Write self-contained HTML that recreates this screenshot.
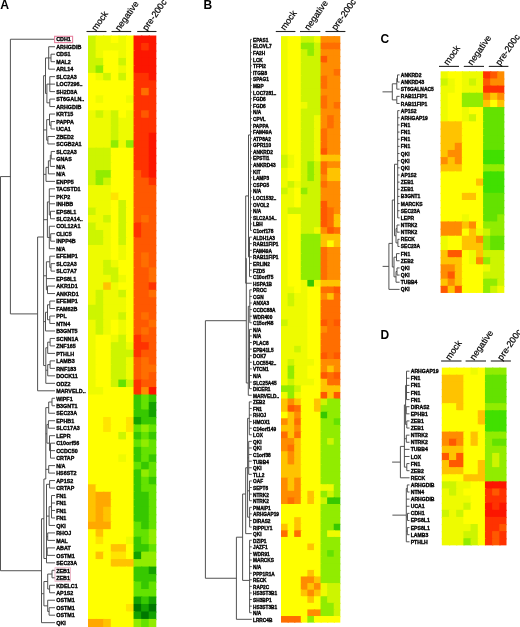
<!DOCTYPE html>
<html><head><meta charset="utf-8"><style>
html,body{margin:0;padding:0;background:#fff;overflow:hidden;width:520px;height:627px;}
svg{display:block;filter:blur(0.35px);}
text{font-family:"Liberation Sans", sans-serif;}
</style></head><body>
<svg width="526" height="633" viewBox="0 0 526 633">
<rect width="526" height="633" fill="#fff"/>
<rect x="88.00" y="35.50" width="8.79" height="8.68" fill="#cdf500"/>
<rect x="95.59" y="35.50" width="8.79" height="8.68" fill="#eefb00"/>
<rect x="103.18" y="35.50" width="8.79" height="8.68" fill="#eefb00"/>
<rect x="110.77" y="35.50" width="8.79" height="8.68" fill="#ffff00"/>
<rect x="118.36" y="35.50" width="8.79" height="8.68" fill="#eefb00"/>
<rect x="125.95" y="35.50" width="8.79" height="8.68" fill="#ffff00"/>
<rect x="133.54" y="35.50" width="8.79" height="8.68" fill="#fc1600"/>
<rect x="141.13" y="35.50" width="8.79" height="8.68" fill="#fc1600"/>
<rect x="148.72" y="35.50" width="7.59" height="8.68" fill="#fc1600"/>
<rect x="88.00" y="42.98" width="8.79" height="8.68" fill="#cdf500"/>
<rect x="95.59" y="42.98" width="8.79" height="8.68" fill="#eefb00"/>
<rect x="103.18" y="42.98" width="8.79" height="8.68" fill="#eefb00"/>
<rect x="110.77" y="42.98" width="8.79" height="8.68" fill="#eefb00"/>
<rect x="118.36" y="42.98" width="8.79" height="8.68" fill="#eefb00"/>
<rect x="125.95" y="42.98" width="8.79" height="8.68" fill="#ffff00"/>
<rect x="133.54" y="42.98" width="8.79" height="8.68" fill="#fc1600"/>
<rect x="141.13" y="42.98" width="8.79" height="8.68" fill="#ff3200"/>
<rect x="148.72" y="42.98" width="7.59" height="8.68" fill="#fc1600"/>
<rect x="88.00" y="50.46" width="8.79" height="8.68" fill="#cdf500"/>
<rect x="95.59" y="50.46" width="8.79" height="8.68" fill="#eefb00"/>
<rect x="103.18" y="50.46" width="8.79" height="8.68" fill="#ffff00"/>
<rect x="110.77" y="50.46" width="8.79" height="8.68" fill="#ffff00"/>
<rect x="118.36" y="50.46" width="8.79" height="8.68" fill="#eefb00"/>
<rect x="125.95" y="50.46" width="8.79" height="8.68" fill="#ffff00"/>
<rect x="133.54" y="50.46" width="8.79" height="8.68" fill="#fc1600"/>
<rect x="141.13" y="50.46" width="8.79" height="8.68" fill="#fc1600"/>
<rect x="148.72" y="50.46" width="7.59" height="8.68" fill="#fc1600"/>
<rect x="88.00" y="57.94" width="8.79" height="8.68" fill="#cdf500"/>
<rect x="95.59" y="57.94" width="8.79" height="8.68" fill="#cdf500"/>
<rect x="103.18" y="57.94" width="8.79" height="8.68" fill="#ffff00"/>
<rect x="110.77" y="57.94" width="8.79" height="8.68" fill="#ffff00"/>
<rect x="118.36" y="57.94" width="8.79" height="8.68" fill="#cdf500"/>
<rect x="125.95" y="57.94" width="8.79" height="8.68" fill="#ffff00"/>
<rect x="133.54" y="57.94" width="8.79" height="8.68" fill="#fc1600"/>
<rect x="141.13" y="57.94" width="8.79" height="8.68" fill="#fc1600"/>
<rect x="148.72" y="57.94" width="7.59" height="8.68" fill="#fc1600"/>
<rect x="88.00" y="65.42" width="8.79" height="8.68" fill="#cdf500"/>
<rect x="95.59" y="65.42" width="8.79" height="8.68" fill="#91ec00"/>
<rect x="103.18" y="65.42" width="8.79" height="8.68" fill="#ffff00"/>
<rect x="110.77" y="65.42" width="8.79" height="8.68" fill="#ffff00"/>
<rect x="118.36" y="65.42" width="8.79" height="8.68" fill="#eefb00"/>
<rect x="125.95" y="65.42" width="8.79" height="8.68" fill="#ffff00"/>
<rect x="133.54" y="65.42" width="8.79" height="8.68" fill="#fc1600"/>
<rect x="141.13" y="65.42" width="8.79" height="8.68" fill="#fc1600"/>
<rect x="148.72" y="65.42" width="7.59" height="8.68" fill="#fc1600"/>
<rect x="88.00" y="72.90" width="8.79" height="8.68" fill="#ffff00"/>
<rect x="95.59" y="72.90" width="8.79" height="8.68" fill="#eefb00"/>
<rect x="103.18" y="72.90" width="8.79" height="8.68" fill="#cdf500"/>
<rect x="110.77" y="72.90" width="8.79" height="8.68" fill="#ffff00"/>
<rect x="118.36" y="72.90" width="8.79" height="8.68" fill="#cdf500"/>
<rect x="125.95" y="72.90" width="8.79" height="8.68" fill="#ffff00"/>
<rect x="133.54" y="72.90" width="8.79" height="8.68" fill="#ff3200"/>
<rect x="141.13" y="72.90" width="8.79" height="8.68" fill="#ff3200"/>
<rect x="148.72" y="72.90" width="7.59" height="8.68" fill="#fc1600"/>
<rect x="88.00" y="80.38" width="8.79" height="8.68" fill="#ffff00"/>
<rect x="95.59" y="80.38" width="8.79" height="8.68" fill="#ffff00"/>
<rect x="103.18" y="80.38" width="8.79" height="8.68" fill="#ffff00"/>
<rect x="110.77" y="80.38" width="8.79" height="8.68" fill="#ffff00"/>
<rect x="118.36" y="80.38" width="8.79" height="8.68" fill="#ffff00"/>
<rect x="125.95" y="80.38" width="8.79" height="8.68" fill="#ffff00"/>
<rect x="133.54" y="80.38" width="8.79" height="8.68" fill="#ff3200"/>
<rect x="141.13" y="80.38" width="8.79" height="8.68" fill="#ff3200"/>
<rect x="148.72" y="80.38" width="7.59" height="8.68" fill="#ff3200"/>
<rect x="88.00" y="87.86" width="8.79" height="8.68" fill="#ffff00"/>
<rect x="95.59" y="87.86" width="8.79" height="8.68" fill="#ffff00"/>
<rect x="103.18" y="87.86" width="8.79" height="8.68" fill="#ffff00"/>
<rect x="110.77" y="87.86" width="8.79" height="8.68" fill="#ffff00"/>
<rect x="118.36" y="87.86" width="8.79" height="8.68" fill="#ffff00"/>
<rect x="125.95" y="87.86" width="8.79" height="8.68" fill="#ffff00"/>
<rect x="133.54" y="87.86" width="8.79" height="8.68" fill="#ff3200"/>
<rect x="141.13" y="87.86" width="8.79" height="8.68" fill="#ff6e00"/>
<rect x="148.72" y="87.86" width="7.59" height="8.68" fill="#ff3200"/>
<rect x="88.00" y="95.34" width="8.79" height="8.68" fill="#ffff00"/>
<rect x="95.59" y="95.34" width="8.79" height="8.68" fill="#eefb00"/>
<rect x="103.18" y="95.34" width="8.79" height="8.68" fill="#ffff00"/>
<rect x="110.77" y="95.34" width="8.79" height="8.68" fill="#ffff00"/>
<rect x="118.36" y="95.34" width="8.79" height="8.68" fill="#ffff00"/>
<rect x="125.95" y="95.34" width="8.79" height="8.68" fill="#eefb00"/>
<rect x="133.54" y="95.34" width="8.79" height="8.68" fill="#ff3200"/>
<rect x="141.13" y="95.34" width="8.79" height="8.68" fill="#ff3200"/>
<rect x="148.72" y="95.34" width="7.59" height="8.68" fill="#ff3200"/>
<rect x="88.00" y="102.82" width="8.79" height="8.68" fill="#ffff00"/>
<rect x="95.59" y="102.82" width="8.79" height="8.68" fill="#ffff00"/>
<rect x="103.18" y="102.82" width="8.79" height="8.68" fill="#ffff00"/>
<rect x="110.77" y="102.82" width="8.79" height="8.68" fill="#ffff00"/>
<rect x="118.36" y="102.82" width="8.79" height="8.68" fill="#ffff00"/>
<rect x="125.95" y="102.82" width="8.79" height="8.68" fill="#ffff00"/>
<rect x="133.54" y="102.82" width="8.79" height="8.68" fill="#ff3200"/>
<rect x="141.13" y="102.82" width="8.79" height="8.68" fill="#ff3200"/>
<rect x="148.72" y="102.82" width="7.59" height="8.68" fill="#ff3200"/>
<rect x="88.00" y="110.30" width="8.79" height="8.68" fill="#eefb00"/>
<rect x="95.59" y="110.30" width="8.79" height="8.68" fill="#cdf500"/>
<rect x="103.18" y="110.30" width="8.79" height="8.68" fill="#eefb00"/>
<rect x="110.77" y="110.30" width="8.79" height="8.68" fill="#cdf500"/>
<rect x="118.36" y="110.30" width="8.79" height="8.68" fill="#ffff00"/>
<rect x="125.95" y="110.30" width="8.79" height="8.68" fill="#eefb00"/>
<rect x="133.54" y="110.30" width="8.79" height="8.68" fill="#ff3200"/>
<rect x="141.13" y="110.30" width="8.79" height="8.68" fill="#ff5800"/>
<rect x="148.72" y="110.30" width="7.59" height="8.68" fill="#ff3200"/>
<rect x="88.00" y="117.78" width="8.79" height="8.68" fill="#eefb00"/>
<rect x="95.59" y="117.78" width="8.79" height="8.68" fill="#eefb00"/>
<rect x="103.18" y="117.78" width="8.79" height="8.68" fill="#eefb00"/>
<rect x="110.77" y="117.78" width="8.79" height="8.68" fill="#cdf500"/>
<rect x="118.36" y="117.78" width="8.79" height="8.68" fill="#eefb00"/>
<rect x="125.95" y="117.78" width="8.79" height="8.68" fill="#eefb00"/>
<rect x="133.54" y="117.78" width="8.79" height="8.68" fill="#ff3200"/>
<rect x="141.13" y="117.78" width="8.79" height="8.68" fill="#ff3200"/>
<rect x="148.72" y="117.78" width="7.59" height="8.68" fill="#ff3200"/>
<rect x="88.00" y="125.26" width="8.79" height="8.68" fill="#eefb00"/>
<rect x="95.59" y="125.26" width="8.79" height="8.68" fill="#eefb00"/>
<rect x="103.18" y="125.26" width="8.79" height="8.68" fill="#eefb00"/>
<rect x="110.77" y="125.26" width="8.79" height="8.68" fill="#cdf500"/>
<rect x="118.36" y="125.26" width="8.79" height="8.68" fill="#eefb00"/>
<rect x="125.95" y="125.26" width="8.79" height="8.68" fill="#eefb00"/>
<rect x="133.54" y="125.26" width="8.79" height="8.68" fill="#ff3200"/>
<rect x="141.13" y="125.26" width="8.79" height="8.68" fill="#ff3200"/>
<rect x="148.72" y="125.26" width="7.59" height="8.68" fill="#ff3200"/>
<rect x="88.00" y="132.74" width="8.79" height="8.68" fill="#eefb00"/>
<rect x="95.59" y="132.74" width="8.79" height="8.68" fill="#eefb00"/>
<rect x="103.18" y="132.74" width="8.79" height="8.68" fill="#eefb00"/>
<rect x="110.77" y="132.74" width="8.79" height="8.68" fill="#cdf500"/>
<rect x="118.36" y="132.74" width="8.79" height="8.68" fill="#eefb00"/>
<rect x="125.95" y="132.74" width="8.79" height="8.68" fill="#eefb00"/>
<rect x="133.54" y="132.74" width="8.79" height="8.68" fill="#ff3200"/>
<rect x="141.13" y="132.74" width="8.79" height="8.68" fill="#ff3200"/>
<rect x="148.72" y="132.74" width="7.59" height="8.68" fill="#fc1600"/>
<rect x="88.00" y="140.22" width="8.79" height="8.68" fill="#eefb00"/>
<rect x="95.59" y="140.22" width="8.79" height="8.68" fill="#eefb00"/>
<rect x="103.18" y="140.22" width="8.79" height="8.68" fill="#eefb00"/>
<rect x="110.77" y="140.22" width="8.79" height="8.68" fill="#91ec00"/>
<rect x="118.36" y="140.22" width="8.79" height="8.68" fill="#eefb00"/>
<rect x="125.95" y="140.22" width="8.79" height="8.68" fill="#91ec00"/>
<rect x="133.54" y="140.22" width="8.79" height="8.68" fill="#ff3200"/>
<rect x="141.13" y="140.22" width="8.79" height="8.68" fill="#ff3200"/>
<rect x="148.72" y="140.22" width="7.59" height="8.68" fill="#fc1600"/>
<rect x="88.00" y="147.70" width="8.79" height="8.68" fill="#cdf500"/>
<rect x="95.59" y="147.70" width="8.79" height="8.68" fill="#cdf500"/>
<rect x="103.18" y="147.70" width="8.79" height="8.68" fill="#cdf500"/>
<rect x="110.77" y="147.70" width="8.79" height="8.68" fill="#ffff00"/>
<rect x="118.36" y="147.70" width="8.79" height="8.68" fill="#ffff00"/>
<rect x="125.95" y="147.70" width="8.79" height="8.68" fill="#ffff00"/>
<rect x="133.54" y="147.70" width="8.79" height="8.68" fill="#ff3200"/>
<rect x="141.13" y="147.70" width="8.79" height="8.68" fill="#ff3200"/>
<rect x="148.72" y="147.70" width="7.59" height="8.68" fill="#fc1600"/>
<rect x="88.00" y="155.18" width="8.79" height="8.68" fill="#cdf500"/>
<rect x="95.59" y="155.18" width="8.79" height="8.68" fill="#cdf500"/>
<rect x="103.18" y="155.18" width="8.79" height="8.68" fill="#cdf500"/>
<rect x="110.77" y="155.18" width="8.79" height="8.68" fill="#ffff00"/>
<rect x="118.36" y="155.18" width="8.79" height="8.68" fill="#ffff00"/>
<rect x="125.95" y="155.18" width="8.79" height="8.68" fill="#ffff00"/>
<rect x="133.54" y="155.18" width="8.79" height="8.68" fill="#ff3200"/>
<rect x="141.13" y="155.18" width="8.79" height="8.68" fill="#ff3200"/>
<rect x="148.72" y="155.18" width="7.59" height="8.68" fill="#fc1600"/>
<rect x="88.00" y="162.66" width="8.79" height="8.68" fill="#cdf500"/>
<rect x="95.59" y="162.66" width="8.79" height="8.68" fill="#cdf500"/>
<rect x="103.18" y="162.66" width="8.79" height="8.68" fill="#cdf500"/>
<rect x="110.77" y="162.66" width="8.79" height="8.68" fill="#ffff00"/>
<rect x="118.36" y="162.66" width="8.79" height="8.68" fill="#ffff00"/>
<rect x="125.95" y="162.66" width="8.79" height="8.68" fill="#ffff00"/>
<rect x="133.54" y="162.66" width="8.79" height="8.68" fill="#ff3200"/>
<rect x="141.13" y="162.66" width="8.79" height="8.68" fill="#ff3200"/>
<rect x="148.72" y="162.66" width="7.59" height="8.68" fill="#fc1600"/>
<rect x="88.00" y="170.14" width="8.79" height="8.68" fill="#cdf500"/>
<rect x="95.59" y="170.14" width="8.79" height="8.68" fill="#91ec00"/>
<rect x="103.18" y="170.14" width="8.79" height="8.68" fill="#91ec00"/>
<rect x="110.77" y="170.14" width="8.79" height="8.68" fill="#ffff00"/>
<rect x="118.36" y="170.14" width="8.79" height="8.68" fill="#ffff00"/>
<rect x="125.95" y="170.14" width="8.79" height="8.68" fill="#ffff00"/>
<rect x="133.54" y="170.14" width="8.79" height="8.68" fill="#ff5800"/>
<rect x="141.13" y="170.14" width="8.79" height="8.68" fill="#ff3200"/>
<rect x="148.72" y="170.14" width="7.59" height="8.68" fill="#fc1600"/>
<rect x="88.00" y="177.62" width="8.79" height="8.68" fill="#cdf500"/>
<rect x="95.59" y="177.62" width="8.79" height="8.68" fill="#91ec00"/>
<rect x="103.18" y="177.62" width="8.79" height="8.68" fill="#cdf500"/>
<rect x="110.77" y="177.62" width="8.79" height="8.68" fill="#ffff00"/>
<rect x="118.36" y="177.62" width="8.79" height="8.68" fill="#ffff00"/>
<rect x="125.95" y="177.62" width="8.79" height="8.68" fill="#ffff00"/>
<rect x="133.54" y="177.62" width="8.79" height="8.68" fill="#ff5800"/>
<rect x="141.13" y="177.62" width="8.79" height="8.68" fill="#ff5800"/>
<rect x="148.72" y="177.62" width="7.59" height="8.68" fill="#ff3200"/>
<rect x="88.00" y="185.10" width="8.79" height="8.68" fill="#eefb00"/>
<rect x="95.59" y="185.10" width="8.79" height="8.68" fill="#eefb00"/>
<rect x="103.18" y="185.10" width="8.79" height="8.68" fill="#eefb00"/>
<rect x="110.77" y="185.10" width="8.79" height="8.68" fill="#ffff00"/>
<rect x="118.36" y="185.10" width="8.79" height="8.68" fill="#ffff00"/>
<rect x="125.95" y="185.10" width="8.79" height="8.68" fill="#ffff00"/>
<rect x="133.54" y="185.10" width="8.79" height="8.68" fill="#ff5800"/>
<rect x="141.13" y="185.10" width="8.79" height="8.68" fill="#ff5800"/>
<rect x="148.72" y="185.10" width="7.59" height="8.68" fill="#ff5800"/>
<rect x="88.00" y="192.58" width="8.79" height="8.68" fill="#eefb00"/>
<rect x="95.59" y="192.58" width="8.79" height="8.68" fill="#eefb00"/>
<rect x="103.18" y="192.58" width="8.79" height="8.68" fill="#eefb00"/>
<rect x="110.77" y="192.58" width="8.79" height="8.68" fill="#ffe400"/>
<rect x="118.36" y="192.58" width="8.79" height="8.68" fill="#ffff00"/>
<rect x="125.95" y="192.58" width="8.79" height="8.68" fill="#ffff00"/>
<rect x="133.54" y="192.58" width="8.79" height="8.68" fill="#ff5800"/>
<rect x="141.13" y="192.58" width="8.79" height="8.68" fill="#ff5800"/>
<rect x="148.72" y="192.58" width="7.59" height="8.68" fill="#ff5800"/>
<rect x="88.00" y="200.06" width="8.79" height="8.68" fill="#eefb00"/>
<rect x="95.59" y="200.06" width="8.79" height="8.68" fill="#eefb00"/>
<rect x="103.18" y="200.06" width="8.79" height="8.68" fill="#eefb00"/>
<rect x="110.77" y="200.06" width="8.79" height="8.68" fill="#ffff00"/>
<rect x="118.36" y="200.06" width="8.79" height="8.68" fill="#cdf500"/>
<rect x="125.95" y="200.06" width="8.79" height="8.68" fill="#ffff00"/>
<rect x="133.54" y="200.06" width="8.79" height="8.68" fill="#ff5800"/>
<rect x="141.13" y="200.06" width="8.79" height="8.68" fill="#ff5800"/>
<rect x="148.72" y="200.06" width="7.59" height="8.68" fill="#ff5800"/>
<rect x="88.00" y="207.54" width="8.79" height="8.68" fill="#cdf500"/>
<rect x="95.59" y="207.54" width="8.79" height="8.68" fill="#eefb00"/>
<rect x="103.18" y="207.54" width="8.79" height="8.68" fill="#eefb00"/>
<rect x="110.77" y="207.54" width="8.79" height="8.68" fill="#ffff00"/>
<rect x="118.36" y="207.54" width="8.79" height="8.68" fill="#cdf500"/>
<rect x="125.95" y="207.54" width="8.79" height="8.68" fill="#ffff00"/>
<rect x="133.54" y="207.54" width="8.79" height="8.68" fill="#ff5800"/>
<rect x="141.13" y="207.54" width="8.79" height="8.68" fill="#ff5800"/>
<rect x="148.72" y="207.54" width="7.59" height="8.68" fill="#ff5800"/>
<rect x="88.00" y="215.02" width="8.79" height="8.68" fill="#eefb00"/>
<rect x="95.59" y="215.02" width="8.79" height="8.68" fill="#eefb00"/>
<rect x="103.18" y="215.02" width="8.79" height="8.68" fill="#cdf500"/>
<rect x="110.77" y="215.02" width="8.79" height="8.68" fill="#ffff00"/>
<rect x="118.36" y="215.02" width="8.79" height="8.68" fill="#cdf500"/>
<rect x="125.95" y="215.02" width="8.79" height="8.68" fill="#ffff00"/>
<rect x="133.54" y="215.02" width="8.79" height="8.68" fill="#ff5800"/>
<rect x="141.13" y="215.02" width="8.79" height="8.68" fill="#ff6e00"/>
<rect x="148.72" y="215.02" width="7.59" height="8.68" fill="#ff5800"/>
<rect x="88.00" y="222.50" width="8.79" height="8.68" fill="#cdf500"/>
<rect x="95.59" y="222.50" width="8.79" height="8.68" fill="#eefb00"/>
<rect x="103.18" y="222.50" width="8.79" height="8.68" fill="#eefb00"/>
<rect x="110.77" y="222.50" width="8.79" height="8.68" fill="#ffff00"/>
<rect x="118.36" y="222.50" width="8.79" height="8.68" fill="#cdf500"/>
<rect x="125.95" y="222.50" width="8.79" height="8.68" fill="#ffff00"/>
<rect x="133.54" y="222.50" width="8.79" height="8.68" fill="#ff3200"/>
<rect x="141.13" y="222.50" width="8.79" height="8.68" fill="#ff5800"/>
<rect x="148.72" y="222.50" width="7.59" height="8.68" fill="#ff5800"/>
<rect x="88.00" y="229.98" width="8.79" height="8.68" fill="#cdf500"/>
<rect x="95.59" y="229.98" width="8.79" height="8.68" fill="#cdf500"/>
<rect x="103.18" y="229.98" width="8.79" height="8.68" fill="#eefb00"/>
<rect x="110.77" y="229.98" width="8.79" height="8.68" fill="#ffff00"/>
<rect x="118.36" y="229.98" width="8.79" height="8.68" fill="#cdf500"/>
<rect x="125.95" y="229.98" width="8.79" height="8.68" fill="#ffff00"/>
<rect x="133.54" y="229.98" width="8.79" height="8.68" fill="#ff3200"/>
<rect x="141.13" y="229.98" width="8.79" height="8.68" fill="#ff5800"/>
<rect x="148.72" y="229.98" width="7.59" height="8.68" fill="#ff5800"/>
<rect x="88.00" y="237.46" width="8.79" height="8.68" fill="#cdf500"/>
<rect x="95.59" y="237.46" width="8.79" height="8.68" fill="#cdf500"/>
<rect x="103.18" y="237.46" width="8.79" height="8.68" fill="#eefb00"/>
<rect x="110.77" y="237.46" width="8.79" height="8.68" fill="#ffff00"/>
<rect x="118.36" y="237.46" width="8.79" height="8.68" fill="#cdf500"/>
<rect x="125.95" y="237.46" width="8.79" height="8.68" fill="#ffff00"/>
<rect x="133.54" y="237.46" width="8.79" height="8.68" fill="#ff5800"/>
<rect x="141.13" y="237.46" width="8.79" height="8.68" fill="#ff5800"/>
<rect x="148.72" y="237.46" width="7.59" height="8.68" fill="#ff5800"/>
<rect x="88.00" y="244.94" width="8.79" height="8.68" fill="#eefb00"/>
<rect x="95.59" y="244.94" width="8.79" height="8.68" fill="#eefb00"/>
<rect x="103.18" y="244.94" width="8.79" height="8.68" fill="#eefb00"/>
<rect x="110.77" y="244.94" width="8.79" height="8.68" fill="#ffff00"/>
<rect x="118.36" y="244.94" width="8.79" height="8.68" fill="#eefb00"/>
<rect x="125.95" y="244.94" width="8.79" height="8.68" fill="#ffff00"/>
<rect x="133.54" y="244.94" width="8.79" height="8.68" fill="#ff5800"/>
<rect x="141.13" y="244.94" width="8.79" height="8.68" fill="#ff5800"/>
<rect x="148.72" y="244.94" width="7.59" height="8.68" fill="#ff5800"/>
<rect x="88.00" y="252.42" width="8.79" height="8.68" fill="#eefb00"/>
<rect x="95.59" y="252.42" width="8.79" height="8.68" fill="#eefb00"/>
<rect x="103.18" y="252.42" width="8.79" height="8.68" fill="#eefb00"/>
<rect x="110.77" y="252.42" width="8.79" height="8.68" fill="#ffff00"/>
<rect x="118.36" y="252.42" width="8.79" height="8.68" fill="#eefb00"/>
<rect x="125.95" y="252.42" width="8.79" height="8.68" fill="#ffff00"/>
<rect x="133.54" y="252.42" width="8.79" height="8.68" fill="#ff5800"/>
<rect x="141.13" y="252.42" width="8.79" height="8.68" fill="#ff6e00"/>
<rect x="148.72" y="252.42" width="7.59" height="8.68" fill="#ff5800"/>
<rect x="88.00" y="259.90" width="8.79" height="8.68" fill="#eefb00"/>
<rect x="95.59" y="259.90" width="8.79" height="8.68" fill="#eefb00"/>
<rect x="103.18" y="259.90" width="8.79" height="8.68" fill="#cdf500"/>
<rect x="110.77" y="259.90" width="8.79" height="8.68" fill="#eefb00"/>
<rect x="118.36" y="259.90" width="8.79" height="8.68" fill="#ffff00"/>
<rect x="125.95" y="259.90" width="8.79" height="8.68" fill="#ffff00"/>
<rect x="133.54" y="259.90" width="8.79" height="8.68" fill="#ff5800"/>
<rect x="141.13" y="259.90" width="8.79" height="8.68" fill="#ff6e00"/>
<rect x="148.72" y="259.90" width="7.59" height="8.68" fill="#ff5800"/>
<rect x="88.00" y="267.38" width="8.79" height="8.68" fill="#eefb00"/>
<rect x="95.59" y="267.38" width="8.79" height="8.68" fill="#eefb00"/>
<rect x="103.18" y="267.38" width="8.79" height="8.68" fill="#cdf500"/>
<rect x="110.77" y="267.38" width="8.79" height="8.68" fill="#cdf500"/>
<rect x="118.36" y="267.38" width="8.79" height="8.68" fill="#ffff00"/>
<rect x="125.95" y="267.38" width="8.79" height="8.68" fill="#ffff00"/>
<rect x="133.54" y="267.38" width="8.79" height="8.68" fill="#ff5800"/>
<rect x="141.13" y="267.38" width="8.79" height="8.68" fill="#ff5800"/>
<rect x="148.72" y="267.38" width="7.59" height="8.68" fill="#ff6e00"/>
<rect x="88.00" y="274.86" width="8.79" height="8.68" fill="#eefb00"/>
<rect x="95.59" y="274.86" width="8.79" height="8.68" fill="#eefb00"/>
<rect x="103.18" y="274.86" width="8.79" height="8.68" fill="#eefb00"/>
<rect x="110.77" y="274.86" width="8.79" height="8.68" fill="#cdf500"/>
<rect x="118.36" y="274.86" width="8.79" height="8.68" fill="#eefb00"/>
<rect x="125.95" y="274.86" width="8.79" height="8.68" fill="#ffff00"/>
<rect x="133.54" y="274.86" width="8.79" height="8.68" fill="#ff5800"/>
<rect x="141.13" y="274.86" width="8.79" height="8.68" fill="#ff5800"/>
<rect x="148.72" y="274.86" width="7.59" height="8.68" fill="#ff6e00"/>
<rect x="88.00" y="282.34" width="8.79" height="8.68" fill="#eefb00"/>
<rect x="95.59" y="282.34" width="8.79" height="8.68" fill="#eefb00"/>
<rect x="103.18" y="282.34" width="8.79" height="8.68" fill="#ffc300"/>
<rect x="110.77" y="282.34" width="8.79" height="8.68" fill="#eefb00"/>
<rect x="118.36" y="282.34" width="8.79" height="8.68" fill="#ffff00"/>
<rect x="125.95" y="282.34" width="8.79" height="8.68" fill="#ffff00"/>
<rect x="133.54" y="282.34" width="8.79" height="8.68" fill="#ff5800"/>
<rect x="141.13" y="282.34" width="8.79" height="8.68" fill="#ff5800"/>
<rect x="148.72" y="282.34" width="7.59" height="8.68" fill="#ff3200"/>
<rect x="88.00" y="289.82" width="8.79" height="8.68" fill="#eefb00"/>
<rect x="95.59" y="289.82" width="8.79" height="8.68" fill="#cdf500"/>
<rect x="103.18" y="289.82" width="8.79" height="8.68" fill="#eefb00"/>
<rect x="110.77" y="289.82" width="8.79" height="8.68" fill="#eefb00"/>
<rect x="118.36" y="289.82" width="8.79" height="8.68" fill="#cdf500"/>
<rect x="125.95" y="289.82" width="8.79" height="8.68" fill="#ffff00"/>
<rect x="133.54" y="289.82" width="8.79" height="8.68" fill="#ff5800"/>
<rect x="141.13" y="289.82" width="8.79" height="8.68" fill="#ff5800"/>
<rect x="148.72" y="289.82" width="7.59" height="8.68" fill="#ff6e00"/>
<rect x="88.00" y="297.30" width="8.79" height="8.68" fill="#eefb00"/>
<rect x="95.59" y="297.30" width="8.79" height="8.68" fill="#cdf500"/>
<rect x="103.18" y="297.30" width="8.79" height="8.68" fill="#eefb00"/>
<rect x="110.77" y="297.30" width="8.79" height="8.68" fill="#eefb00"/>
<rect x="118.36" y="297.30" width="8.79" height="8.68" fill="#eefb00"/>
<rect x="125.95" y="297.30" width="8.79" height="8.68" fill="#ffff00"/>
<rect x="133.54" y="297.30" width="8.79" height="8.68" fill="#ff5800"/>
<rect x="141.13" y="297.30" width="8.79" height="8.68" fill="#ff5800"/>
<rect x="148.72" y="297.30" width="7.59" height="8.68" fill="#ff5800"/>
<rect x="88.00" y="304.78" width="8.79" height="8.68" fill="#cdf500"/>
<rect x="95.59" y="304.78" width="8.79" height="8.68" fill="#cdf500"/>
<rect x="103.18" y="304.78" width="8.79" height="8.68" fill="#eefb00"/>
<rect x="110.77" y="304.78" width="8.79" height="8.68" fill="#eefb00"/>
<rect x="118.36" y="304.78" width="8.79" height="8.68" fill="#eefb00"/>
<rect x="125.95" y="304.78" width="8.79" height="8.68" fill="#ffff00"/>
<rect x="133.54" y="304.78" width="8.79" height="8.68" fill="#ff5800"/>
<rect x="141.13" y="304.78" width="8.79" height="8.68" fill="#ff5800"/>
<rect x="148.72" y="304.78" width="7.59" height="8.68" fill="#ff5800"/>
<rect x="88.00" y="312.26" width="8.79" height="8.68" fill="#cdf500"/>
<rect x="95.59" y="312.26" width="8.79" height="8.68" fill="#cdf500"/>
<rect x="103.18" y="312.26" width="8.79" height="8.68" fill="#eefb00"/>
<rect x="110.77" y="312.26" width="8.79" height="8.68" fill="#eefb00"/>
<rect x="118.36" y="312.26" width="8.79" height="8.68" fill="#cdf500"/>
<rect x="125.95" y="312.26" width="8.79" height="8.68" fill="#ffff00"/>
<rect x="133.54" y="312.26" width="8.79" height="8.68" fill="#ff5800"/>
<rect x="141.13" y="312.26" width="8.79" height="8.68" fill="#ff6e00"/>
<rect x="148.72" y="312.26" width="7.59" height="8.68" fill="#ff5800"/>
<rect x="88.00" y="319.74" width="8.79" height="8.68" fill="#eefb00"/>
<rect x="95.59" y="319.74" width="8.79" height="8.68" fill="#cdf500"/>
<rect x="103.18" y="319.74" width="8.79" height="8.68" fill="#eefb00"/>
<rect x="110.77" y="319.74" width="8.79" height="8.68" fill="#ffff00"/>
<rect x="118.36" y="319.74" width="8.79" height="8.68" fill="#eefb00"/>
<rect x="125.95" y="319.74" width="8.79" height="8.68" fill="#ffff00"/>
<rect x="133.54" y="319.74" width="8.79" height="8.68" fill="#ff5800"/>
<rect x="141.13" y="319.74" width="8.79" height="8.68" fill="#ff5800"/>
<rect x="148.72" y="319.74" width="7.59" height="8.68" fill="#ff6e00"/>
<rect x="88.00" y="327.22" width="8.79" height="8.68" fill="#eefb00"/>
<rect x="95.59" y="327.22" width="8.79" height="8.68" fill="#cdf500"/>
<rect x="103.18" y="327.22" width="8.79" height="8.68" fill="#eefb00"/>
<rect x="110.77" y="327.22" width="8.79" height="8.68" fill="#ffff00"/>
<rect x="118.36" y="327.22" width="8.79" height="8.68" fill="#eefb00"/>
<rect x="125.95" y="327.22" width="8.79" height="8.68" fill="#ffff00"/>
<rect x="133.54" y="327.22" width="8.79" height="8.68" fill="#ff5800"/>
<rect x="141.13" y="327.22" width="8.79" height="8.68" fill="#ff6e00"/>
<rect x="148.72" y="327.22" width="7.59" height="8.68" fill="#ff5800"/>
<rect x="88.00" y="334.70" width="8.79" height="8.68" fill="#eefb00"/>
<rect x="95.59" y="334.70" width="8.79" height="8.68" fill="#ffff00"/>
<rect x="103.18" y="334.70" width="8.79" height="8.68" fill="#ffff00"/>
<rect x="110.77" y="334.70" width="8.79" height="8.68" fill="#eefb00"/>
<rect x="118.36" y="334.70" width="8.79" height="8.68" fill="#cdf500"/>
<rect x="125.95" y="334.70" width="8.79" height="8.68" fill="#ffff00"/>
<rect x="133.54" y="334.70" width="8.79" height="8.68" fill="#ff3200"/>
<rect x="141.13" y="334.70" width="8.79" height="8.68" fill="#ff5800"/>
<rect x="148.72" y="334.70" width="7.59" height="8.68" fill="#ff5800"/>
<rect x="88.00" y="342.18" width="8.79" height="8.68" fill="#eefb00"/>
<rect x="95.59" y="342.18" width="8.79" height="8.68" fill="#ffff00"/>
<rect x="103.18" y="342.18" width="8.79" height="8.68" fill="#ffff00"/>
<rect x="110.77" y="342.18" width="8.79" height="8.68" fill="#cdf500"/>
<rect x="118.36" y="342.18" width="8.79" height="8.68" fill="#cdf500"/>
<rect x="125.95" y="342.18" width="8.79" height="8.68" fill="#eefb00"/>
<rect x="133.54" y="342.18" width="8.79" height="8.68" fill="#ff3200"/>
<rect x="141.13" y="342.18" width="8.79" height="8.68" fill="#ff3200"/>
<rect x="148.72" y="342.18" width="7.59" height="8.68" fill="#ff5800"/>
<rect x="88.00" y="349.66" width="8.79" height="8.68" fill="#eefb00"/>
<rect x="95.59" y="349.66" width="8.79" height="8.68" fill="#ffff00"/>
<rect x="103.18" y="349.66" width="8.79" height="8.68" fill="#ffff00"/>
<rect x="110.77" y="349.66" width="8.79" height="8.68" fill="#cdf500"/>
<rect x="118.36" y="349.66" width="8.79" height="8.68" fill="#cdf500"/>
<rect x="125.95" y="349.66" width="8.79" height="8.68" fill="#cdf500"/>
<rect x="133.54" y="349.66" width="8.79" height="8.68" fill="#ff3200"/>
<rect x="141.13" y="349.66" width="8.79" height="8.68" fill="#ff5800"/>
<rect x="148.72" y="349.66" width="7.59" height="8.68" fill="#ff5800"/>
<rect x="88.00" y="357.14" width="8.79" height="8.68" fill="#eefb00"/>
<rect x="95.59" y="357.14" width="8.79" height="8.68" fill="#ffff00"/>
<rect x="103.18" y="357.14" width="8.79" height="8.68" fill="#ffff00"/>
<rect x="110.77" y="357.14" width="8.79" height="8.68" fill="#cdf500"/>
<rect x="118.36" y="357.14" width="8.79" height="8.68" fill="#cdf500"/>
<rect x="125.95" y="357.14" width="8.79" height="8.68" fill="#eefb00"/>
<rect x="133.54" y="357.14" width="8.79" height="8.68" fill="#ff5800"/>
<rect x="141.13" y="357.14" width="8.79" height="8.68" fill="#ff6e00"/>
<rect x="148.72" y="357.14" width="7.59" height="8.68" fill="#ff5800"/>
<rect x="88.00" y="364.62" width="8.79" height="8.68" fill="#eefb00"/>
<rect x="95.59" y="364.62" width="8.79" height="8.68" fill="#ffff00"/>
<rect x="103.18" y="364.62" width="8.79" height="8.68" fill="#ffff00"/>
<rect x="110.77" y="364.62" width="8.79" height="8.68" fill="#cdf500"/>
<rect x="118.36" y="364.62" width="8.79" height="8.68" fill="#cdf500"/>
<rect x="125.95" y="364.62" width="8.79" height="8.68" fill="#eefb00"/>
<rect x="133.54" y="364.62" width="8.79" height="8.68" fill="#ff5800"/>
<rect x="141.13" y="364.62" width="8.79" height="8.68" fill="#ff6e00"/>
<rect x="148.72" y="364.62" width="7.59" height="8.68" fill="#ff6e00"/>
<rect x="88.00" y="372.10" width="8.79" height="8.68" fill="#eefb00"/>
<rect x="95.59" y="372.10" width="8.79" height="8.68" fill="#ffff00"/>
<rect x="103.18" y="372.10" width="8.79" height="8.68" fill="#ffff00"/>
<rect x="110.77" y="372.10" width="8.79" height="8.68" fill="#cdf500"/>
<rect x="118.36" y="372.10" width="8.79" height="8.68" fill="#cdf500"/>
<rect x="125.95" y="372.10" width="8.79" height="8.68" fill="#eefb00"/>
<rect x="133.54" y="372.10" width="8.79" height="8.68" fill="#ff5800"/>
<rect x="141.13" y="372.10" width="8.79" height="8.68" fill="#ff6e00"/>
<rect x="148.72" y="372.10" width="7.59" height="8.68" fill="#ff5800"/>
<rect x="88.00" y="379.58" width="8.79" height="8.68" fill="#eefb00"/>
<rect x="95.59" y="379.58" width="8.79" height="8.68" fill="#ffff00"/>
<rect x="103.18" y="379.58" width="8.79" height="8.68" fill="#ffff00"/>
<rect x="110.77" y="379.58" width="8.79" height="8.68" fill="#cdf500"/>
<rect x="118.36" y="379.58" width="8.79" height="8.68" fill="#64e200"/>
<rect x="125.95" y="379.58" width="8.79" height="8.68" fill="#cdf500"/>
<rect x="133.54" y="379.58" width="8.79" height="8.68" fill="#ff3200"/>
<rect x="141.13" y="379.58" width="8.79" height="8.68" fill="#ff5800"/>
<rect x="148.72" y="379.58" width="7.59" height="8.68" fill="#ff5800"/>
<rect x="88.00" y="387.06" width="8.79" height="8.68" fill="#eefb00"/>
<rect x="95.59" y="387.06" width="8.79" height="8.68" fill="#eefb00"/>
<rect x="103.18" y="387.06" width="8.79" height="8.68" fill="#ffff00"/>
<rect x="110.77" y="387.06" width="8.79" height="8.68" fill="#ffff00"/>
<rect x="118.36" y="387.06" width="8.79" height="8.68" fill="#ffff00"/>
<rect x="125.95" y="387.06" width="8.79" height="8.68" fill="#ffff00"/>
<rect x="133.54" y="387.06" width="8.79" height="8.68" fill="#ff3200"/>
<rect x="141.13" y="387.06" width="8.79" height="8.68" fill="#ff8c00"/>
<rect x="148.72" y="387.06" width="7.59" height="8.68" fill="#fc1600"/>
<rect x="88.00" y="394.54" width="8.79" height="8.68" fill="#ffff00"/>
<rect x="95.59" y="394.54" width="8.79" height="8.68" fill="#ffff00"/>
<rect x="103.18" y="394.54" width="8.79" height="8.68" fill="#ffff00"/>
<rect x="110.77" y="394.54" width="8.79" height="8.68" fill="#ffff00"/>
<rect x="118.36" y="394.54" width="8.79" height="8.68" fill="#ffff00"/>
<rect x="125.95" y="394.54" width="8.79" height="8.68" fill="#ffff00"/>
<rect x="133.54" y="394.54" width="8.79" height="8.68" fill="#37c800"/>
<rect x="141.13" y="394.54" width="8.79" height="8.68" fill="#64e200"/>
<rect x="148.72" y="394.54" width="7.59" height="8.68" fill="#37c800"/>
<rect x="88.00" y="402.02" width="8.79" height="8.68" fill="#ffff00"/>
<rect x="95.59" y="402.02" width="8.79" height="8.68" fill="#ffff00"/>
<rect x="103.18" y="402.02" width="8.79" height="8.68" fill="#ffff00"/>
<rect x="110.77" y="402.02" width="8.79" height="8.68" fill="#ffff00"/>
<rect x="118.36" y="402.02" width="8.79" height="8.68" fill="#ffff00"/>
<rect x="125.95" y="402.02" width="8.79" height="8.68" fill="#ffff00"/>
<rect x="133.54" y="402.02" width="8.79" height="8.68" fill="#37c800"/>
<rect x="141.13" y="402.02" width="8.79" height="8.68" fill="#64e200"/>
<rect x="148.72" y="402.02" width="7.59" height="8.68" fill="#14a200"/>
<rect x="88.00" y="409.50" width="8.79" height="8.68" fill="#ffff00"/>
<rect x="95.59" y="409.50" width="8.79" height="8.68" fill="#ffff00"/>
<rect x="103.18" y="409.50" width="8.79" height="8.68" fill="#ffff00"/>
<rect x="110.77" y="409.50" width="8.79" height="8.68" fill="#ffff00"/>
<rect x="118.36" y="409.50" width="8.79" height="8.68" fill="#ffff00"/>
<rect x="125.95" y="409.50" width="8.79" height="8.68" fill="#ffff00"/>
<rect x="133.54" y="409.50" width="8.79" height="8.68" fill="#37c800"/>
<rect x="141.13" y="409.50" width="8.79" height="8.68" fill="#37c800"/>
<rect x="148.72" y="409.50" width="7.59" height="8.68" fill="#14a200"/>
<rect x="88.00" y="416.98" width="8.79" height="8.68" fill="#ffff00"/>
<rect x="95.59" y="416.98" width="8.79" height="8.68" fill="#ffff00"/>
<rect x="103.18" y="416.98" width="8.79" height="8.68" fill="#ffe400"/>
<rect x="110.77" y="416.98" width="8.79" height="8.68" fill="#ffff00"/>
<rect x="118.36" y="416.98" width="8.79" height="8.68" fill="#ffff00"/>
<rect x="125.95" y="416.98" width="8.79" height="8.68" fill="#ffe400"/>
<rect x="133.54" y="416.98" width="8.79" height="8.68" fill="#14a200"/>
<rect x="141.13" y="416.98" width="8.79" height="8.68" fill="#37c800"/>
<rect x="148.72" y="416.98" width="7.59" height="8.68" fill="#37c800"/>
<rect x="88.00" y="424.46" width="8.79" height="8.68" fill="#ffff00"/>
<rect x="95.59" y="424.46" width="8.79" height="8.68" fill="#ffff00"/>
<rect x="103.18" y="424.46" width="8.79" height="8.68" fill="#ffe400"/>
<rect x="110.77" y="424.46" width="8.79" height="8.68" fill="#ffff00"/>
<rect x="118.36" y="424.46" width="8.79" height="8.68" fill="#ffff00"/>
<rect x="125.95" y="424.46" width="8.79" height="8.68" fill="#ffe400"/>
<rect x="133.54" y="424.46" width="8.79" height="8.68" fill="#64e200"/>
<rect x="141.13" y="424.46" width="8.79" height="8.68" fill="#91ec00"/>
<rect x="148.72" y="424.46" width="7.59" height="8.68" fill="#64e200"/>
<rect x="88.00" y="431.94" width="8.79" height="8.68" fill="#ffff00"/>
<rect x="95.59" y="431.94" width="8.79" height="8.68" fill="#ffff00"/>
<rect x="103.18" y="431.94" width="8.79" height="8.68" fill="#ffff00"/>
<rect x="110.77" y="431.94" width="8.79" height="8.68" fill="#ffff00"/>
<rect x="118.36" y="431.94" width="8.79" height="8.68" fill="#cdf500"/>
<rect x="125.95" y="431.94" width="8.79" height="8.68" fill="#ffff00"/>
<rect x="133.54" y="431.94" width="8.79" height="8.68" fill="#37c800"/>
<rect x="141.13" y="431.94" width="8.79" height="8.68" fill="#64e200"/>
<rect x="148.72" y="431.94" width="7.59" height="8.68" fill="#37c800"/>
<rect x="88.00" y="439.42" width="8.79" height="8.68" fill="#ffff00"/>
<rect x="95.59" y="439.42" width="8.79" height="8.68" fill="#ffff00"/>
<rect x="103.18" y="439.42" width="8.79" height="8.68" fill="#ffff00"/>
<rect x="110.77" y="439.42" width="8.79" height="8.68" fill="#ffff00"/>
<rect x="118.36" y="439.42" width="8.79" height="8.68" fill="#ffff00"/>
<rect x="125.95" y="439.42" width="8.79" height="8.68" fill="#ffff00"/>
<rect x="133.54" y="439.42" width="8.79" height="8.68" fill="#64e200"/>
<rect x="141.13" y="439.42" width="8.79" height="8.68" fill="#91ec00"/>
<rect x="148.72" y="439.42" width="7.59" height="8.68" fill="#64e200"/>
<rect x="88.00" y="446.90" width="8.79" height="8.68" fill="#ffff00"/>
<rect x="95.59" y="446.90" width="8.79" height="8.68" fill="#ffff00"/>
<rect x="103.18" y="446.90" width="8.79" height="8.68" fill="#ffff00"/>
<rect x="110.77" y="446.90" width="8.79" height="8.68" fill="#ffff00"/>
<rect x="118.36" y="446.90" width="8.79" height="8.68" fill="#ffff00"/>
<rect x="125.95" y="446.90" width="8.79" height="8.68" fill="#ffff00"/>
<rect x="133.54" y="446.90" width="8.79" height="8.68" fill="#37c800"/>
<rect x="141.13" y="446.90" width="8.79" height="8.68" fill="#64e200"/>
<rect x="148.72" y="446.90" width="7.59" height="8.68" fill="#64e200"/>
<rect x="88.00" y="454.38" width="8.79" height="8.68" fill="#ffff00"/>
<rect x="95.59" y="454.38" width="8.79" height="8.68" fill="#ffff00"/>
<rect x="103.18" y="454.38" width="8.79" height="8.68" fill="#ffff00"/>
<rect x="110.77" y="454.38" width="8.79" height="8.68" fill="#ffff00"/>
<rect x="118.36" y="454.38" width="8.79" height="8.68" fill="#eefb00"/>
<rect x="125.95" y="454.38" width="8.79" height="8.68" fill="#ffff00"/>
<rect x="133.54" y="454.38" width="8.79" height="8.68" fill="#37c800"/>
<rect x="141.13" y="454.38" width="8.79" height="8.68" fill="#64e200"/>
<rect x="148.72" y="454.38" width="7.59" height="8.68" fill="#37c800"/>
<rect x="88.00" y="461.86" width="8.79" height="8.68" fill="#ffff00"/>
<rect x="95.59" y="461.86" width="8.79" height="8.68" fill="#ffff00"/>
<rect x="103.18" y="461.86" width="8.79" height="8.68" fill="#ffff00"/>
<rect x="110.77" y="461.86" width="8.79" height="8.68" fill="#ffff00"/>
<rect x="118.36" y="461.86" width="8.79" height="8.68" fill="#ffff00"/>
<rect x="125.95" y="461.86" width="8.79" height="8.68" fill="#ffff00"/>
<rect x="133.54" y="461.86" width="8.79" height="8.68" fill="#64e200"/>
<rect x="141.13" y="461.86" width="8.79" height="8.68" fill="#37c800"/>
<rect x="148.72" y="461.86" width="7.59" height="8.68" fill="#64e200"/>
<rect x="88.00" y="469.34" width="8.79" height="8.68" fill="#ffff00"/>
<rect x="95.59" y="469.34" width="8.79" height="8.68" fill="#ffff00"/>
<rect x="103.18" y="469.34" width="8.79" height="8.68" fill="#ffff00"/>
<rect x="110.77" y="469.34" width="8.79" height="8.68" fill="#ffff00"/>
<rect x="118.36" y="469.34" width="8.79" height="8.68" fill="#ffff00"/>
<rect x="125.95" y="469.34" width="8.79" height="8.68" fill="#ffff00"/>
<rect x="133.54" y="469.34" width="8.79" height="8.68" fill="#37c800"/>
<rect x="141.13" y="469.34" width="8.79" height="8.68" fill="#91ec00"/>
<rect x="148.72" y="469.34" width="7.59" height="8.68" fill="#64e200"/>
<rect x="88.00" y="476.82" width="8.79" height="8.68" fill="#ffff00"/>
<rect x="95.59" y="476.82" width="8.79" height="8.68" fill="#ffff00"/>
<rect x="103.18" y="476.82" width="8.79" height="8.68" fill="#ffff00"/>
<rect x="110.77" y="476.82" width="8.79" height="8.68" fill="#ffff00"/>
<rect x="118.36" y="476.82" width="8.79" height="8.68" fill="#ffff00"/>
<rect x="125.95" y="476.82" width="8.79" height="8.68" fill="#ffff00"/>
<rect x="133.54" y="476.82" width="8.79" height="8.68" fill="#37c800"/>
<rect x="141.13" y="476.82" width="8.79" height="8.68" fill="#64e200"/>
<rect x="148.72" y="476.82" width="7.59" height="8.68" fill="#37c800"/>
<rect x="88.00" y="484.30" width="8.79" height="8.68" fill="#ffc300"/>
<rect x="95.59" y="484.30" width="8.79" height="8.68" fill="#ffff00"/>
<rect x="103.18" y="484.30" width="8.79" height="8.68" fill="#ffff00"/>
<rect x="110.77" y="484.30" width="8.79" height="8.68" fill="#ffff00"/>
<rect x="118.36" y="484.30" width="8.79" height="8.68" fill="#ffff00"/>
<rect x="125.95" y="484.30" width="8.79" height="8.68" fill="#ffff00"/>
<rect x="133.54" y="484.30" width="8.79" height="8.68" fill="#37c800"/>
<rect x="141.13" y="484.30" width="8.79" height="8.68" fill="#64e200"/>
<rect x="148.72" y="484.30" width="7.59" height="8.68" fill="#64e200"/>
<rect x="88.00" y="491.78" width="8.79" height="8.68" fill="#ffc300"/>
<rect x="95.59" y="491.78" width="8.79" height="8.68" fill="#ffa800"/>
<rect x="103.18" y="491.78" width="8.79" height="8.68" fill="#ffa800"/>
<rect x="110.77" y="491.78" width="8.79" height="8.68" fill="#ffff00"/>
<rect x="118.36" y="491.78" width="8.79" height="8.68" fill="#ffff00"/>
<rect x="125.95" y="491.78" width="8.79" height="8.68" fill="#ffff00"/>
<rect x="133.54" y="491.78" width="8.79" height="8.68" fill="#37c800"/>
<rect x="141.13" y="491.78" width="8.79" height="8.68" fill="#37c800"/>
<rect x="148.72" y="491.78" width="7.59" height="8.68" fill="#64e200"/>
<rect x="88.00" y="499.26" width="8.79" height="8.68" fill="#ffc300"/>
<rect x="95.59" y="499.26" width="8.79" height="8.68" fill="#ffa800"/>
<rect x="103.18" y="499.26" width="8.79" height="8.68" fill="#ffa800"/>
<rect x="110.77" y="499.26" width="8.79" height="8.68" fill="#ffff00"/>
<rect x="118.36" y="499.26" width="8.79" height="8.68" fill="#ffff00"/>
<rect x="125.95" y="499.26" width="8.79" height="8.68" fill="#ffff00"/>
<rect x="133.54" y="499.26" width="8.79" height="8.68" fill="#37c800"/>
<rect x="141.13" y="499.26" width="8.79" height="8.68" fill="#37c800"/>
<rect x="148.72" y="499.26" width="7.59" height="8.68" fill="#64e200"/>
<rect x="88.00" y="506.74" width="8.79" height="8.68" fill="#ffc300"/>
<rect x="95.59" y="506.74" width="8.79" height="8.68" fill="#ffa800"/>
<rect x="103.18" y="506.74" width="8.79" height="8.68" fill="#ffc300"/>
<rect x="110.77" y="506.74" width="8.79" height="8.68" fill="#ffff00"/>
<rect x="118.36" y="506.74" width="8.79" height="8.68" fill="#ffff00"/>
<rect x="125.95" y="506.74" width="8.79" height="8.68" fill="#ffff00"/>
<rect x="133.54" y="506.74" width="8.79" height="8.68" fill="#37c800"/>
<rect x="141.13" y="506.74" width="8.79" height="8.68" fill="#37c800"/>
<rect x="148.72" y="506.74" width="7.59" height="8.68" fill="#64e200"/>
<rect x="88.00" y="514.22" width="8.79" height="8.68" fill="#ffc300"/>
<rect x="95.59" y="514.22" width="8.79" height="8.68" fill="#ffa800"/>
<rect x="103.18" y="514.22" width="8.79" height="8.68" fill="#ffc300"/>
<rect x="110.77" y="514.22" width="8.79" height="8.68" fill="#ffff00"/>
<rect x="118.36" y="514.22" width="8.79" height="8.68" fill="#ffff00"/>
<rect x="125.95" y="514.22" width="8.79" height="8.68" fill="#ffff00"/>
<rect x="133.54" y="514.22" width="8.79" height="8.68" fill="#37c800"/>
<rect x="141.13" y="514.22" width="8.79" height="8.68" fill="#37c800"/>
<rect x="148.72" y="514.22" width="7.59" height="8.68" fill="#64e200"/>
<rect x="88.00" y="521.70" width="8.79" height="8.68" fill="#ffa800"/>
<rect x="95.59" y="521.70" width="8.79" height="8.68" fill="#ffa800"/>
<rect x="103.18" y="521.70" width="8.79" height="8.68" fill="#ffa800"/>
<rect x="110.77" y="521.70" width="8.79" height="8.68" fill="#ffff00"/>
<rect x="118.36" y="521.70" width="8.79" height="8.68" fill="#ffff00"/>
<rect x="125.95" y="521.70" width="8.79" height="8.68" fill="#ffff00"/>
<rect x="133.54" y="521.70" width="8.79" height="8.68" fill="#64e200"/>
<rect x="141.13" y="521.70" width="8.79" height="8.68" fill="#37c800"/>
<rect x="148.72" y="521.70" width="7.59" height="8.68" fill="#64e200"/>
<rect x="88.00" y="529.18" width="8.79" height="8.68" fill="#ffff00"/>
<rect x="95.59" y="529.18" width="8.79" height="8.68" fill="#ffc300"/>
<rect x="103.18" y="529.18" width="8.79" height="8.68" fill="#ffff00"/>
<rect x="110.77" y="529.18" width="8.79" height="8.68" fill="#ffff00"/>
<rect x="118.36" y="529.18" width="8.79" height="8.68" fill="#ffff00"/>
<rect x="125.95" y="529.18" width="8.79" height="8.68" fill="#ffff00"/>
<rect x="133.54" y="529.18" width="8.79" height="8.68" fill="#64e200"/>
<rect x="141.13" y="529.18" width="8.79" height="8.68" fill="#64e200"/>
<rect x="148.72" y="529.18" width="7.59" height="8.68" fill="#91ec00"/>
<rect x="88.00" y="536.66" width="8.79" height="8.68" fill="#ffff00"/>
<rect x="95.59" y="536.66" width="8.79" height="8.68" fill="#ffe400"/>
<rect x="103.18" y="536.66" width="8.79" height="8.68" fill="#ffff00"/>
<rect x="110.77" y="536.66" width="8.79" height="8.68" fill="#ffff00"/>
<rect x="118.36" y="536.66" width="8.79" height="8.68" fill="#ffff00"/>
<rect x="125.95" y="536.66" width="8.79" height="8.68" fill="#eefb00"/>
<rect x="133.54" y="536.66" width="8.79" height="8.68" fill="#37c800"/>
<rect x="141.13" y="536.66" width="8.79" height="8.68" fill="#64e200"/>
<rect x="148.72" y="536.66" width="7.59" height="8.68" fill="#91ec00"/>
<rect x="88.00" y="544.14" width="8.79" height="8.68" fill="#ffff00"/>
<rect x="95.59" y="544.14" width="8.79" height="8.68" fill="#ffff00"/>
<rect x="103.18" y="544.14" width="8.79" height="8.68" fill="#ffff00"/>
<rect x="110.77" y="544.14" width="8.79" height="8.68" fill="#ffc300"/>
<rect x="118.36" y="544.14" width="8.79" height="8.68" fill="#ffc300"/>
<rect x="125.95" y="544.14" width="8.79" height="8.68" fill="#ffff00"/>
<rect x="133.54" y="544.14" width="8.79" height="8.68" fill="#37c800"/>
<rect x="141.13" y="544.14" width="8.79" height="8.68" fill="#37c800"/>
<rect x="148.72" y="544.14" width="7.59" height="8.68" fill="#64e200"/>
<rect x="88.00" y="551.62" width="8.79" height="8.68" fill="#ffff00"/>
<rect x="95.59" y="551.62" width="8.79" height="8.68" fill="#ffc300"/>
<rect x="103.18" y="551.62" width="8.79" height="8.68" fill="#ffff00"/>
<rect x="110.77" y="551.62" width="8.79" height="8.68" fill="#ffe400"/>
<rect x="118.36" y="551.62" width="8.79" height="8.68" fill="#ffe400"/>
<rect x="125.95" y="551.62" width="8.79" height="8.68" fill="#ffff00"/>
<rect x="133.54" y="551.62" width="8.79" height="8.68" fill="#14a200"/>
<rect x="141.13" y="551.62" width="8.79" height="8.68" fill="#91ec00"/>
<rect x="148.72" y="551.62" width="7.59" height="8.68" fill="#91ec00"/>
<rect x="88.00" y="559.10" width="8.79" height="8.68" fill="#ffff00"/>
<rect x="95.59" y="559.10" width="8.79" height="8.68" fill="#ffff00"/>
<rect x="103.18" y="559.10" width="8.79" height="8.68" fill="#ffff00"/>
<rect x="110.77" y="559.10" width="8.79" height="8.68" fill="#ffc300"/>
<rect x="118.36" y="559.10" width="8.79" height="8.68" fill="#ffc300"/>
<rect x="125.95" y="559.10" width="8.79" height="8.68" fill="#ffc300"/>
<rect x="133.54" y="559.10" width="8.79" height="8.68" fill="#91ec00"/>
<rect x="141.13" y="559.10" width="8.79" height="8.68" fill="#91ec00"/>
<rect x="148.72" y="559.10" width="7.59" height="8.68" fill="#91ec00"/>
<rect x="88.00" y="566.58" width="8.79" height="8.68" fill="#ffff00"/>
<rect x="95.59" y="566.58" width="8.79" height="8.68" fill="#ffff00"/>
<rect x="103.18" y="566.58" width="8.79" height="8.68" fill="#ffff00"/>
<rect x="110.77" y="566.58" width="8.79" height="8.68" fill="#ffff00"/>
<rect x="118.36" y="566.58" width="8.79" height="8.68" fill="#ffff00"/>
<rect x="125.95" y="566.58" width="8.79" height="8.68" fill="#ffff00"/>
<rect x="133.54" y="566.58" width="8.79" height="8.68" fill="#37c800"/>
<rect x="141.13" y="566.58" width="8.79" height="8.68" fill="#37c800"/>
<rect x="148.72" y="566.58" width="7.59" height="8.68" fill="#14a200"/>
<rect x="88.00" y="574.06" width="8.79" height="8.68" fill="#ffff00"/>
<rect x="95.59" y="574.06" width="8.79" height="8.68" fill="#ffff00"/>
<rect x="103.18" y="574.06" width="8.79" height="8.68" fill="#ffff00"/>
<rect x="110.77" y="574.06" width="8.79" height="8.68" fill="#ffff00"/>
<rect x="118.36" y="574.06" width="8.79" height="8.68" fill="#ffff00"/>
<rect x="125.95" y="574.06" width="8.79" height="8.68" fill="#ffff00"/>
<rect x="133.54" y="574.06" width="8.79" height="8.68" fill="#37c800"/>
<rect x="141.13" y="574.06" width="8.79" height="8.68" fill="#37c800"/>
<rect x="148.72" y="574.06" width="7.59" height="8.68" fill="#37c800"/>
<rect x="88.00" y="581.54" width="8.79" height="8.68" fill="#ffff00"/>
<rect x="95.59" y="581.54" width="8.79" height="8.68" fill="#ffff00"/>
<rect x="103.18" y="581.54" width="8.79" height="8.68" fill="#ffff00"/>
<rect x="110.77" y="581.54" width="8.79" height="8.68" fill="#ffff00"/>
<rect x="118.36" y="581.54" width="8.79" height="8.68" fill="#ffff00"/>
<rect x="125.95" y="581.54" width="8.79" height="8.68" fill="#ffff00"/>
<rect x="133.54" y="581.54" width="8.79" height="8.68" fill="#64e200"/>
<rect x="141.13" y="581.54" width="8.79" height="8.68" fill="#37c800"/>
<rect x="148.72" y="581.54" width="7.59" height="8.68" fill="#64e200"/>
<rect x="88.00" y="589.02" width="8.79" height="8.68" fill="#ffff00"/>
<rect x="95.59" y="589.02" width="8.79" height="8.68" fill="#ffff00"/>
<rect x="103.18" y="589.02" width="8.79" height="8.68" fill="#ffff00"/>
<rect x="110.77" y="589.02" width="8.79" height="8.68" fill="#ffff00"/>
<rect x="118.36" y="589.02" width="8.79" height="8.68" fill="#ffff00"/>
<rect x="125.95" y="589.02" width="8.79" height="8.68" fill="#ffff00"/>
<rect x="133.54" y="589.02" width="8.79" height="8.68" fill="#64e200"/>
<rect x="141.13" y="589.02" width="8.79" height="8.68" fill="#64e200"/>
<rect x="148.72" y="589.02" width="7.59" height="8.68" fill="#64e200"/>
<rect x="88.00" y="596.50" width="8.79" height="8.68" fill="#ffff00"/>
<rect x="95.59" y="596.50" width="8.79" height="8.68" fill="#ffff00"/>
<rect x="103.18" y="596.50" width="8.79" height="8.68" fill="#ffff00"/>
<rect x="110.77" y="596.50" width="8.79" height="8.68" fill="#ffff00"/>
<rect x="118.36" y="596.50" width="8.79" height="8.68" fill="#ffff00"/>
<rect x="125.95" y="596.50" width="8.79" height="8.68" fill="#ffff00"/>
<rect x="133.54" y="596.50" width="8.79" height="8.68" fill="#14a200"/>
<rect x="141.13" y="596.50" width="8.79" height="8.68" fill="#37c800"/>
<rect x="148.72" y="596.50" width="7.59" height="8.68" fill="#14a200"/>
<rect x="88.00" y="603.98" width="8.79" height="8.68" fill="#ffff00"/>
<rect x="95.59" y="603.98" width="8.79" height="8.68" fill="#ffff00"/>
<rect x="103.18" y="603.98" width="8.79" height="8.68" fill="#ffff00"/>
<rect x="110.77" y="603.98" width="8.79" height="8.68" fill="#ffff00"/>
<rect x="118.36" y="603.98" width="8.79" height="8.68" fill="#ffff00"/>
<rect x="125.95" y="603.98" width="8.79" height="8.68" fill="#ffe400"/>
<rect x="133.54" y="603.98" width="8.79" height="8.68" fill="#007800"/>
<rect x="141.13" y="603.98" width="8.79" height="8.68" fill="#14a200"/>
<rect x="148.72" y="603.98" width="7.59" height="8.68" fill="#007800"/>
<rect x="88.00" y="611.46" width="8.79" height="8.68" fill="#ffff00"/>
<rect x="95.59" y="611.46" width="8.79" height="8.68" fill="#ffff00"/>
<rect x="103.18" y="611.46" width="8.79" height="8.68" fill="#ffff00"/>
<rect x="110.77" y="611.46" width="8.79" height="8.68" fill="#ffff00"/>
<rect x="118.36" y="611.46" width="8.79" height="8.68" fill="#ffff00"/>
<rect x="125.95" y="611.46" width="8.79" height="8.68" fill="#ffff00"/>
<rect x="133.54" y="611.46" width="8.79" height="8.68" fill="#14a200"/>
<rect x="141.13" y="611.46" width="8.79" height="8.68" fill="#007800"/>
<rect x="148.72" y="611.46" width="7.59" height="8.68" fill="#14a200"/>
<rect x="88.00" y="618.94" width="8.79" height="12.48" fill="#ffa800"/>
<rect x="95.59" y="618.94" width="8.79" height="12.48" fill="#ffa800"/>
<rect x="103.18" y="618.94" width="8.79" height="12.48" fill="#ffc300"/>
<rect x="110.77" y="618.94" width="8.79" height="12.48" fill="#ffff00"/>
<rect x="118.36" y="618.94" width="8.79" height="12.48" fill="#ffff00"/>
<rect x="125.95" y="618.94" width="8.79" height="12.48" fill="#ffff00"/>
<rect x="133.54" y="618.94" width="8.79" height="12.48" fill="#91ec00"/>
<rect x="141.13" y="618.94" width="8.79" height="12.48" fill="#64e200"/>
<rect x="148.72" y="618.94" width="7.59" height="12.48" fill="#91ec00"/>
<g transform="translate(56.2 0) scale(0.9 1)" font-size="6.0" font-weight="bold" fill="#000" stroke="#000" stroke-width="0.35"><text x="0" y="41.48">CDH1</text>
<text x="0" y="48.96">ARHGDIB</text>
<text x="0" y="56.44">CDS1</text>
<text x="0" y="63.92">MAL2</text>
<text x="0" y="71.40">ARL14</text>
<text x="0" y="78.88">SLC2A3</text>
<text x="0" y="86.36">LOC7296..</text>
<text x="0" y="93.84">SH2D3A</text>
<text x="0" y="101.32">ST6GALN..</text>
<text x="0" y="108.80">ARHGDIB</text>
<text x="0" y="116.28">KRT15</text>
<text x="0" y="123.76">PAPPA</text>
<text x="0" y="131.24">UCA1</text>
<text x="0" y="138.72">ZBED2</text>
<text x="0" y="146.20">SCGB2A1</text>
<text x="0" y="153.68">SLC2A3</text>
<text x="0" y="161.16">GNAS</text>
<text x="0" y="168.64">N/A</text>
<text x="0" y="176.12">N/A</text>
<text x="0" y="183.60">ENPP5</text>
<text x="0" y="191.08">TACSTD1</text>
<text x="0" y="198.56">PKP2</text>
<text x="0" y="206.04">INHBB</text>
<text x="0" y="213.52">EPS8L1</text>
<text x="0" y="221.00">SLC2A14..</text>
<text x="0" y="228.48">COL12A1</text>
<text x="0" y="235.96">CLIC5</text>
<text x="0" y="243.44">INPP4B</text>
<text x="0" y="250.92">N/A</text>
<text x="0" y="258.40">EFEMP1</text>
<text x="0" y="265.88">SLC2A3</text>
<text x="0" y="273.36">SLC7A7</text>
<text x="0" y="280.84">EPS8L1</text>
<text x="0" y="288.32">AKR1D1</text>
<text x="0" y="295.80">ANKRD1</text>
<text x="0" y="303.28">EFEMP1</text>
<text x="0" y="310.76">FAM62B</text>
<text x="0" y="318.24">PPL</text>
<text x="0" y="325.72">NTN4</text>
<text x="0" y="333.20">B3GNT5</text>
<text x="0" y="340.68">SCNN1A</text>
<text x="0" y="348.16">ZNF165</text>
<text x="0" y="355.64">PTHLH</text>
<text x="0" y="363.12">LAMB3</text>
<text x="0" y="370.60">RNF183</text>
<text x="0" y="378.08">DOCK11</text>
<text x="0" y="385.56">ODZ2</text>
<text x="0" y="393.04">MARVELD..</text>
<text x="0" y="400.52">WIPF1</text>
<text x="0" y="408.00">B3GNT1</text>
<text x="0" y="415.48">SEC23A</text>
<text x="0" y="422.96">EPHB1</text>
<text x="0" y="430.44">SLC17A3</text>
<text x="0" y="437.92">LEPR</text>
<text x="0" y="445.40">C10orf56</text>
<text x="0" y="452.88">CCDC50</text>
<text x="0" y="460.36">CRTAP</text>
<text x="0" y="467.84">N/A</text>
<text x="0" y="475.32">HS6ST2</text>
<text x="0" y="482.80">AP1S2</text>
<text x="0" y="490.28">CRTAP</text>
<text x="0" y="497.76">FN1</text>
<text x="0" y="505.24">FN1</text>
<text x="0" y="512.72">FN1</text>
<text x="0" y="520.20">FN1</text>
<text x="0" y="527.68">QKI</text>
<text x="0" y="535.16">RHOJ</text>
<text x="0" y="542.64">MAL</text>
<text x="0" y="550.12">ABAT</text>
<text x="0" y="557.60">OSTM1</text>
<text x="0" y="565.08">SEC23A</text>
<text x="0" y="572.56">ZEB1</text>
<text x="0" y="580.04">ZEB1</text>
<text x="0" y="587.52">KDELC1</text>
<text x="0" y="595.00">AP1S2</text>
<text x="0" y="602.48">OSTM1</text>
<text x="0" y="609.96">OSTM1</text>
<text x="0" y="617.44">OSTM1</text>
<text x="0" y="624.92">QKI</text></g>
<line x1="86.5" y1="31.5" x2="106.5" y2="31.5" stroke="#222" stroke-width="1.1"/>
<line x1="111.5" y1="31.5" x2="131.2" y2="31.5" stroke="#222" stroke-width="1.1"/>
<line x1="137.2" y1="31.5" x2="156.5" y2="31.5" stroke="#222" stroke-width="1.1"/>
<text transform="translate(96,31.4) rotate(-55)" font-size="9" fill="#000" stroke="#000" stroke-width="0.2">mock</text>
<text transform="translate(119.5,31.6) rotate(-55)" font-size="9" fill="#000" stroke="#000" stroke-width="0.2">negative</text>
<text transform="translate(146.7,31.2) rotate(-55)" font-size="9" fill="#000" stroke="#000" stroke-width="0.2">pre-200c</text>
<text x="0.2" y="9.0" font-size="12.2" font-weight="bold" fill="#000">A</text>
<g><line x1="51.00" y1="54.20" x2="55.00" y2="54.20" stroke="#4a4a4a" stroke-width="0.95"/>
<line x1="51.00" y1="61.68" x2="55.00" y2="61.68" stroke="#4a4a4a" stroke-width="0.95"/>
<line x1="51.00" y1="54.20" x2="51.00" y2="61.68" stroke="#4a4a4a" stroke-width="0.95"/>
<line x1="48.70" y1="46.72" x2="55.00" y2="46.72" stroke="#4a4a4a" stroke-width="0.95"/>
<line x1="48.70" y1="57.94" x2="51.00" y2="57.94" stroke="#4a4a4a" stroke-width="0.95"/>
<line x1="48.70" y1="69.16" x2="55.00" y2="69.16" stroke="#4a4a4a" stroke-width="0.95"/>
<line x1="48.70" y1="46.72" x2="48.70" y2="69.16" stroke="#4a4a4a" stroke-width="0.95"/>
<line x1="49.80" y1="76.64" x2="55.00" y2="76.64" stroke="#4a4a4a" stroke-width="0.95"/>
<line x1="49.80" y1="84.12" x2="55.00" y2="84.12" stroke="#4a4a4a" stroke-width="0.95"/>
<line x1="49.80" y1="91.60" x2="55.00" y2="91.60" stroke="#4a4a4a" stroke-width="0.95"/>
<line x1="49.80" y1="76.64" x2="49.80" y2="91.60" stroke="#4a4a4a" stroke-width="0.95"/>
<line x1="49.80" y1="99.08" x2="55.00" y2="99.08" stroke="#4a4a4a" stroke-width="0.95"/>
<line x1="49.80" y1="106.56" x2="55.00" y2="106.56" stroke="#4a4a4a" stroke-width="0.95"/>
<line x1="49.80" y1="99.08" x2="49.80" y2="106.56" stroke="#4a4a4a" stroke-width="0.95"/>
<line x1="46.90" y1="84.12" x2="49.80" y2="84.12" stroke="#4a4a4a" stroke-width="0.95"/>
<line x1="46.90" y1="102.82" x2="49.80" y2="102.82" stroke="#4a4a4a" stroke-width="0.95"/>
<line x1="46.90" y1="84.12" x2="46.90" y2="102.82" stroke="#4a4a4a" stroke-width="0.95"/>
<line x1="45.50" y1="57.94" x2="48.70" y2="57.94" stroke="#4a4a4a" stroke-width="0.95"/>
<line x1="45.50" y1="93.47" x2="46.90" y2="93.47" stroke="#4a4a4a" stroke-width="0.95"/>
<line x1="45.50" y1="57.94" x2="45.50" y2="93.47" stroke="#4a4a4a" stroke-width="0.95"/>
<line x1="51.00" y1="121.52" x2="55.00" y2="121.52" stroke="#4a4a4a" stroke-width="0.95"/>
<line x1="51.00" y1="129.00" x2="55.00" y2="129.00" stroke="#4a4a4a" stroke-width="0.95"/>
<line x1="51.00" y1="121.52" x2="51.00" y2="129.00" stroke="#4a4a4a" stroke-width="0.95"/>
<line x1="49.50" y1="114.04" x2="55.00" y2="114.04" stroke="#4a4a4a" stroke-width="0.95"/>
<line x1="49.50" y1="125.26" x2="51.00" y2="125.26" stroke="#4a4a4a" stroke-width="0.95"/>
<line x1="49.50" y1="114.04" x2="49.50" y2="125.26" stroke="#4a4a4a" stroke-width="0.95"/>
<line x1="47.90" y1="136.48" x2="55.00" y2="136.48" stroke="#4a4a4a" stroke-width="0.95"/>
<line x1="47.90" y1="143.96" x2="55.00" y2="143.96" stroke="#4a4a4a" stroke-width="0.95"/>
<line x1="47.90" y1="136.48" x2="47.90" y2="143.96" stroke="#4a4a4a" stroke-width="0.95"/>
<line x1="46.70" y1="119.65" x2="49.50" y2="119.65" stroke="#4a4a4a" stroke-width="0.95"/>
<line x1="46.70" y1="140.22" x2="47.90" y2="140.22" stroke="#4a4a4a" stroke-width="0.95"/>
<line x1="46.70" y1="119.65" x2="46.70" y2="140.22" stroke="#4a4a4a" stroke-width="0.95"/>
<line x1="51.20" y1="151.44" x2="55.00" y2="151.44" stroke="#4a4a4a" stroke-width="0.95"/>
<line x1="51.20" y1="158.92" x2="55.00" y2="158.92" stroke="#4a4a4a" stroke-width="0.95"/>
<line x1="51.20" y1="151.44" x2="51.20" y2="158.92" stroke="#4a4a4a" stroke-width="0.95"/>
<line x1="50.30" y1="155.18" x2="51.20" y2="155.18" stroke="#4a4a4a" stroke-width="0.95"/>
<line x1="50.30" y1="166.40" x2="55.00" y2="166.40" stroke="#4a4a4a" stroke-width="0.95"/>
<line x1="50.30" y1="155.18" x2="50.30" y2="166.40" stroke="#4a4a4a" stroke-width="0.95"/>
<line x1="48.40" y1="160.79" x2="50.30" y2="160.79" stroke="#4a4a4a" stroke-width="0.95"/>
<line x1="48.40" y1="173.88" x2="55.00" y2="173.88" stroke="#4a4a4a" stroke-width="0.95"/>
<line x1="48.40" y1="160.79" x2="48.40" y2="173.88" stroke="#4a4a4a" stroke-width="0.95"/>
<line x1="46.00" y1="167.34" x2="48.40" y2="167.34" stroke="#4a4a4a" stroke-width="0.95"/>
<line x1="46.00" y1="181.36" x2="55.00" y2="181.36" stroke="#4a4a4a" stroke-width="0.95"/>
<line x1="46.00" y1="167.34" x2="46.00" y2="181.36" stroke="#4a4a4a" stroke-width="0.95"/>
<line x1="50.50" y1="211.28" x2="55.00" y2="211.28" stroke="#4a4a4a" stroke-width="0.95"/>
<line x1="50.50" y1="218.76" x2="55.00" y2="218.76" stroke="#4a4a4a" stroke-width="0.95"/>
<line x1="50.50" y1="211.28" x2="50.50" y2="218.76" stroke="#4a4a4a" stroke-width="0.95"/>
<line x1="49.30" y1="188.84" x2="55.00" y2="188.84" stroke="#4a4a4a" stroke-width="0.95"/>
<line x1="49.30" y1="196.32" x2="55.00" y2="196.32" stroke="#4a4a4a" stroke-width="0.95"/>
<line x1="49.30" y1="203.80" x2="55.00" y2="203.80" stroke="#4a4a4a" stroke-width="0.95"/>
<line x1="49.30" y1="215.02" x2="50.50" y2="215.02" stroke="#4a4a4a" stroke-width="0.95"/>
<line x1="49.30" y1="188.84" x2="49.30" y2="215.02" stroke="#4a4a4a" stroke-width="0.95"/>
<line x1="50.70" y1="233.72" x2="55.00" y2="233.72" stroke="#4a4a4a" stroke-width="0.95"/>
<line x1="50.70" y1="241.20" x2="55.00" y2="241.20" stroke="#4a4a4a" stroke-width="0.95"/>
<line x1="50.70" y1="233.72" x2="50.70" y2="241.20" stroke="#4a4a4a" stroke-width="0.95"/>
<line x1="49.30" y1="226.24" x2="55.00" y2="226.24" stroke="#4a4a4a" stroke-width="0.95"/>
<line x1="49.30" y1="237.46" x2="50.70" y2="237.46" stroke="#4a4a4a" stroke-width="0.95"/>
<line x1="49.30" y1="248.68" x2="55.00" y2="248.68" stroke="#4a4a4a" stroke-width="0.95"/>
<line x1="49.30" y1="226.24" x2="49.30" y2="248.68" stroke="#4a4a4a" stroke-width="0.95"/>
<line x1="47.40" y1="201.93" x2="49.30" y2="201.93" stroke="#4a4a4a" stroke-width="0.95"/>
<line x1="47.40" y1="237.46" x2="49.30" y2="237.46" stroke="#4a4a4a" stroke-width="0.95"/>
<line x1="47.40" y1="201.93" x2="47.40" y2="237.46" stroke="#4a4a4a" stroke-width="0.95"/>
<line x1="51.00" y1="263.64" x2="55.00" y2="263.64" stroke="#4a4a4a" stroke-width="0.95"/>
<line x1="51.00" y1="271.12" x2="55.00" y2="271.12" stroke="#4a4a4a" stroke-width="0.95"/>
<line x1="51.00" y1="263.64" x2="51.00" y2="271.12" stroke="#4a4a4a" stroke-width="0.95"/>
<line x1="49.80" y1="256.16" x2="55.00" y2="256.16" stroke="#4a4a4a" stroke-width="0.95"/>
<line x1="49.80" y1="267.38" x2="51.00" y2="267.38" stroke="#4a4a4a" stroke-width="0.95"/>
<line x1="49.80" y1="256.16" x2="49.80" y2="267.38" stroke="#4a4a4a" stroke-width="0.95"/>
<line x1="47.50" y1="286.08" x2="55.00" y2="286.08" stroke="#4a4a4a" stroke-width="0.95"/>
<line x1="47.50" y1="293.56" x2="55.00" y2="293.56" stroke="#4a4a4a" stroke-width="0.95"/>
<line x1="47.50" y1="286.08" x2="47.50" y2="293.56" stroke="#4a4a4a" stroke-width="0.95"/>
<line x1="46.40" y1="261.77" x2="49.80" y2="261.77" stroke="#4a4a4a" stroke-width="0.95"/>
<line x1="46.40" y1="278.60" x2="55.00" y2="278.60" stroke="#4a4a4a" stroke-width="0.95"/>
<line x1="46.40" y1="289.82" x2="47.50" y2="289.82" stroke="#4a4a4a" stroke-width="0.95"/>
<line x1="46.40" y1="261.77" x2="46.40" y2="289.82" stroke="#4a4a4a" stroke-width="0.95"/>
<line x1="49.80" y1="301.04" x2="55.00" y2="301.04" stroke="#4a4a4a" stroke-width="0.95"/>
<line x1="49.80" y1="308.52" x2="55.00" y2="308.52" stroke="#4a4a4a" stroke-width="0.95"/>
<line x1="49.80" y1="301.04" x2="49.80" y2="308.52" stroke="#4a4a4a" stroke-width="0.95"/>
<line x1="49.80" y1="316.00" x2="55.00" y2="316.00" stroke="#4a4a4a" stroke-width="0.95"/>
<line x1="49.80" y1="323.48" x2="55.00" y2="323.48" stroke="#4a4a4a" stroke-width="0.95"/>
<line x1="49.80" y1="316.00" x2="49.80" y2="323.48" stroke="#4a4a4a" stroke-width="0.95"/>
<line x1="47.50" y1="304.78" x2="49.80" y2="304.78" stroke="#4a4a4a" stroke-width="0.95"/>
<line x1="47.50" y1="319.74" x2="49.80" y2="319.74" stroke="#4a4a4a" stroke-width="0.95"/>
<line x1="47.50" y1="304.78" x2="47.50" y2="319.74" stroke="#4a4a4a" stroke-width="0.95"/>
<line x1="45.50" y1="312.26" x2="47.50" y2="312.26" stroke="#4a4a4a" stroke-width="0.95"/>
<line x1="45.50" y1="330.96" x2="55.00" y2="330.96" stroke="#4a4a4a" stroke-width="0.95"/>
<line x1="45.50" y1="312.26" x2="45.50" y2="330.96" stroke="#4a4a4a" stroke-width="0.95"/>
<line x1="50.10" y1="338.44" x2="55.00" y2="338.44" stroke="#4a4a4a" stroke-width="0.95"/>
<line x1="50.10" y1="345.92" x2="55.00" y2="345.92" stroke="#4a4a4a" stroke-width="0.95"/>
<line x1="50.10" y1="338.44" x2="50.10" y2="345.92" stroke="#4a4a4a" stroke-width="0.95"/>
<line x1="47.70" y1="342.18" x2="50.10" y2="342.18" stroke="#4a4a4a" stroke-width="0.95"/>
<line x1="47.70" y1="353.40" x2="55.00" y2="353.40" stroke="#4a4a4a" stroke-width="0.95"/>
<line x1="47.70" y1="342.18" x2="47.70" y2="353.40" stroke="#4a4a4a" stroke-width="0.95"/>
<line x1="50.10" y1="360.88" x2="55.00" y2="360.88" stroke="#4a4a4a" stroke-width="0.95"/>
<line x1="50.10" y1="368.36" x2="55.00" y2="368.36" stroke="#4a4a4a" stroke-width="0.95"/>
<line x1="50.10" y1="360.88" x2="50.10" y2="368.36" stroke="#4a4a4a" stroke-width="0.95"/>
<line x1="47.70" y1="364.62" x2="50.10" y2="364.62" stroke="#4a4a4a" stroke-width="0.95"/>
<line x1="47.70" y1="375.84" x2="55.00" y2="375.84" stroke="#4a4a4a" stroke-width="0.95"/>
<line x1="47.70" y1="364.62" x2="47.70" y2="375.84" stroke="#4a4a4a" stroke-width="0.95"/>
<line x1="45.80" y1="347.79" x2="47.70" y2="347.79" stroke="#4a4a4a" stroke-width="0.95"/>
<line x1="45.80" y1="370.23" x2="47.70" y2="370.23" stroke="#4a4a4a" stroke-width="0.95"/>
<line x1="45.80" y1="383.32" x2="55.00" y2="383.32" stroke="#4a4a4a" stroke-width="0.95"/>
<line x1="45.80" y1="347.79" x2="45.80" y2="383.32" stroke="#4a4a4a" stroke-width="0.95"/>
<line x1="43.60" y1="75.70" x2="45.50" y2="75.70" stroke="#4a4a4a" stroke-width="0.95"/>
<line x1="43.60" y1="129.94" x2="46.70" y2="129.94" stroke="#4a4a4a" stroke-width="0.95"/>
<line x1="43.60" y1="174.35" x2="46.00" y2="174.35" stroke="#4a4a4a" stroke-width="0.95"/>
<line x1="43.60" y1="219.69" x2="47.40" y2="219.69" stroke="#4a4a4a" stroke-width="0.95"/>
<line x1="43.60" y1="275.80" x2="46.40" y2="275.80" stroke="#4a4a4a" stroke-width="0.95"/>
<line x1="43.60" y1="321.61" x2="45.50" y2="321.61" stroke="#4a4a4a" stroke-width="0.95"/>
<line x1="43.60" y1="365.56" x2="45.80" y2="365.56" stroke="#4a4a4a" stroke-width="0.95"/>
<line x1="43.60" y1="75.70" x2="43.60" y2="365.56" stroke="#4a4a4a" stroke-width="0.95"/>
<line x1="37.60" y1="237.00" x2="43.60" y2="237.00" stroke="#4a4a4a" stroke-width="0.95"/>
<line x1="37.60" y1="390.80" x2="55.00" y2="390.80" stroke="#4a4a4a" stroke-width="0.95"/>
<line x1="37.60" y1="237.00" x2="37.60" y2="390.80" stroke="#4a4a4a" stroke-width="0.95"/>
<line x1="10.40" y1="39.24" x2="55.00" y2="39.24" stroke="#4a4a4a" stroke-width="0.95"/>
<line x1="10.40" y1="313.90" x2="37.60" y2="313.90" stroke="#4a4a4a" stroke-width="0.95"/>
<line x1="10.40" y1="39.24" x2="10.40" y2="313.90" stroke="#4a4a4a" stroke-width="0.95"/>
<line x1="52.00" y1="398.28" x2="55.00" y2="398.28" stroke="#4a4a4a" stroke-width="0.95"/>
<line x1="52.00" y1="405.76" x2="55.00" y2="405.76" stroke="#4a4a4a" stroke-width="0.95"/>
<line x1="52.00" y1="398.28" x2="52.00" y2="405.76" stroke="#4a4a4a" stroke-width="0.95"/>
<line x1="48.70" y1="402.02" x2="52.00" y2="402.02" stroke="#4a4a4a" stroke-width="0.95"/>
<line x1="48.70" y1="413.24" x2="55.00" y2="413.24" stroke="#4a4a4a" stroke-width="0.95"/>
<line x1="48.70" y1="402.02" x2="48.70" y2="413.24" stroke="#4a4a4a" stroke-width="0.95"/>
<line x1="48.40" y1="420.72" x2="55.00" y2="420.72" stroke="#4a4a4a" stroke-width="0.95"/>
<line x1="48.40" y1="428.20" x2="55.00" y2="428.20" stroke="#4a4a4a" stroke-width="0.95"/>
<line x1="48.40" y1="420.72" x2="48.40" y2="428.20" stroke="#4a4a4a" stroke-width="0.95"/>
<line x1="50.50" y1="443.16" x2="55.00" y2="443.16" stroke="#4a4a4a" stroke-width="0.95"/>
<line x1="50.50" y1="450.64" x2="55.00" y2="450.64" stroke="#4a4a4a" stroke-width="0.95"/>
<line x1="50.50" y1="458.12" x2="55.00" y2="458.12" stroke="#4a4a4a" stroke-width="0.95"/>
<line x1="50.50" y1="443.16" x2="50.50" y2="458.12" stroke="#4a4a4a" stroke-width="0.95"/>
<line x1="49.50" y1="435.68" x2="55.00" y2="435.68" stroke="#4a4a4a" stroke-width="0.95"/>
<line x1="49.50" y1="450.64" x2="50.50" y2="450.64" stroke="#4a4a4a" stroke-width="0.95"/>
<line x1="49.50" y1="435.68" x2="49.50" y2="450.64" stroke="#4a4a4a" stroke-width="0.95"/>
<line x1="46.90" y1="424.46" x2="48.40" y2="424.46" stroke="#4a4a4a" stroke-width="0.95"/>
<line x1="46.90" y1="443.16" x2="49.50" y2="443.16" stroke="#4a4a4a" stroke-width="0.95"/>
<line x1="46.90" y1="424.46" x2="46.90" y2="443.16" stroke="#4a4a4a" stroke-width="0.95"/>
<line x1="48.70" y1="465.60" x2="55.00" y2="465.60" stroke="#4a4a4a" stroke-width="0.95"/>
<line x1="48.70" y1="473.08" x2="55.00" y2="473.08" stroke="#4a4a4a" stroke-width="0.95"/>
<line x1="48.70" y1="465.60" x2="48.70" y2="473.08" stroke="#4a4a4a" stroke-width="0.95"/>
<line x1="45.80" y1="407.63" x2="48.70" y2="407.63" stroke="#4a4a4a" stroke-width="0.95"/>
<line x1="45.80" y1="433.81" x2="46.90" y2="433.81" stroke="#4a4a4a" stroke-width="0.95"/>
<line x1="45.80" y1="469.34" x2="48.70" y2="469.34" stroke="#4a4a4a" stroke-width="0.95"/>
<line x1="45.80" y1="407.63" x2="45.80" y2="479.00" stroke="#4a4a4a" stroke-width="0.95"/>
<line x1="49.60" y1="480.56" x2="55.00" y2="480.56" stroke="#4a4a4a" stroke-width="0.95"/>
<line x1="49.60" y1="488.04" x2="55.00" y2="488.04" stroke="#4a4a4a" stroke-width="0.95"/>
<line x1="49.60" y1="480.56" x2="49.60" y2="488.04" stroke="#4a4a4a" stroke-width="0.95"/>
<line x1="51.50" y1="495.52" x2="55.00" y2="495.52" stroke="#4a4a4a" stroke-width="0.95"/>
<line x1="51.50" y1="503.00" x2="55.00" y2="503.00" stroke="#4a4a4a" stroke-width="0.95"/>
<line x1="51.50" y1="510.48" x2="55.00" y2="510.48" stroke="#4a4a4a" stroke-width="0.95"/>
<line x1="51.50" y1="517.96" x2="55.00" y2="517.96" stroke="#4a4a4a" stroke-width="0.95"/>
<line x1="51.50" y1="495.52" x2="51.50" y2="517.96" stroke="#4a4a4a" stroke-width="0.95"/>
<line x1="49.10" y1="506.74" x2="51.50" y2="506.74" stroke="#4a4a4a" stroke-width="0.95"/>
<line x1="49.10" y1="525.44" x2="55.00" y2="525.44" stroke="#4a4a4a" stroke-width="0.95"/>
<line x1="49.10" y1="506.74" x2="49.10" y2="525.44" stroke="#4a4a4a" stroke-width="0.95"/>
<line x1="47.70" y1="532.92" x2="55.00" y2="532.92" stroke="#4a4a4a" stroke-width="0.95"/>
<line x1="47.70" y1="540.40" x2="55.00" y2="540.40" stroke="#4a4a4a" stroke-width="0.95"/>
<line x1="47.70" y1="532.92" x2="47.70" y2="540.40" stroke="#4a4a4a" stroke-width="0.95"/>
<line x1="47.20" y1="547.88" x2="55.00" y2="547.88" stroke="#4a4a4a" stroke-width="0.95"/>
<line x1="47.20" y1="555.36" x2="55.00" y2="555.36" stroke="#4a4a4a" stroke-width="0.95"/>
<line x1="47.20" y1="547.88" x2="47.20" y2="555.36" stroke="#4a4a4a" stroke-width="0.95"/>
<line x1="46.50" y1="484.30" x2="49.60" y2="484.30" stroke="#4a4a4a" stroke-width="0.95"/>
<line x1="46.50" y1="516.09" x2="49.10" y2="516.09" stroke="#4a4a4a" stroke-width="0.95"/>
<line x1="46.50" y1="536.66" x2="47.70" y2="536.66" stroke="#4a4a4a" stroke-width="0.95"/>
<line x1="46.50" y1="551.62" x2="47.20" y2="551.62" stroke="#4a4a4a" stroke-width="0.95"/>
<line x1="46.50" y1="562.84" x2="55.00" y2="562.84" stroke="#4a4a4a" stroke-width="0.95"/>
<line x1="46.50" y1="484.30" x2="46.50" y2="562.84" stroke="#4a4a4a" stroke-width="0.95"/>
<line x1="43.90" y1="479.00" x2="45.80" y2="479.00" stroke="#4a4a4a" stroke-width="0.95"/>
<line x1="43.90" y1="558.50" x2="46.50" y2="558.50" stroke="#4a4a4a" stroke-width="0.95"/>
<line x1="43.90" y1="479.00" x2="43.90" y2="558.50" stroke="#4a4a4a" stroke-width="0.95"/>
<line x1="52.00" y1="570.32" x2="55.00" y2="570.32" stroke="#4a4a4a" stroke-width="0.95"/>
<line x1="52.00" y1="577.80" x2="55.00" y2="577.80" stroke="#4a4a4a" stroke-width="0.95"/>
<line x1="52.00" y1="570.32" x2="52.00" y2="577.80" stroke="#4a4a4a" stroke-width="0.95"/>
<line x1="49.60" y1="585.28" x2="55.00" y2="585.28" stroke="#4a4a4a" stroke-width="0.95"/>
<line x1="49.60" y1="592.76" x2="55.00" y2="592.76" stroke="#4a4a4a" stroke-width="0.95"/>
<line x1="49.60" y1="585.28" x2="49.60" y2="592.76" stroke="#4a4a4a" stroke-width="0.95"/>
<line x1="47.70" y1="574.06" x2="52.00" y2="574.06" stroke="#4a4a4a" stroke-width="0.95"/>
<line x1="47.70" y1="589.02" x2="49.60" y2="589.02" stroke="#4a4a4a" stroke-width="0.95"/>
<line x1="47.70" y1="574.06" x2="47.70" y2="589.02" stroke="#4a4a4a" stroke-width="0.95"/>
<line x1="49.10" y1="607.72" x2="55.00" y2="607.72" stroke="#4a4a4a" stroke-width="0.95"/>
<line x1="49.10" y1="615.20" x2="55.00" y2="615.20" stroke="#4a4a4a" stroke-width="0.95"/>
<line x1="49.10" y1="607.72" x2="49.10" y2="615.20" stroke="#4a4a4a" stroke-width="0.95"/>
<line x1="47.70" y1="600.24" x2="55.00" y2="600.24" stroke="#4a4a4a" stroke-width="0.95"/>
<line x1="47.70" y1="611.46" x2="49.10" y2="611.46" stroke="#4a4a4a" stroke-width="0.95"/>
<line x1="47.70" y1="600.24" x2="47.70" y2="611.46" stroke="#4a4a4a" stroke-width="0.95"/>
<line x1="43.90" y1="581.54" x2="47.70" y2="581.54" stroke="#4a4a4a" stroke-width="0.95"/>
<line x1="43.90" y1="605.85" x2="47.70" y2="605.85" stroke="#4a4a4a" stroke-width="0.95"/>
<line x1="43.90" y1="581.54" x2="43.90" y2="605.85" stroke="#4a4a4a" stroke-width="0.95"/>
<line x1="41.50" y1="518.75" x2="43.90" y2="518.75" stroke="#4a4a4a" stroke-width="0.95"/>
<line x1="41.50" y1="593.69" x2="43.90" y2="593.69" stroke="#4a4a4a" stroke-width="0.95"/>
<line x1="41.50" y1="622.68" x2="55.00" y2="622.68" stroke="#4a4a4a" stroke-width="0.95"/>
<line x1="41.50" y1="518.75" x2="41.50" y2="622.68" stroke="#4a4a4a" stroke-width="0.95"/>
<line x1="0.50" y1="176.57" x2="10.40" y2="176.57" stroke="#4a4a4a" stroke-width="0.95"/>
<line x1="0.50" y1="570.72" x2="41.50" y2="570.72" stroke="#4a4a4a" stroke-width="0.95"/>
<line x1="0.50" y1="176.57" x2="0.50" y2="570.72" stroke="#4a4a4a" stroke-width="0.95"/></g>
<rect x="54.6" y="36.3" width="18.0" height="6.3" fill="none" stroke="#e6829f" stroke-width="1.1"/>
<rect x="55" y="567.8" width="15.6" height="13.4" fill="none" stroke="#e8a8bc" stroke-width="0.8"/>
<rect x="281.00" y="36.10" width="7.79" height="7.79" fill="#eefb00"/>
<rect x="287.59" y="36.10" width="7.79" height="7.79" fill="#ffff00"/>
<rect x="294.18" y="36.10" width="7.79" height="7.79" fill="#ffff00"/>
<rect x="300.77" y="36.10" width="7.79" height="7.79" fill="#cdf500"/>
<rect x="307.36" y="36.10" width="7.79" height="7.79" fill="#cdf500"/>
<rect x="313.95" y="36.10" width="7.79" height="7.79" fill="#eefb00"/>
<rect x="320.54" y="36.10" width="7.79" height="7.79" fill="#ff8c00"/>
<rect x="327.13" y="36.10" width="7.79" height="7.79" fill="#ff8c00"/>
<rect x="333.72" y="36.10" width="6.59" height="7.79" fill="#ff8c00"/>
<rect x="281.00" y="42.69" width="7.79" height="7.79" fill="#eefb00"/>
<rect x="287.59" y="42.69" width="7.79" height="7.79" fill="#ffff00"/>
<rect x="294.18" y="42.69" width="7.79" height="7.79" fill="#ffff00"/>
<rect x="300.77" y="42.69" width="7.79" height="7.79" fill="#91ec00"/>
<rect x="307.36" y="42.69" width="7.79" height="7.79" fill="#91ec00"/>
<rect x="313.95" y="42.69" width="7.79" height="7.79" fill="#cdf500"/>
<rect x="320.54" y="42.69" width="7.79" height="7.79" fill="#ff6e00"/>
<rect x="327.13" y="42.69" width="7.79" height="7.79" fill="#ff6e00"/>
<rect x="333.72" y="42.69" width="6.59" height="7.79" fill="#ff6e00"/>
<rect x="281.00" y="49.28" width="7.79" height="7.79" fill="#eefb00"/>
<rect x="287.59" y="49.28" width="7.79" height="7.79" fill="#ffff00"/>
<rect x="294.18" y="49.28" width="7.79" height="7.79" fill="#ffff00"/>
<rect x="300.77" y="49.28" width="7.79" height="7.79" fill="#cdf500"/>
<rect x="307.36" y="49.28" width="7.79" height="7.79" fill="#91ec00"/>
<rect x="313.95" y="49.28" width="7.79" height="7.79" fill="#cdf500"/>
<rect x="320.54" y="49.28" width="7.79" height="7.79" fill="#ff8c00"/>
<rect x="327.13" y="49.28" width="7.79" height="7.79" fill="#ff8c00"/>
<rect x="333.72" y="49.28" width="6.59" height="7.79" fill="#ff8c00"/>
<rect x="281.00" y="55.87" width="7.79" height="7.79" fill="#eefb00"/>
<rect x="287.59" y="55.87" width="7.79" height="7.79" fill="#ffff00"/>
<rect x="294.18" y="55.87" width="7.79" height="7.79" fill="#ffff00"/>
<rect x="300.77" y="55.87" width="7.79" height="7.79" fill="#cdf500"/>
<rect x="307.36" y="55.87" width="7.79" height="7.79" fill="#cdf500"/>
<rect x="313.95" y="55.87" width="7.79" height="7.79" fill="#cdf500"/>
<rect x="320.54" y="55.87" width="7.79" height="7.79" fill="#ff5800"/>
<rect x="327.13" y="55.87" width="7.79" height="7.79" fill="#ff8c00"/>
<rect x="333.72" y="55.87" width="6.59" height="7.79" fill="#ff8c00"/>
<rect x="281.00" y="62.46" width="7.79" height="7.79" fill="#eefb00"/>
<rect x="287.59" y="62.46" width="7.79" height="7.79" fill="#ffff00"/>
<rect x="294.18" y="62.46" width="7.79" height="7.79" fill="#ffff00"/>
<rect x="300.77" y="62.46" width="7.79" height="7.79" fill="#cdf500"/>
<rect x="307.36" y="62.46" width="7.79" height="7.79" fill="#cdf500"/>
<rect x="313.95" y="62.46" width="7.79" height="7.79" fill="#cdf500"/>
<rect x="320.54" y="62.46" width="7.79" height="7.79" fill="#ff8c00"/>
<rect x="327.13" y="62.46" width="7.79" height="7.79" fill="#ff8c00"/>
<rect x="333.72" y="62.46" width="6.59" height="7.79" fill="#ff8c00"/>
<rect x="281.00" y="69.05" width="7.79" height="7.79" fill="#eefb00"/>
<rect x="287.59" y="69.05" width="7.79" height="7.79" fill="#ffff00"/>
<rect x="294.18" y="69.05" width="7.79" height="7.79" fill="#ffff00"/>
<rect x="300.77" y="69.05" width="7.79" height="7.79" fill="#cdf500"/>
<rect x="307.36" y="69.05" width="7.79" height="7.79" fill="#cdf500"/>
<rect x="313.95" y="69.05" width="7.79" height="7.79" fill="#cdf500"/>
<rect x="320.54" y="69.05" width="7.79" height="7.79" fill="#ff8c00"/>
<rect x="327.13" y="69.05" width="7.79" height="7.79" fill="#ff8c00"/>
<rect x="333.72" y="69.05" width="6.59" height="7.79" fill="#ff6e00"/>
<rect x="281.00" y="75.64" width="7.79" height="7.79" fill="#eefb00"/>
<rect x="287.59" y="75.64" width="7.79" height="7.79" fill="#ffff00"/>
<rect x="294.18" y="75.64" width="7.79" height="7.79" fill="#ffff00"/>
<rect x="300.77" y="75.64" width="7.79" height="7.79" fill="#cdf500"/>
<rect x="307.36" y="75.64" width="7.79" height="7.79" fill="#cdf500"/>
<rect x="313.95" y="75.64" width="7.79" height="7.79" fill="#cdf500"/>
<rect x="320.54" y="75.64" width="7.79" height="7.79" fill="#ff6e00"/>
<rect x="327.13" y="75.64" width="7.79" height="7.79" fill="#ff8c00"/>
<rect x="333.72" y="75.64" width="6.59" height="7.79" fill="#ff8c00"/>
<rect x="281.00" y="82.23" width="7.79" height="7.79" fill="#eefb00"/>
<rect x="287.59" y="82.23" width="7.79" height="7.79" fill="#ffff00"/>
<rect x="294.18" y="82.23" width="7.79" height="7.79" fill="#ffff00"/>
<rect x="300.77" y="82.23" width="7.79" height="7.79" fill="#cdf500"/>
<rect x="307.36" y="82.23" width="7.79" height="7.79" fill="#cdf500"/>
<rect x="313.95" y="82.23" width="7.79" height="7.79" fill="#cdf500"/>
<rect x="320.54" y="82.23" width="7.79" height="7.79" fill="#ff6e00"/>
<rect x="327.13" y="82.23" width="7.79" height="7.79" fill="#ff8c00"/>
<rect x="333.72" y="82.23" width="6.59" height="7.79" fill="#ff8c00"/>
<rect x="281.00" y="88.82" width="7.79" height="7.79" fill="#eefb00"/>
<rect x="287.59" y="88.82" width="7.79" height="7.79" fill="#ffff00"/>
<rect x="294.18" y="88.82" width="7.79" height="7.79" fill="#ffff00"/>
<rect x="300.77" y="88.82" width="7.79" height="7.79" fill="#cdf500"/>
<rect x="307.36" y="88.82" width="7.79" height="7.79" fill="#cdf500"/>
<rect x="313.95" y="88.82" width="7.79" height="7.79" fill="#cdf500"/>
<rect x="320.54" y="88.82" width="7.79" height="7.79" fill="#ff8c00"/>
<rect x="327.13" y="88.82" width="7.79" height="7.79" fill="#ff8c00"/>
<rect x="333.72" y="88.82" width="6.59" height="7.79" fill="#ff8c00"/>
<rect x="281.00" y="95.41" width="7.79" height="7.79" fill="#eefb00"/>
<rect x="287.59" y="95.41" width="7.79" height="7.79" fill="#ffff00"/>
<rect x="294.18" y="95.41" width="7.79" height="7.79" fill="#ffff00"/>
<rect x="300.77" y="95.41" width="7.79" height="7.79" fill="#cdf500"/>
<rect x="307.36" y="95.41" width="7.79" height="7.79" fill="#cdf500"/>
<rect x="313.95" y="95.41" width="7.79" height="7.79" fill="#cdf500"/>
<rect x="320.54" y="95.41" width="7.79" height="7.79" fill="#ff6e00"/>
<rect x="327.13" y="95.41" width="7.79" height="7.79" fill="#ff8c00"/>
<rect x="333.72" y="95.41" width="6.59" height="7.79" fill="#ff8c00"/>
<rect x="281.00" y="102.00" width="7.79" height="7.79" fill="#eefb00"/>
<rect x="287.59" y="102.00" width="7.79" height="7.79" fill="#ffff00"/>
<rect x="294.18" y="102.00" width="7.79" height="7.79" fill="#ffff00"/>
<rect x="300.77" y="102.00" width="7.79" height="7.79" fill="#eefb00"/>
<rect x="307.36" y="102.00" width="7.79" height="7.79" fill="#cdf500"/>
<rect x="313.95" y="102.00" width="7.79" height="7.79" fill="#cdf500"/>
<rect x="320.54" y="102.00" width="7.79" height="7.79" fill="#ff6e00"/>
<rect x="327.13" y="102.00" width="7.79" height="7.79" fill="#ff8c00"/>
<rect x="333.72" y="102.00" width="6.59" height="7.79" fill="#ff6e00"/>
<rect x="281.00" y="108.59" width="7.79" height="7.79" fill="#eefb00"/>
<rect x="287.59" y="108.59" width="7.79" height="7.79" fill="#ffff00"/>
<rect x="294.18" y="108.59" width="7.79" height="7.79" fill="#ffff00"/>
<rect x="300.77" y="108.59" width="7.79" height="7.79" fill="#cdf500"/>
<rect x="307.36" y="108.59" width="7.79" height="7.79" fill="#cdf500"/>
<rect x="313.95" y="108.59" width="7.79" height="7.79" fill="#cdf500"/>
<rect x="320.54" y="108.59" width="7.79" height="7.79" fill="#ff8c00"/>
<rect x="327.13" y="108.59" width="7.79" height="7.79" fill="#ff8c00"/>
<rect x="333.72" y="108.59" width="6.59" height="7.79" fill="#ff8c00"/>
<rect x="281.00" y="115.18" width="7.79" height="7.79" fill="#eefb00"/>
<rect x="287.59" y="115.18" width="7.79" height="7.79" fill="#ffff00"/>
<rect x="294.18" y="115.18" width="7.79" height="7.79" fill="#ffff00"/>
<rect x="300.77" y="115.18" width="7.79" height="7.79" fill="#cdf500"/>
<rect x="307.36" y="115.18" width="7.79" height="7.79" fill="#cdf500"/>
<rect x="313.95" y="115.18" width="7.79" height="7.79" fill="#eefb00"/>
<rect x="320.54" y="115.18" width="7.79" height="7.79" fill="#ff8c00"/>
<rect x="327.13" y="115.18" width="7.79" height="7.79" fill="#ff6e00"/>
<rect x="333.72" y="115.18" width="6.59" height="7.79" fill="#ff8c00"/>
<rect x="281.00" y="121.77" width="7.79" height="7.79" fill="#eefb00"/>
<rect x="287.59" y="121.77" width="7.79" height="7.79" fill="#ffff00"/>
<rect x="294.18" y="121.77" width="7.79" height="7.79" fill="#ffff00"/>
<rect x="300.77" y="121.77" width="7.79" height="7.79" fill="#cdf500"/>
<rect x="307.36" y="121.77" width="7.79" height="7.79" fill="#cdf500"/>
<rect x="313.95" y="121.77" width="7.79" height="7.79" fill="#eefb00"/>
<rect x="320.54" y="121.77" width="7.79" height="7.79" fill="#ff8c00"/>
<rect x="327.13" y="121.77" width="7.79" height="7.79" fill="#ff6e00"/>
<rect x="333.72" y="121.77" width="6.59" height="7.79" fill="#ff8c00"/>
<rect x="281.00" y="128.36" width="7.79" height="7.79" fill="#eefb00"/>
<rect x="287.59" y="128.36" width="7.79" height="7.79" fill="#ffff00"/>
<rect x="294.18" y="128.36" width="7.79" height="7.79" fill="#ffff00"/>
<rect x="300.77" y="128.36" width="7.79" height="7.79" fill="#cdf500"/>
<rect x="307.36" y="128.36" width="7.79" height="7.79" fill="#cdf500"/>
<rect x="313.95" y="128.36" width="7.79" height="7.79" fill="#eefb00"/>
<rect x="320.54" y="128.36" width="7.79" height="7.79" fill="#ff6e00"/>
<rect x="327.13" y="128.36" width="7.79" height="7.79" fill="#ff8c00"/>
<rect x="333.72" y="128.36" width="6.59" height="7.79" fill="#ff8c00"/>
<rect x="281.00" y="134.95" width="7.79" height="7.79" fill="#eefb00"/>
<rect x="287.59" y="134.95" width="7.79" height="7.79" fill="#ffff00"/>
<rect x="294.18" y="134.95" width="7.79" height="7.79" fill="#ffff00"/>
<rect x="300.77" y="134.95" width="7.79" height="7.79" fill="#cdf500"/>
<rect x="307.36" y="134.95" width="7.79" height="7.79" fill="#cdf500"/>
<rect x="313.95" y="134.95" width="7.79" height="7.79" fill="#eefb00"/>
<rect x="320.54" y="134.95" width="7.79" height="7.79" fill="#ff6e00"/>
<rect x="327.13" y="134.95" width="7.79" height="7.79" fill="#ff8c00"/>
<rect x="333.72" y="134.95" width="6.59" height="7.79" fill="#ff8c00"/>
<rect x="281.00" y="141.54" width="7.79" height="7.79" fill="#eefb00"/>
<rect x="287.59" y="141.54" width="7.79" height="7.79" fill="#ffff00"/>
<rect x="294.18" y="141.54" width="7.79" height="7.79" fill="#ffff00"/>
<rect x="300.77" y="141.54" width="7.79" height="7.79" fill="#cdf500"/>
<rect x="307.36" y="141.54" width="7.79" height="7.79" fill="#cdf500"/>
<rect x="313.95" y="141.54" width="7.79" height="7.79" fill="#eefb00"/>
<rect x="320.54" y="141.54" width="7.79" height="7.79" fill="#ff6e00"/>
<rect x="327.13" y="141.54" width="7.79" height="7.79" fill="#ff8c00"/>
<rect x="333.72" y="141.54" width="6.59" height="7.79" fill="#ff8c00"/>
<rect x="281.00" y="148.13" width="7.79" height="7.79" fill="#eefb00"/>
<rect x="287.59" y="148.13" width="7.79" height="7.79" fill="#ffff00"/>
<rect x="294.18" y="148.13" width="7.79" height="7.79" fill="#ffff00"/>
<rect x="300.77" y="148.13" width="7.79" height="7.79" fill="#cdf500"/>
<rect x="307.36" y="148.13" width="7.79" height="7.79" fill="#cdf500"/>
<rect x="313.95" y="148.13" width="7.79" height="7.79" fill="#eefb00"/>
<rect x="320.54" y="148.13" width="7.79" height="7.79" fill="#ff5800"/>
<rect x="327.13" y="148.13" width="7.79" height="7.79" fill="#ff8c00"/>
<rect x="333.72" y="148.13" width="6.59" height="7.79" fill="#ff8c00"/>
<rect x="281.00" y="154.72" width="7.79" height="7.79" fill="#cdf500"/>
<rect x="287.59" y="154.72" width="7.79" height="7.79" fill="#eefb00"/>
<rect x="294.18" y="154.72" width="7.79" height="7.79" fill="#ffff00"/>
<rect x="300.77" y="154.72" width="7.79" height="7.79" fill="#cdf500"/>
<rect x="307.36" y="154.72" width="7.79" height="7.79" fill="#cdf500"/>
<rect x="313.95" y="154.72" width="7.79" height="7.79" fill="#eefb00"/>
<rect x="320.54" y="154.72" width="7.79" height="7.79" fill="#ffc300"/>
<rect x="327.13" y="154.72" width="7.79" height="7.79" fill="#ffc300"/>
<rect x="333.72" y="154.72" width="6.59" height="7.79" fill="#ffc300"/>
<rect x="281.00" y="161.31" width="7.79" height="7.79" fill="#cdf500"/>
<rect x="287.59" y="161.31" width="7.79" height="7.79" fill="#eefb00"/>
<rect x="294.18" y="161.31" width="7.79" height="7.79" fill="#ffff00"/>
<rect x="300.77" y="161.31" width="7.79" height="7.79" fill="#cdf500"/>
<rect x="307.36" y="161.31" width="7.79" height="7.79" fill="#91ec00"/>
<rect x="313.95" y="161.31" width="7.79" height="7.79" fill="#cdf500"/>
<rect x="320.54" y="161.31" width="7.79" height="7.79" fill="#ff6e00"/>
<rect x="327.13" y="161.31" width="7.79" height="7.79" fill="#ff8c00"/>
<rect x="333.72" y="161.31" width="6.59" height="7.79" fill="#ff8c00"/>
<rect x="281.00" y="167.90" width="7.79" height="7.79" fill="#eefb00"/>
<rect x="287.59" y="167.90" width="7.79" height="7.79" fill="#ffff00"/>
<rect x="294.18" y="167.90" width="7.79" height="7.79" fill="#ffff00"/>
<rect x="300.77" y="167.90" width="7.79" height="7.79" fill="#cdf500"/>
<rect x="307.36" y="167.90" width="7.79" height="7.79" fill="#91ec00"/>
<rect x="313.95" y="167.90" width="7.79" height="7.79" fill="#cdf500"/>
<rect x="320.54" y="167.90" width="7.79" height="7.79" fill="#ff6e00"/>
<rect x="327.13" y="167.90" width="7.79" height="7.79" fill="#ffc300"/>
<rect x="333.72" y="167.90" width="6.59" height="7.79" fill="#ffc300"/>
<rect x="281.00" y="174.49" width="7.79" height="7.79" fill="#eefb00"/>
<rect x="287.59" y="174.49" width="7.79" height="7.79" fill="#ffff00"/>
<rect x="294.18" y="174.49" width="7.79" height="7.79" fill="#ffff00"/>
<rect x="300.77" y="174.49" width="7.79" height="7.79" fill="#cdf500"/>
<rect x="307.36" y="174.49" width="7.79" height="7.79" fill="#91ec00"/>
<rect x="313.95" y="174.49" width="7.79" height="7.79" fill="#cdf500"/>
<rect x="320.54" y="174.49" width="7.79" height="7.79" fill="#ff8c00"/>
<rect x="327.13" y="174.49" width="7.79" height="7.79" fill="#ffc300"/>
<rect x="333.72" y="174.49" width="6.59" height="7.79" fill="#ffc300"/>
<rect x="281.00" y="181.08" width="7.79" height="7.79" fill="#eefb00"/>
<rect x="287.59" y="181.08" width="7.79" height="7.79" fill="#cdf500"/>
<rect x="294.18" y="181.08" width="7.79" height="7.79" fill="#eefb00"/>
<rect x="300.77" y="181.08" width="7.79" height="7.79" fill="#cdf500"/>
<rect x="307.36" y="181.08" width="7.79" height="7.79" fill="#cdf500"/>
<rect x="313.95" y="181.08" width="7.79" height="7.79" fill="#cdf500"/>
<rect x="320.54" y="181.08" width="7.79" height="7.79" fill="#ff6e00"/>
<rect x="327.13" y="181.08" width="7.79" height="7.79" fill="#ff8c00"/>
<rect x="333.72" y="181.08" width="6.59" height="7.79" fill="#ff8c00"/>
<rect x="281.00" y="187.67" width="7.79" height="7.79" fill="#cdf500"/>
<rect x="287.59" y="187.67" width="7.79" height="7.79" fill="#eefb00"/>
<rect x="294.18" y="187.67" width="7.79" height="7.79" fill="#ffff00"/>
<rect x="300.77" y="187.67" width="7.79" height="7.79" fill="#91ec00"/>
<rect x="307.36" y="187.67" width="7.79" height="7.79" fill="#cdf500"/>
<rect x="313.95" y="187.67" width="7.79" height="7.79" fill="#cdf500"/>
<rect x="320.54" y="187.67" width="7.79" height="7.79" fill="#ff8c00"/>
<rect x="327.13" y="187.67" width="7.79" height="7.79" fill="#ff8c00"/>
<rect x="333.72" y="187.67" width="6.59" height="7.79" fill="#ff8c00"/>
<rect x="281.00" y="194.26" width="7.79" height="7.79" fill="#eefb00"/>
<rect x="287.59" y="194.26" width="7.79" height="7.79" fill="#eefb00"/>
<rect x="294.18" y="194.26" width="7.79" height="7.79" fill="#ffff00"/>
<rect x="300.77" y="194.26" width="7.79" height="7.79" fill="#cdf500"/>
<rect x="307.36" y="194.26" width="7.79" height="7.79" fill="#cdf500"/>
<rect x="313.95" y="194.26" width="7.79" height="7.79" fill="#cdf500"/>
<rect x="320.54" y="194.26" width="7.79" height="7.79" fill="#ff8c00"/>
<rect x="327.13" y="194.26" width="7.79" height="7.79" fill="#ff8c00"/>
<rect x="333.72" y="194.26" width="6.59" height="7.79" fill="#ff8c00"/>
<rect x="281.00" y="200.85" width="7.79" height="7.79" fill="#eefb00"/>
<rect x="287.59" y="200.85" width="7.79" height="7.79" fill="#eefb00"/>
<rect x="294.18" y="200.85" width="7.79" height="7.79" fill="#ffff00"/>
<rect x="300.77" y="200.85" width="7.79" height="7.79" fill="#cdf500"/>
<rect x="307.36" y="200.85" width="7.79" height="7.79" fill="#cdf500"/>
<rect x="313.95" y="200.85" width="7.79" height="7.79" fill="#cdf500"/>
<rect x="320.54" y="200.85" width="7.79" height="7.79" fill="#ff5800"/>
<rect x="327.13" y="200.85" width="7.79" height="7.79" fill="#ff8c00"/>
<rect x="333.72" y="200.85" width="6.59" height="7.79" fill="#ff8c00"/>
<rect x="281.00" y="207.44" width="7.79" height="7.79" fill="#eefb00"/>
<rect x="287.59" y="207.44" width="7.79" height="7.79" fill="#cdf500"/>
<rect x="294.18" y="207.44" width="7.79" height="7.79" fill="#cdf500"/>
<rect x="300.77" y="207.44" width="7.79" height="7.79" fill="#cdf500"/>
<rect x="307.36" y="207.44" width="7.79" height="7.79" fill="#cdf500"/>
<rect x="313.95" y="207.44" width="7.79" height="7.79" fill="#cdf500"/>
<rect x="320.54" y="207.44" width="7.79" height="7.79" fill="#ff5800"/>
<rect x="327.13" y="207.44" width="7.79" height="7.79" fill="#ff6e00"/>
<rect x="333.72" y="207.44" width="6.59" height="7.79" fill="#ff8c00"/>
<rect x="281.00" y="214.03" width="7.79" height="7.79" fill="#eefb00"/>
<rect x="287.59" y="214.03" width="7.79" height="7.79" fill="#ffff00"/>
<rect x="294.18" y="214.03" width="7.79" height="7.79" fill="#ffff00"/>
<rect x="300.77" y="214.03" width="7.79" height="7.79" fill="#cdf500"/>
<rect x="307.36" y="214.03" width="7.79" height="7.79" fill="#cdf500"/>
<rect x="313.95" y="214.03" width="7.79" height="7.79" fill="#cdf500"/>
<rect x="320.54" y="214.03" width="7.79" height="7.79" fill="#ff5800"/>
<rect x="327.13" y="214.03" width="7.79" height="7.79" fill="#ff6e00"/>
<rect x="333.72" y="214.03" width="6.59" height="7.79" fill="#ffc300"/>
<rect x="281.00" y="220.62" width="7.79" height="7.79" fill="#eefb00"/>
<rect x="287.59" y="220.62" width="7.79" height="7.79" fill="#ffff00"/>
<rect x="294.18" y="220.62" width="7.79" height="7.79" fill="#ffff00"/>
<rect x="300.77" y="220.62" width="7.79" height="7.79" fill="#cdf500"/>
<rect x="307.36" y="220.62" width="7.79" height="7.79" fill="#cdf500"/>
<rect x="313.95" y="220.62" width="7.79" height="7.79" fill="#cdf500"/>
<rect x="320.54" y="220.62" width="7.79" height="7.79" fill="#ff5800"/>
<rect x="327.13" y="220.62" width="7.79" height="7.79" fill="#ff6e00"/>
<rect x="333.72" y="220.62" width="6.59" height="7.79" fill="#ffc300"/>
<rect x="281.00" y="227.21" width="7.79" height="7.79" fill="#eefb00"/>
<rect x="287.59" y="227.21" width="7.79" height="7.79" fill="#ffff00"/>
<rect x="294.18" y="227.21" width="7.79" height="7.79" fill="#ffff00"/>
<rect x="300.77" y="227.21" width="7.79" height="7.79" fill="#cdf500"/>
<rect x="307.36" y="227.21" width="7.79" height="7.79" fill="#cdf500"/>
<rect x="313.95" y="227.21" width="7.79" height="7.79" fill="#eefb00"/>
<rect x="320.54" y="227.21" width="7.79" height="7.79" fill="#ff8c00"/>
<rect x="327.13" y="227.21" width="7.79" height="7.79" fill="#ff5800"/>
<rect x="333.72" y="227.21" width="6.59" height="7.79" fill="#ff6e00"/>
<rect x="281.00" y="233.80" width="7.79" height="7.79" fill="#eefb00"/>
<rect x="287.59" y="233.80" width="7.79" height="7.79" fill="#ffff00"/>
<rect x="294.18" y="233.80" width="7.79" height="7.79" fill="#ffff00"/>
<rect x="300.77" y="233.80" width="7.79" height="7.79" fill="#91ec00"/>
<rect x="307.36" y="233.80" width="7.79" height="7.79" fill="#91ec00"/>
<rect x="313.95" y="233.80" width="7.79" height="7.79" fill="#91ec00"/>
<rect x="320.54" y="233.80" width="7.79" height="7.79" fill="#ffc300"/>
<rect x="327.13" y="233.80" width="7.79" height="7.79" fill="#ffc300"/>
<rect x="333.72" y="233.80" width="6.59" height="7.79" fill="#ffc300"/>
<rect x="281.00" y="240.39" width="7.79" height="7.79" fill="#eefb00"/>
<rect x="287.59" y="240.39" width="7.79" height="7.79" fill="#ffff00"/>
<rect x="294.18" y="240.39" width="7.79" height="7.79" fill="#ffff00"/>
<rect x="300.77" y="240.39" width="7.79" height="7.79" fill="#91ec00"/>
<rect x="307.36" y="240.39" width="7.79" height="7.79" fill="#91ec00"/>
<rect x="313.95" y="240.39" width="7.79" height="7.79" fill="#91ec00"/>
<rect x="320.54" y="240.39" width="7.79" height="7.79" fill="#ffc300"/>
<rect x="327.13" y="240.39" width="7.79" height="7.79" fill="#ffff00"/>
<rect x="333.72" y="240.39" width="6.59" height="7.79" fill="#ffc300"/>
<rect x="281.00" y="246.98" width="7.79" height="7.79" fill="#eefb00"/>
<rect x="287.59" y="246.98" width="7.79" height="7.79" fill="#ffff00"/>
<rect x="294.18" y="246.98" width="7.79" height="7.79" fill="#ffff00"/>
<rect x="300.77" y="246.98" width="7.79" height="7.79" fill="#91ec00"/>
<rect x="307.36" y="246.98" width="7.79" height="7.79" fill="#91ec00"/>
<rect x="313.95" y="246.98" width="7.79" height="7.79" fill="#91ec00"/>
<rect x="320.54" y="246.98" width="7.79" height="7.79" fill="#ff6e00"/>
<rect x="327.13" y="246.98" width="7.79" height="7.79" fill="#ff8c00"/>
<rect x="333.72" y="246.98" width="6.59" height="7.79" fill="#ff8c00"/>
<rect x="281.00" y="253.57" width="7.79" height="7.79" fill="#eefb00"/>
<rect x="287.59" y="253.57" width="7.79" height="7.79" fill="#ffff00"/>
<rect x="294.18" y="253.57" width="7.79" height="7.79" fill="#ffff00"/>
<rect x="300.77" y="253.57" width="7.79" height="7.79" fill="#91ec00"/>
<rect x="307.36" y="253.57" width="7.79" height="7.79" fill="#91ec00"/>
<rect x="313.95" y="253.57" width="7.79" height="7.79" fill="#91ec00"/>
<rect x="320.54" y="253.57" width="7.79" height="7.79" fill="#ff6e00"/>
<rect x="327.13" y="253.57" width="7.79" height="7.79" fill="#ff8c00"/>
<rect x="333.72" y="253.57" width="6.59" height="7.79" fill="#ff8c00"/>
<rect x="281.00" y="260.16" width="7.79" height="7.79" fill="#eefb00"/>
<rect x="287.59" y="260.16" width="7.79" height="7.79" fill="#ffff00"/>
<rect x="294.18" y="260.16" width="7.79" height="7.79" fill="#ffff00"/>
<rect x="300.77" y="260.16" width="7.79" height="7.79" fill="#91ec00"/>
<rect x="307.36" y="260.16" width="7.79" height="7.79" fill="#91ec00"/>
<rect x="313.95" y="260.16" width="7.79" height="7.79" fill="#91ec00"/>
<rect x="320.54" y="260.16" width="7.79" height="7.79" fill="#ff6e00"/>
<rect x="327.13" y="260.16" width="7.79" height="7.79" fill="#ff8c00"/>
<rect x="333.72" y="260.16" width="6.59" height="7.79" fill="#ff8c00"/>
<rect x="281.00" y="266.75" width="7.79" height="7.79" fill="#eefb00"/>
<rect x="287.59" y="266.75" width="7.79" height="7.79" fill="#ffff00"/>
<rect x="294.18" y="266.75" width="7.79" height="7.79" fill="#ffff00"/>
<rect x="300.77" y="266.75" width="7.79" height="7.79" fill="#91ec00"/>
<rect x="307.36" y="266.75" width="7.79" height="7.79" fill="#91ec00"/>
<rect x="313.95" y="266.75" width="7.79" height="7.79" fill="#91ec00"/>
<rect x="320.54" y="266.75" width="7.79" height="7.79" fill="#ff6e00"/>
<rect x="327.13" y="266.75" width="7.79" height="7.79" fill="#ff8c00"/>
<rect x="333.72" y="266.75" width="6.59" height="7.79" fill="#ff8c00"/>
<rect x="281.00" y="273.34" width="7.79" height="7.79" fill="#eefb00"/>
<rect x="287.59" y="273.34" width="7.79" height="7.79" fill="#ffff00"/>
<rect x="294.18" y="273.34" width="7.79" height="7.79" fill="#ffff00"/>
<rect x="300.77" y="273.34" width="7.79" height="7.79" fill="#91ec00"/>
<rect x="307.36" y="273.34" width="7.79" height="7.79" fill="#91ec00"/>
<rect x="313.95" y="273.34" width="7.79" height="7.79" fill="#91ec00"/>
<rect x="320.54" y="273.34" width="7.79" height="7.79" fill="#ff6e00"/>
<rect x="327.13" y="273.34" width="7.79" height="7.79" fill="#ff8c00"/>
<rect x="333.72" y="273.34" width="6.59" height="7.79" fill="#ff8c00"/>
<rect x="281.00" y="279.93" width="7.79" height="7.79" fill="#eefb00"/>
<rect x="287.59" y="279.93" width="7.79" height="7.79" fill="#ffff00"/>
<rect x="294.18" y="279.93" width="7.79" height="7.79" fill="#ffff00"/>
<rect x="300.77" y="279.93" width="7.79" height="7.79" fill="#eefb00"/>
<rect x="307.36" y="279.93" width="7.79" height="7.79" fill="#37c800"/>
<rect x="313.95" y="279.93" width="7.79" height="7.79" fill="#eefb00"/>
<rect x="320.54" y="279.93" width="7.79" height="7.79" fill="#ffc300"/>
<rect x="327.13" y="279.93" width="7.79" height="7.79" fill="#ffc300"/>
<rect x="333.72" y="279.93" width="6.59" height="7.79" fill="#ffc300"/>
<rect x="281.00" y="286.52" width="7.79" height="7.79" fill="#eefb00"/>
<rect x="287.59" y="286.52" width="7.79" height="7.79" fill="#eefb00"/>
<rect x="294.18" y="286.52" width="7.79" height="7.79" fill="#ffff00"/>
<rect x="300.77" y="286.52" width="7.79" height="7.79" fill="#eefb00"/>
<rect x="307.36" y="286.52" width="7.79" height="7.79" fill="#ffff00"/>
<rect x="313.95" y="286.52" width="7.79" height="7.79" fill="#ffff00"/>
<rect x="320.54" y="286.52" width="7.79" height="7.79" fill="#ff6e00"/>
<rect x="327.13" y="286.52" width="7.79" height="7.79" fill="#ff6e00"/>
<rect x="333.72" y="286.52" width="6.59" height="7.79" fill="#ff5800"/>
<rect x="281.00" y="293.11" width="7.79" height="7.79" fill="#eefb00"/>
<rect x="287.59" y="293.11" width="7.79" height="7.79" fill="#cdf500"/>
<rect x="294.18" y="293.11" width="7.79" height="7.79" fill="#eefb00"/>
<rect x="300.77" y="293.11" width="7.79" height="7.79" fill="#eefb00"/>
<rect x="307.36" y="293.11" width="7.79" height="7.79" fill="#ffff00"/>
<rect x="313.95" y="293.11" width="7.79" height="7.79" fill="#ffff00"/>
<rect x="320.54" y="293.11" width="7.79" height="7.79" fill="#ff8c00"/>
<rect x="327.13" y="293.11" width="7.79" height="7.79" fill="#ffc300"/>
<rect x="333.72" y="293.11" width="6.59" height="7.79" fill="#ff6e00"/>
<rect x="281.00" y="299.70" width="7.79" height="7.79" fill="#eefb00"/>
<rect x="287.59" y="299.70" width="7.79" height="7.79" fill="#cdf500"/>
<rect x="294.18" y="299.70" width="7.79" height="7.79" fill="#eefb00"/>
<rect x="300.77" y="299.70" width="7.79" height="7.79" fill="#eefb00"/>
<rect x="307.36" y="299.70" width="7.79" height="7.79" fill="#ffff00"/>
<rect x="313.95" y="299.70" width="7.79" height="7.79" fill="#ffff00"/>
<rect x="320.54" y="299.70" width="7.79" height="7.79" fill="#ff6e00"/>
<rect x="327.13" y="299.70" width="7.79" height="7.79" fill="#ff6e00"/>
<rect x="333.72" y="299.70" width="6.59" height="7.79" fill="#ff6e00"/>
<rect x="281.00" y="306.29" width="7.79" height="7.79" fill="#eefb00"/>
<rect x="287.59" y="306.29" width="7.79" height="7.79" fill="#eefb00"/>
<rect x="294.18" y="306.29" width="7.79" height="7.79" fill="#eefb00"/>
<rect x="300.77" y="306.29" width="7.79" height="7.79" fill="#eefb00"/>
<rect x="307.36" y="306.29" width="7.79" height="7.79" fill="#ffff00"/>
<rect x="313.95" y="306.29" width="7.79" height="7.79" fill="#ffff00"/>
<rect x="320.54" y="306.29" width="7.79" height="7.79" fill="#ff6e00"/>
<rect x="327.13" y="306.29" width="7.79" height="7.79" fill="#ff6e00"/>
<rect x="333.72" y="306.29" width="6.59" height="7.79" fill="#ff6e00"/>
<rect x="281.00" y="312.88" width="7.79" height="7.79" fill="#eefb00"/>
<rect x="287.59" y="312.88" width="7.79" height="7.79" fill="#eefb00"/>
<rect x="294.18" y="312.88" width="7.79" height="7.79" fill="#eefb00"/>
<rect x="300.77" y="312.88" width="7.79" height="7.79" fill="#eefb00"/>
<rect x="307.36" y="312.88" width="7.79" height="7.79" fill="#ffff00"/>
<rect x="313.95" y="312.88" width="7.79" height="7.79" fill="#ffff00"/>
<rect x="320.54" y="312.88" width="7.79" height="7.79" fill="#ff6e00"/>
<rect x="327.13" y="312.88" width="7.79" height="7.79" fill="#ff6e00"/>
<rect x="333.72" y="312.88" width="6.59" height="7.79" fill="#ff6e00"/>
<rect x="281.00" y="319.47" width="7.79" height="7.79" fill="#cdf500"/>
<rect x="287.59" y="319.47" width="7.79" height="7.79" fill="#eefb00"/>
<rect x="294.18" y="319.47" width="7.79" height="7.79" fill="#eefb00"/>
<rect x="300.77" y="319.47" width="7.79" height="7.79" fill="#eefb00"/>
<rect x="307.36" y="319.47" width="7.79" height="7.79" fill="#ffff00"/>
<rect x="313.95" y="319.47" width="7.79" height="7.79" fill="#ffff00"/>
<rect x="320.54" y="319.47" width="7.79" height="7.79" fill="#ff5800"/>
<rect x="327.13" y="319.47" width="7.79" height="7.79" fill="#ff6e00"/>
<rect x="333.72" y="319.47" width="6.59" height="7.79" fill="#ff5800"/>
<rect x="281.00" y="326.06" width="7.79" height="7.79" fill="#eefb00"/>
<rect x="287.59" y="326.06" width="7.79" height="7.79" fill="#eefb00"/>
<rect x="294.18" y="326.06" width="7.79" height="7.79" fill="#eefb00"/>
<rect x="300.77" y="326.06" width="7.79" height="7.79" fill="#eefb00"/>
<rect x="307.36" y="326.06" width="7.79" height="7.79" fill="#ffff00"/>
<rect x="313.95" y="326.06" width="7.79" height="7.79" fill="#ffff00"/>
<rect x="320.54" y="326.06" width="7.79" height="7.79" fill="#ff8c00"/>
<rect x="327.13" y="326.06" width="7.79" height="7.79" fill="#ff6e00"/>
<rect x="333.72" y="326.06" width="6.59" height="7.79" fill="#ff6e00"/>
<rect x="281.00" y="332.65" width="7.79" height="7.79" fill="#eefb00"/>
<rect x="287.59" y="332.65" width="7.79" height="7.79" fill="#eefb00"/>
<rect x="294.18" y="332.65" width="7.79" height="7.79" fill="#eefb00"/>
<rect x="300.77" y="332.65" width="7.79" height="7.79" fill="#eefb00"/>
<rect x="307.36" y="332.65" width="7.79" height="7.79" fill="#ffff00"/>
<rect x="313.95" y="332.65" width="7.79" height="7.79" fill="#ffff00"/>
<rect x="320.54" y="332.65" width="7.79" height="7.79" fill="#ff6e00"/>
<rect x="327.13" y="332.65" width="7.79" height="7.79" fill="#ff6e00"/>
<rect x="333.72" y="332.65" width="6.59" height="7.79" fill="#ff6e00"/>
<rect x="281.00" y="339.24" width="7.79" height="7.79" fill="#eefb00"/>
<rect x="287.59" y="339.24" width="7.79" height="7.79" fill="#eefb00"/>
<rect x="294.18" y="339.24" width="7.79" height="7.79" fill="#eefb00"/>
<rect x="300.77" y="339.24" width="7.79" height="7.79" fill="#eefb00"/>
<rect x="307.36" y="339.24" width="7.79" height="7.79" fill="#ffff00"/>
<rect x="313.95" y="339.24" width="7.79" height="7.79" fill="#ffff00"/>
<rect x="320.54" y="339.24" width="7.79" height="7.79" fill="#ff6e00"/>
<rect x="327.13" y="339.24" width="7.79" height="7.79" fill="#ff6e00"/>
<rect x="333.72" y="339.24" width="6.59" height="7.79" fill="#ff6e00"/>
<rect x="281.00" y="345.83" width="7.79" height="7.79" fill="#eefb00"/>
<rect x="287.59" y="345.83" width="7.79" height="7.79" fill="#eefb00"/>
<rect x="294.18" y="345.83" width="7.79" height="7.79" fill="#cdf500"/>
<rect x="300.77" y="345.83" width="7.79" height="7.79" fill="#eefb00"/>
<rect x="307.36" y="345.83" width="7.79" height="7.79" fill="#ffff00"/>
<rect x="313.95" y="345.83" width="7.79" height="7.79" fill="#ffff00"/>
<rect x="320.54" y="345.83" width="7.79" height="7.79" fill="#ff6e00"/>
<rect x="327.13" y="345.83" width="7.79" height="7.79" fill="#ff6e00"/>
<rect x="333.72" y="345.83" width="6.59" height="7.79" fill="#ff6e00"/>
<rect x="281.00" y="352.42" width="7.79" height="7.79" fill="#eefb00"/>
<rect x="287.59" y="352.42" width="7.79" height="7.79" fill="#eefb00"/>
<rect x="294.18" y="352.42" width="7.79" height="7.79" fill="#eefb00"/>
<rect x="300.77" y="352.42" width="7.79" height="7.79" fill="#eefb00"/>
<rect x="307.36" y="352.42" width="7.79" height="7.79" fill="#ffff00"/>
<rect x="313.95" y="352.42" width="7.79" height="7.79" fill="#ffff00"/>
<rect x="320.54" y="352.42" width="7.79" height="7.79" fill="#ff5800"/>
<rect x="327.13" y="352.42" width="7.79" height="7.79" fill="#ff6e00"/>
<rect x="333.72" y="352.42" width="6.59" height="7.79" fill="#ff5800"/>
<rect x="281.00" y="359.01" width="7.79" height="7.79" fill="#eefb00"/>
<rect x="287.59" y="359.01" width="7.79" height="7.79" fill="#cdf500"/>
<rect x="294.18" y="359.01" width="7.79" height="7.79" fill="#eefb00"/>
<rect x="300.77" y="359.01" width="7.79" height="7.79" fill="#eefb00"/>
<rect x="307.36" y="359.01" width="7.79" height="7.79" fill="#eefb00"/>
<rect x="313.95" y="359.01" width="7.79" height="7.79" fill="#ffff00"/>
<rect x="320.54" y="359.01" width="7.79" height="7.79" fill="#ff8c00"/>
<rect x="327.13" y="359.01" width="7.79" height="7.79" fill="#ff8c00"/>
<rect x="333.72" y="359.01" width="6.59" height="7.79" fill="#ff8c00"/>
<rect x="281.00" y="365.60" width="7.79" height="7.79" fill="#eefb00"/>
<rect x="287.59" y="365.60" width="7.79" height="7.79" fill="#91ec00"/>
<rect x="294.18" y="365.60" width="7.79" height="7.79" fill="#eefb00"/>
<rect x="300.77" y="365.60" width="7.79" height="7.79" fill="#eefb00"/>
<rect x="307.36" y="365.60" width="7.79" height="7.79" fill="#ffff00"/>
<rect x="313.95" y="365.60" width="7.79" height="7.79" fill="#ffff00"/>
<rect x="320.54" y="365.60" width="7.79" height="7.79" fill="#ff8c00"/>
<rect x="327.13" y="365.60" width="7.79" height="7.79" fill="#ffc300"/>
<rect x="333.72" y="365.60" width="6.59" height="7.79" fill="#ff8c00"/>
<rect x="281.00" y="372.19" width="7.79" height="7.79" fill="#eefb00"/>
<rect x="287.59" y="372.19" width="7.79" height="7.79" fill="#91ec00"/>
<rect x="294.18" y="372.19" width="7.79" height="7.79" fill="#eefb00"/>
<rect x="300.77" y="372.19" width="7.79" height="7.79" fill="#eefb00"/>
<rect x="307.36" y="372.19" width="7.79" height="7.79" fill="#ffff00"/>
<rect x="313.95" y="372.19" width="7.79" height="7.79" fill="#ffff00"/>
<rect x="320.54" y="372.19" width="7.79" height="7.79" fill="#ff5800"/>
<rect x="327.13" y="372.19" width="7.79" height="7.79" fill="#ff6e00"/>
<rect x="333.72" y="372.19" width="6.59" height="7.79" fill="#ff5800"/>
<rect x="281.00" y="378.78" width="7.79" height="7.79" fill="#eefb00"/>
<rect x="287.59" y="378.78" width="7.79" height="7.79" fill="#cdf500"/>
<rect x="294.18" y="378.78" width="7.79" height="7.79" fill="#eefb00"/>
<rect x="300.77" y="378.78" width="7.79" height="7.79" fill="#eefb00"/>
<rect x="307.36" y="378.78" width="7.79" height="7.79" fill="#eefb00"/>
<rect x="313.95" y="378.78" width="7.79" height="7.79" fill="#ffff00"/>
<rect x="320.54" y="378.78" width="7.79" height="7.79" fill="#ffc300"/>
<rect x="327.13" y="378.78" width="7.79" height="7.79" fill="#ff6e00"/>
<rect x="333.72" y="378.78" width="6.59" height="7.79" fill="#ff6e00"/>
<rect x="281.00" y="385.37" width="7.79" height="7.79" fill="#91ec00"/>
<rect x="287.59" y="385.37" width="7.79" height="7.79" fill="#91ec00"/>
<rect x="294.18" y="385.37" width="7.79" height="7.79" fill="#cdf500"/>
<rect x="300.77" y="385.37" width="7.79" height="7.79" fill="#ffff00"/>
<rect x="307.36" y="385.37" width="7.79" height="7.79" fill="#ffff00"/>
<rect x="313.95" y="385.37" width="7.79" height="7.79" fill="#ffff00"/>
<rect x="320.54" y="385.37" width="7.79" height="7.79" fill="#ffc300"/>
<rect x="327.13" y="385.37" width="7.79" height="7.79" fill="#ffc300"/>
<rect x="333.72" y="385.37" width="6.59" height="7.79" fill="#ffc300"/>
<rect x="281.00" y="391.96" width="7.79" height="7.79" fill="#eefb00"/>
<rect x="287.59" y="391.96" width="7.79" height="7.79" fill="#91ec00"/>
<rect x="294.18" y="391.96" width="7.79" height="7.79" fill="#eefb00"/>
<rect x="300.77" y="391.96" width="7.79" height="7.79" fill="#ffff00"/>
<rect x="307.36" y="391.96" width="7.79" height="7.79" fill="#ffff00"/>
<rect x="313.95" y="391.96" width="7.79" height="7.79" fill="#ffff00"/>
<rect x="320.54" y="391.96" width="7.79" height="7.79" fill="#ff5800"/>
<rect x="327.13" y="391.96" width="7.79" height="7.79" fill="#ffc300"/>
<rect x="333.72" y="391.96" width="6.59" height="7.79" fill="#ff5800"/>
<rect x="281.00" y="398.55" width="7.79" height="7.79" fill="#ffc300"/>
<rect x="287.59" y="398.55" width="7.79" height="7.79" fill="#ff8c00"/>
<rect x="294.18" y="398.55" width="7.79" height="7.79" fill="#ffc300"/>
<rect x="300.77" y="398.55" width="7.79" height="7.79" fill="#ffff00"/>
<rect x="307.36" y="398.55" width="7.79" height="7.79" fill="#ffff00"/>
<rect x="313.95" y="398.55" width="7.79" height="7.79" fill="#ffc300"/>
<rect x="320.54" y="398.55" width="7.79" height="7.79" fill="#cdf500"/>
<rect x="327.13" y="398.55" width="7.79" height="7.79" fill="#91ec00"/>
<rect x="333.72" y="398.55" width="6.59" height="7.79" fill="#91ec00"/>
<rect x="281.00" y="405.14" width="7.79" height="7.79" fill="#ffc300"/>
<rect x="287.59" y="405.14" width="7.79" height="7.79" fill="#ff5800"/>
<rect x="294.18" y="405.14" width="7.79" height="7.79" fill="#ff6e00"/>
<rect x="300.77" y="405.14" width="7.79" height="7.79" fill="#ffff00"/>
<rect x="307.36" y="405.14" width="7.79" height="7.79" fill="#ffff00"/>
<rect x="313.95" y="405.14" width="7.79" height="7.79" fill="#ffc300"/>
<rect x="320.54" y="405.14" width="7.79" height="7.79" fill="#91ec00"/>
<rect x="327.13" y="405.14" width="7.79" height="7.79" fill="#91ec00"/>
<rect x="333.72" y="405.14" width="6.59" height="7.79" fill="#91ec00"/>
<rect x="281.00" y="411.73" width="7.79" height="7.79" fill="#ffff00"/>
<rect x="287.59" y="411.73" width="7.79" height="7.79" fill="#ffc300"/>
<rect x="294.18" y="411.73" width="7.79" height="7.79" fill="#ff8c00"/>
<rect x="300.77" y="411.73" width="7.79" height="7.79" fill="#ffff00"/>
<rect x="307.36" y="411.73" width="7.79" height="7.79" fill="#ffff00"/>
<rect x="313.95" y="411.73" width="7.79" height="7.79" fill="#ffff00"/>
<rect x="320.54" y="411.73" width="7.79" height="7.79" fill="#37c800"/>
<rect x="327.13" y="411.73" width="7.79" height="7.79" fill="#91ec00"/>
<rect x="333.72" y="411.73" width="6.59" height="7.79" fill="#91ec00"/>
<rect x="281.00" y="418.32" width="7.79" height="7.79" fill="#ff8c00"/>
<rect x="287.59" y="418.32" width="7.79" height="7.79" fill="#ffc300"/>
<rect x="294.18" y="418.32" width="7.79" height="7.79" fill="#ff6e00"/>
<rect x="300.77" y="418.32" width="7.79" height="7.79" fill="#ffff00"/>
<rect x="307.36" y="418.32" width="7.79" height="7.79" fill="#ffff00"/>
<rect x="313.95" y="418.32" width="7.79" height="7.79" fill="#ffff00"/>
<rect x="320.54" y="418.32" width="7.79" height="7.79" fill="#91ec00"/>
<rect x="327.13" y="418.32" width="7.79" height="7.79" fill="#91ec00"/>
<rect x="333.72" y="418.32" width="6.59" height="7.79" fill="#64e200"/>
<rect x="281.00" y="424.91" width="7.79" height="7.79" fill="#ffc300"/>
<rect x="287.59" y="424.91" width="7.79" height="7.79" fill="#ffc300"/>
<rect x="294.18" y="424.91" width="7.79" height="7.79" fill="#ff8c00"/>
<rect x="300.77" y="424.91" width="7.79" height="7.79" fill="#ffff00"/>
<rect x="307.36" y="424.91" width="7.79" height="7.79" fill="#ffff00"/>
<rect x="313.95" y="424.91" width="7.79" height="7.79" fill="#ffff00"/>
<rect x="320.54" y="424.91" width="7.79" height="7.79" fill="#91ec00"/>
<rect x="327.13" y="424.91" width="7.79" height="7.79" fill="#91ec00"/>
<rect x="333.72" y="424.91" width="6.59" height="7.79" fill="#91ec00"/>
<rect x="281.00" y="431.50" width="7.79" height="7.79" fill="#ff6e00"/>
<rect x="287.59" y="431.50" width="7.79" height="7.79" fill="#ffc300"/>
<rect x="294.18" y="431.50" width="7.79" height="7.79" fill="#ff6e00"/>
<rect x="300.77" y="431.50" width="7.79" height="7.79" fill="#ffff00"/>
<rect x="307.36" y="431.50" width="7.79" height="7.79" fill="#ffff00"/>
<rect x="313.95" y="431.50" width="7.79" height="7.79" fill="#ffff00"/>
<rect x="320.54" y="431.50" width="7.79" height="7.79" fill="#91ec00"/>
<rect x="327.13" y="431.50" width="7.79" height="7.79" fill="#91ec00"/>
<rect x="333.72" y="431.50" width="6.59" height="7.79" fill="#91ec00"/>
<rect x="281.00" y="438.09" width="7.79" height="7.79" fill="#ff8c00"/>
<rect x="287.59" y="438.09" width="7.79" height="7.79" fill="#ff8c00"/>
<rect x="294.18" y="438.09" width="7.79" height="7.79" fill="#ffc300"/>
<rect x="300.77" y="438.09" width="7.79" height="7.79" fill="#ffff00"/>
<rect x="307.36" y="438.09" width="7.79" height="7.79" fill="#ffff00"/>
<rect x="313.95" y="438.09" width="7.79" height="7.79" fill="#ffff00"/>
<rect x="320.54" y="438.09" width="7.79" height="7.79" fill="#91ec00"/>
<rect x="327.13" y="438.09" width="7.79" height="7.79" fill="#cdf500"/>
<rect x="333.72" y="438.09" width="6.59" height="7.79" fill="#91ec00"/>
<rect x="281.00" y="444.68" width="7.79" height="7.79" fill="#ff8c00"/>
<rect x="287.59" y="444.68" width="7.79" height="7.79" fill="#ff6e00"/>
<rect x="294.18" y="444.68" width="7.79" height="7.79" fill="#ffc300"/>
<rect x="300.77" y="444.68" width="7.79" height="7.79" fill="#ffff00"/>
<rect x="307.36" y="444.68" width="7.79" height="7.79" fill="#ffff00"/>
<rect x="313.95" y="444.68" width="7.79" height="7.79" fill="#ffff00"/>
<rect x="320.54" y="444.68" width="7.79" height="7.79" fill="#91ec00"/>
<rect x="327.13" y="444.68" width="7.79" height="7.79" fill="#91ec00"/>
<rect x="333.72" y="444.68" width="6.59" height="7.79" fill="#91ec00"/>
<rect x="281.00" y="451.27" width="7.79" height="7.79" fill="#ffc300"/>
<rect x="287.59" y="451.27" width="7.79" height="7.79" fill="#ff8c00"/>
<rect x="294.18" y="451.27" width="7.79" height="7.79" fill="#ffc300"/>
<rect x="300.77" y="451.27" width="7.79" height="7.79" fill="#ffff00"/>
<rect x="307.36" y="451.27" width="7.79" height="7.79" fill="#ffff00"/>
<rect x="313.95" y="451.27" width="7.79" height="7.79" fill="#ffff00"/>
<rect x="320.54" y="451.27" width="7.79" height="7.79" fill="#91ec00"/>
<rect x="327.13" y="451.27" width="7.79" height="7.79" fill="#91ec00"/>
<rect x="333.72" y="451.27" width="6.59" height="7.79" fill="#91ec00"/>
<rect x="281.00" y="457.86" width="7.79" height="7.79" fill="#ffc300"/>
<rect x="287.59" y="457.86" width="7.79" height="7.79" fill="#ff8c00"/>
<rect x="294.18" y="457.86" width="7.79" height="7.79" fill="#ffc300"/>
<rect x="300.77" y="457.86" width="7.79" height="7.79" fill="#ffff00"/>
<rect x="307.36" y="457.86" width="7.79" height="7.79" fill="#ffff00"/>
<rect x="313.95" y="457.86" width="7.79" height="7.79" fill="#ffff00"/>
<rect x="320.54" y="457.86" width="7.79" height="7.79" fill="#91ec00"/>
<rect x="327.13" y="457.86" width="7.79" height="7.79" fill="#91ec00"/>
<rect x="333.72" y="457.86" width="6.59" height="7.79" fill="#91ec00"/>
<rect x="281.00" y="464.45" width="7.79" height="7.79" fill="#ffc300"/>
<rect x="287.59" y="464.45" width="7.79" height="7.79" fill="#ffc300"/>
<rect x="294.18" y="464.45" width="7.79" height="7.79" fill="#ffc300"/>
<rect x="300.77" y="464.45" width="7.79" height="7.79" fill="#ffff00"/>
<rect x="307.36" y="464.45" width="7.79" height="7.79" fill="#ffff00"/>
<rect x="313.95" y="464.45" width="7.79" height="7.79" fill="#ffff00"/>
<rect x="320.54" y="464.45" width="7.79" height="7.79" fill="#91ec00"/>
<rect x="327.13" y="464.45" width="7.79" height="7.79" fill="#91ec00"/>
<rect x="333.72" y="464.45" width="6.59" height="7.79" fill="#91ec00"/>
<rect x="281.00" y="471.04" width="7.79" height="7.79" fill="#ffc300"/>
<rect x="287.59" y="471.04" width="7.79" height="7.79" fill="#ffc300"/>
<rect x="294.18" y="471.04" width="7.79" height="7.79" fill="#ffc300"/>
<rect x="300.77" y="471.04" width="7.79" height="7.79" fill="#ffff00"/>
<rect x="307.36" y="471.04" width="7.79" height="7.79" fill="#ffff00"/>
<rect x="313.95" y="471.04" width="7.79" height="7.79" fill="#ffff00"/>
<rect x="320.54" y="471.04" width="7.79" height="7.79" fill="#91ec00"/>
<rect x="327.13" y="471.04" width="7.79" height="7.79" fill="#91ec00"/>
<rect x="333.72" y="471.04" width="6.59" height="7.79" fill="#91ec00"/>
<rect x="281.00" y="477.63" width="7.79" height="7.79" fill="#ff8c00"/>
<rect x="287.59" y="477.63" width="7.79" height="7.79" fill="#ffc300"/>
<rect x="294.18" y="477.63" width="7.79" height="7.79" fill="#ff8c00"/>
<rect x="300.77" y="477.63" width="7.79" height="7.79" fill="#ffff00"/>
<rect x="307.36" y="477.63" width="7.79" height="7.79" fill="#ffff00"/>
<rect x="313.95" y="477.63" width="7.79" height="7.79" fill="#ffff00"/>
<rect x="320.54" y="477.63" width="7.79" height="7.79" fill="#91ec00"/>
<rect x="327.13" y="477.63" width="7.79" height="7.79" fill="#91ec00"/>
<rect x="333.72" y="477.63" width="6.59" height="7.79" fill="#91ec00"/>
<rect x="281.00" y="484.22" width="7.79" height="7.79" fill="#ff8c00"/>
<rect x="287.59" y="484.22" width="7.79" height="7.79" fill="#ffc300"/>
<rect x="294.18" y="484.22" width="7.79" height="7.79" fill="#ff8c00"/>
<rect x="300.77" y="484.22" width="7.79" height="7.79" fill="#ffff00"/>
<rect x="307.36" y="484.22" width="7.79" height="7.79" fill="#ffff00"/>
<rect x="313.95" y="484.22" width="7.79" height="7.79" fill="#ffff00"/>
<rect x="320.54" y="484.22" width="7.79" height="7.79" fill="#eefb00"/>
<rect x="327.13" y="484.22" width="7.79" height="7.79" fill="#eefb00"/>
<rect x="333.72" y="484.22" width="6.59" height="7.79" fill="#91ec00"/>
<rect x="281.00" y="490.81" width="7.79" height="7.79" fill="#ff8c00"/>
<rect x="287.59" y="490.81" width="7.79" height="7.79" fill="#ff8c00"/>
<rect x="294.18" y="490.81" width="7.79" height="7.79" fill="#ff8c00"/>
<rect x="300.77" y="490.81" width="7.79" height="7.79" fill="#ffff00"/>
<rect x="307.36" y="490.81" width="7.79" height="7.79" fill="#ffc300"/>
<rect x="313.95" y="490.81" width="7.79" height="7.79" fill="#ffff00"/>
<rect x="320.54" y="490.81" width="7.79" height="7.79" fill="#91ec00"/>
<rect x="327.13" y="490.81" width="7.79" height="7.79" fill="#cdf500"/>
<rect x="333.72" y="490.81" width="6.59" height="7.79" fill="#91ec00"/>
<rect x="281.00" y="497.40" width="7.79" height="7.79" fill="#ff8c00"/>
<rect x="287.59" y="497.40" width="7.79" height="7.79" fill="#ff6e00"/>
<rect x="294.18" y="497.40" width="7.79" height="7.79" fill="#ff8c00"/>
<rect x="300.77" y="497.40" width="7.79" height="7.79" fill="#ffff00"/>
<rect x="307.36" y="497.40" width="7.79" height="7.79" fill="#ffc300"/>
<rect x="313.95" y="497.40" width="7.79" height="7.79" fill="#ffff00"/>
<rect x="320.54" y="497.40" width="7.79" height="7.79" fill="#cdf500"/>
<rect x="327.13" y="497.40" width="7.79" height="7.79" fill="#37c800"/>
<rect x="333.72" y="497.40" width="6.59" height="7.79" fill="#37c800"/>
<rect x="281.00" y="503.99" width="7.79" height="7.79" fill="#ffff00"/>
<rect x="287.59" y="503.99" width="7.79" height="7.79" fill="#ffff00"/>
<rect x="294.18" y="503.99" width="7.79" height="7.79" fill="#ffff00"/>
<rect x="300.77" y="503.99" width="7.79" height="7.79" fill="#ffff00"/>
<rect x="307.36" y="503.99" width="7.79" height="7.79" fill="#ffff00"/>
<rect x="313.95" y="503.99" width="7.79" height="7.79" fill="#ffff00"/>
<rect x="320.54" y="503.99" width="7.79" height="7.79" fill="#91ec00"/>
<rect x="327.13" y="503.99" width="7.79" height="7.79" fill="#91ec00"/>
<rect x="333.72" y="503.99" width="6.59" height="7.79" fill="#91ec00"/>
<rect x="281.00" y="510.58" width="7.79" height="7.79" fill="#ffff00"/>
<rect x="287.59" y="510.58" width="7.79" height="7.79" fill="#ffff00"/>
<rect x="294.18" y="510.58" width="7.79" height="7.79" fill="#ffff00"/>
<rect x="300.77" y="510.58" width="7.79" height="7.79" fill="#ffff00"/>
<rect x="307.36" y="510.58" width="7.79" height="7.79" fill="#ffff00"/>
<rect x="313.95" y="510.58" width="7.79" height="7.79" fill="#ffff00"/>
<rect x="320.54" y="510.58" width="7.79" height="7.79" fill="#91ec00"/>
<rect x="327.13" y="510.58" width="7.79" height="7.79" fill="#91ec00"/>
<rect x="333.72" y="510.58" width="6.59" height="7.79" fill="#91ec00"/>
<rect x="281.00" y="517.17" width="7.79" height="7.79" fill="#ffff00"/>
<rect x="287.59" y="517.17" width="7.79" height="7.79" fill="#ffff00"/>
<rect x="294.18" y="517.17" width="7.79" height="7.79" fill="#ffc300"/>
<rect x="300.77" y="517.17" width="7.79" height="7.79" fill="#ffff00"/>
<rect x="307.36" y="517.17" width="7.79" height="7.79" fill="#ffff00"/>
<rect x="313.95" y="517.17" width="7.79" height="7.79" fill="#ffff00"/>
<rect x="320.54" y="517.17" width="7.79" height="7.79" fill="#91ec00"/>
<rect x="327.13" y="517.17" width="7.79" height="7.79" fill="#91ec00"/>
<rect x="333.72" y="517.17" width="6.59" height="7.79" fill="#91ec00"/>
<rect x="281.00" y="523.76" width="7.79" height="7.79" fill="#ffc300"/>
<rect x="287.59" y="523.76" width="7.79" height="7.79" fill="#ffff00"/>
<rect x="294.18" y="523.76" width="7.79" height="7.79" fill="#ffc300"/>
<rect x="300.77" y="523.76" width="7.79" height="7.79" fill="#ffff00"/>
<rect x="307.36" y="523.76" width="7.79" height="7.79" fill="#ffff00"/>
<rect x="313.95" y="523.76" width="7.79" height="7.79" fill="#ffff00"/>
<rect x="320.54" y="523.76" width="7.79" height="7.79" fill="#91ec00"/>
<rect x="327.13" y="523.76" width="7.79" height="7.79" fill="#91ec00"/>
<rect x="333.72" y="523.76" width="6.59" height="7.79" fill="#37c800"/>
<rect x="281.00" y="530.35" width="7.79" height="7.79" fill="#ff6e00"/>
<rect x="287.59" y="530.35" width="7.79" height="7.79" fill="#ffff00"/>
<rect x="294.18" y="530.35" width="7.79" height="7.79" fill="#ff6e00"/>
<rect x="300.77" y="530.35" width="7.79" height="7.79" fill="#ffff00"/>
<rect x="307.36" y="530.35" width="7.79" height="7.79" fill="#ffff00"/>
<rect x="313.95" y="530.35" width="7.79" height="7.79" fill="#ffff00"/>
<rect x="320.54" y="530.35" width="7.79" height="7.79" fill="#91ec00"/>
<rect x="327.13" y="530.35" width="7.79" height="7.79" fill="#eefb00"/>
<rect x="333.72" y="530.35" width="6.59" height="7.79" fill="#eefb00"/>
<rect x="281.00" y="536.94" width="7.79" height="7.79" fill="#ffff00"/>
<rect x="287.59" y="536.94" width="7.79" height="7.79" fill="#ffff00"/>
<rect x="294.18" y="536.94" width="7.79" height="7.79" fill="#ffff00"/>
<rect x="300.77" y="536.94" width="7.79" height="7.79" fill="#ffff00"/>
<rect x="307.36" y="536.94" width="7.79" height="7.79" fill="#ffff00"/>
<rect x="313.95" y="536.94" width="7.79" height="7.79" fill="#ffff00"/>
<rect x="320.54" y="536.94" width="7.79" height="7.79" fill="#91ec00"/>
<rect x="327.13" y="536.94" width="7.79" height="7.79" fill="#91ec00"/>
<rect x="333.72" y="536.94" width="6.59" height="7.79" fill="#91ec00"/>
<rect x="281.00" y="543.53" width="7.79" height="7.79" fill="#ffff00"/>
<rect x="287.59" y="543.53" width="7.79" height="7.79" fill="#ffff00"/>
<rect x="294.18" y="543.53" width="7.79" height="7.79" fill="#ffff00"/>
<rect x="300.77" y="543.53" width="7.79" height="7.79" fill="#ffff00"/>
<rect x="307.36" y="543.53" width="7.79" height="7.79" fill="#ffc300"/>
<rect x="313.95" y="543.53" width="7.79" height="7.79" fill="#ffff00"/>
<rect x="320.54" y="543.53" width="7.79" height="7.79" fill="#91ec00"/>
<rect x="327.13" y="543.53" width="7.79" height="7.79" fill="#91ec00"/>
<rect x="333.72" y="543.53" width="6.59" height="7.79" fill="#91ec00"/>
<rect x="281.00" y="550.12" width="7.79" height="7.79" fill="#ffff00"/>
<rect x="287.59" y="550.12" width="7.79" height="7.79" fill="#ffff00"/>
<rect x="294.18" y="550.12" width="7.79" height="7.79" fill="#ffff00"/>
<rect x="300.77" y="550.12" width="7.79" height="7.79" fill="#ffff00"/>
<rect x="307.36" y="550.12" width="7.79" height="7.79" fill="#ffff00"/>
<rect x="313.95" y="550.12" width="7.79" height="7.79" fill="#ffff00"/>
<rect x="320.54" y="550.12" width="7.79" height="7.79" fill="#91ec00"/>
<rect x="327.13" y="550.12" width="7.79" height="7.79" fill="#64e200"/>
<rect x="333.72" y="550.12" width="6.59" height="7.79" fill="#91ec00"/>
<rect x="281.00" y="556.71" width="7.79" height="7.79" fill="#ffff00"/>
<rect x="287.59" y="556.71" width="7.79" height="7.79" fill="#ffff00"/>
<rect x="294.18" y="556.71" width="7.79" height="7.79" fill="#ffff00"/>
<rect x="300.77" y="556.71" width="7.79" height="7.79" fill="#ffff00"/>
<rect x="307.36" y="556.71" width="7.79" height="7.79" fill="#ffff00"/>
<rect x="313.95" y="556.71" width="7.79" height="7.79" fill="#ffff00"/>
<rect x="320.54" y="556.71" width="7.79" height="7.79" fill="#91ec00"/>
<rect x="327.13" y="556.71" width="7.79" height="7.79" fill="#91ec00"/>
<rect x="333.72" y="556.71" width="6.59" height="7.79" fill="#91ec00"/>
<rect x="281.00" y="563.30" width="7.79" height="7.79" fill="#ffff00"/>
<rect x="287.59" y="563.30" width="7.79" height="7.79" fill="#ffff00"/>
<rect x="294.18" y="563.30" width="7.79" height="7.79" fill="#ffff00"/>
<rect x="300.77" y="563.30" width="7.79" height="7.79" fill="#ffff00"/>
<rect x="307.36" y="563.30" width="7.79" height="7.79" fill="#ffff00"/>
<rect x="313.95" y="563.30" width="7.79" height="7.79" fill="#ffff00"/>
<rect x="320.54" y="563.30" width="7.79" height="7.79" fill="#91ec00"/>
<rect x="327.13" y="563.30" width="7.79" height="7.79" fill="#91ec00"/>
<rect x="333.72" y="563.30" width="6.59" height="7.79" fill="#91ec00"/>
<rect x="281.00" y="569.89" width="7.79" height="7.79" fill="#ffff00"/>
<rect x="287.59" y="569.89" width="7.79" height="7.79" fill="#ffff00"/>
<rect x="294.18" y="569.89" width="7.79" height="7.79" fill="#ffff00"/>
<rect x="300.77" y="569.89" width="7.79" height="7.79" fill="#ffff00"/>
<rect x="307.36" y="569.89" width="7.79" height="7.79" fill="#ffc300"/>
<rect x="313.95" y="569.89" width="7.79" height="7.79" fill="#ffff00"/>
<rect x="320.54" y="569.89" width="7.79" height="7.79" fill="#91ec00"/>
<rect x="327.13" y="569.89" width="7.79" height="7.79" fill="#91ec00"/>
<rect x="333.72" y="569.89" width="6.59" height="7.79" fill="#91ec00"/>
<rect x="281.00" y="576.48" width="7.79" height="7.79" fill="#ffff00"/>
<rect x="287.59" y="576.48" width="7.79" height="7.79" fill="#ffff00"/>
<rect x="294.18" y="576.48" width="7.79" height="7.79" fill="#ffff00"/>
<rect x="300.77" y="576.48" width="7.79" height="7.79" fill="#ff8c00"/>
<rect x="307.36" y="576.48" width="7.79" height="7.79" fill="#ff8c00"/>
<rect x="313.95" y="576.48" width="7.79" height="7.79" fill="#ffc300"/>
<rect x="320.54" y="576.48" width="7.79" height="7.79" fill="#91ec00"/>
<rect x="327.13" y="576.48" width="7.79" height="7.79" fill="#91ec00"/>
<rect x="333.72" y="576.48" width="6.59" height="7.79" fill="#91ec00"/>
<rect x="281.00" y="583.07" width="7.79" height="7.79" fill="#ffff00"/>
<rect x="287.59" y="583.07" width="7.79" height="7.79" fill="#ffff00"/>
<rect x="294.18" y="583.07" width="7.79" height="7.79" fill="#ffff00"/>
<rect x="300.77" y="583.07" width="7.79" height="7.79" fill="#ff8c00"/>
<rect x="307.36" y="583.07" width="7.79" height="7.79" fill="#ffc300"/>
<rect x="313.95" y="583.07" width="7.79" height="7.79" fill="#ff8c00"/>
<rect x="320.54" y="583.07" width="7.79" height="7.79" fill="#eefb00"/>
<rect x="327.13" y="583.07" width="7.79" height="7.79" fill="#cdf500"/>
<rect x="333.72" y="583.07" width="6.59" height="7.79" fill="#cdf500"/>
<rect x="281.00" y="589.66" width="7.79" height="7.79" fill="#ffff00"/>
<rect x="287.59" y="589.66" width="7.79" height="7.79" fill="#ffff00"/>
<rect x="294.18" y="589.66" width="7.79" height="7.79" fill="#ffff00"/>
<rect x="300.77" y="589.66" width="7.79" height="7.79" fill="#ffc300"/>
<rect x="307.36" y="589.66" width="7.79" height="7.79" fill="#ff8c00"/>
<rect x="313.95" y="589.66" width="7.79" height="7.79" fill="#ffc300"/>
<rect x="320.54" y="589.66" width="7.79" height="7.79" fill="#eefb00"/>
<rect x="327.13" y="589.66" width="7.79" height="7.79" fill="#cdf500"/>
<rect x="333.72" y="589.66" width="6.59" height="7.79" fill="#cdf500"/>
<rect x="281.00" y="596.25" width="7.79" height="7.79" fill="#ffff00"/>
<rect x="287.59" y="596.25" width="7.79" height="7.79" fill="#ffff00"/>
<rect x="294.18" y="596.25" width="7.79" height="7.79" fill="#ffff00"/>
<rect x="300.77" y="596.25" width="7.79" height="7.79" fill="#ffff00"/>
<rect x="307.36" y="596.25" width="7.79" height="7.79" fill="#ffc300"/>
<rect x="313.95" y="596.25" width="7.79" height="7.79" fill="#ffff00"/>
<rect x="320.54" y="596.25" width="7.79" height="7.79" fill="#91ec00"/>
<rect x="327.13" y="596.25" width="7.79" height="7.79" fill="#cdf500"/>
<rect x="333.72" y="596.25" width="6.59" height="7.79" fill="#cdf500"/>
<rect x="281.00" y="602.84" width="7.79" height="7.79" fill="#ffff00"/>
<rect x="287.59" y="602.84" width="7.79" height="7.79" fill="#ffff00"/>
<rect x="294.18" y="602.84" width="7.79" height="7.79" fill="#ffff00"/>
<rect x="300.77" y="602.84" width="7.79" height="7.79" fill="#ffff00"/>
<rect x="307.36" y="602.84" width="7.79" height="7.79" fill="#ffff00"/>
<rect x="313.95" y="602.84" width="7.79" height="7.79" fill="#ffff00"/>
<rect x="320.54" y="602.84" width="7.79" height="7.79" fill="#91ec00"/>
<rect x="327.13" y="602.84" width="7.79" height="7.79" fill="#91ec00"/>
<rect x="333.72" y="602.84" width="6.59" height="7.79" fill="#cdf500"/>
<rect x="281.00" y="609.43" width="7.79" height="7.79" fill="#ffff00"/>
<rect x="287.59" y="609.43" width="7.79" height="7.79" fill="#ffff00"/>
<rect x="294.18" y="609.43" width="7.79" height="7.79" fill="#ffff00"/>
<rect x="300.77" y="609.43" width="7.79" height="7.79" fill="#ffff00"/>
<rect x="307.36" y="609.43" width="7.79" height="7.79" fill="#ff8c00"/>
<rect x="313.95" y="609.43" width="7.79" height="7.79" fill="#ff8c00"/>
<rect x="320.54" y="609.43" width="7.79" height="7.79" fill="#91ec00"/>
<rect x="327.13" y="609.43" width="7.79" height="7.79" fill="#91ec00"/>
<rect x="333.72" y="609.43" width="6.59" height="7.79" fill="#cdf500"/>
<rect x="281.00" y="616.02" width="7.79" height="6.59" fill="#ff6e00"/>
<rect x="287.59" y="616.02" width="7.79" height="6.59" fill="#ff6e00"/>
<rect x="294.18" y="616.02" width="7.79" height="6.59" fill="#ff6e00"/>
<rect x="300.77" y="616.02" width="7.79" height="6.59" fill="#ffff00"/>
<rect x="307.36" y="616.02" width="7.79" height="6.59" fill="#91ec00"/>
<rect x="313.95" y="616.02" width="7.79" height="6.59" fill="#ffff00"/>
<rect x="320.54" y="616.02" width="7.79" height="6.59" fill="#ffff00"/>
<rect x="327.13" y="616.02" width="7.79" height="6.59" fill="#ffff00"/>
<rect x="333.72" y="616.02" width="6.59" height="6.59" fill="#ffff00"/>
<g transform="translate(253.0 0) scale(0.92 1)" font-size="5.2" font-weight="bold" fill="#000" stroke="#000" stroke-width="0.35"><text x="0" y="41.86">EPAS1</text>
<text x="0" y="48.45">ELOVL7</text>
<text x="0" y="55.04">FA2H</text>
<text x="0" y="61.63">LCK</text>
<text x="0" y="68.22">TFPI2</text>
<text x="0" y="74.81">ITGB8</text>
<text x="0" y="81.40">SPAG1</text>
<text x="0" y="87.99">MBP</text>
<text x="0" y="94.58">LOC7281..</text>
<text x="0" y="101.17">FGD6</text>
<text x="0" y="107.76">FGD6</text>
<text x="0" y="114.35">N/A</text>
<text x="0" y="120.94">CPVL</text>
<text x="0" y="127.53">PAPPA</text>
<text x="0" y="134.12">FAM49A</text>
<text x="0" y="140.71">ATP8A2</text>
<text x="0" y="147.30">GPR110</text>
<text x="0" y="153.89">ANKRD2</text>
<text x="0" y="160.48">EPSTI1</text>
<text x="0" y="167.07">ANKRD43</text>
<text x="0" y="173.66">KIT</text>
<text x="0" y="180.25">LAMP3</text>
<text x="0" y="186.84">CSPG5</text>
<text x="0" y="193.43">N/A</text>
<text x="0" y="200.02">LOC1532..</text>
<text x="0" y="206.61">OVOL2</text>
<text x="0" y="213.20">N/A</text>
<text x="0" y="219.79">SLC2A14..</text>
<text x="0" y="226.38">LBH</text>
<text x="0" y="232.97">C1orf178</text>
<text x="0" y="239.56">ALDH1A3</text>
<text x="0" y="246.15">RAB11FIP1</text>
<text x="0" y="252.74">FAM49A</text>
<text x="0" y="259.33">RAB11FIP1</text>
<text x="0" y="265.92">ERLIN2</text>
<text x="0" y="272.51">FZD5</text>
<text x="0" y="279.10">C10orf75</text>
<text x="0" y="285.69">HSPA1B</text>
<text x="0" y="292.28">PROC</text>
<text x="0" y="298.87">CGN</text>
<text x="0" y="305.46">ANXA3</text>
<text x="0" y="312.05">CCDC88A</text>
<text x="0" y="318.64">WDR400</text>
<text x="0" y="325.23">C15orf48</text>
<text x="0" y="331.82">N/A</text>
<text x="0" y="338.41">N/A</text>
<text x="0" y="345.00">PLAC8</text>
<text x="0" y="351.59">EPB41L5</text>
<text x="0" y="358.18">DOK7</text>
<text x="0" y="364.77">LOC5542..</text>
<text x="0" y="371.36">VTCN1</text>
<text x="0" y="377.95">N/A</text>
<text x="0" y="384.54">SLC25A45</text>
<text x="0" y="391.13">DICER1</text>
<text x="0" y="397.72">MARVELD..</text>
<text x="0" y="404.31">ZEB2</text>
<text x="0" y="410.90">FN1</text>
<text x="0" y="417.49">RHOJ</text>
<text x="0" y="424.08">HMOX1</text>
<text x="0" y="430.67">C14orf149</text>
<text x="0" y="437.26">LOX</text>
<text x="0" y="443.85">QKI</text>
<text x="0" y="450.44">QKI</text>
<text x="0" y="457.03">C1orf38</text>
<text x="0" y="463.62">TUBB4</text>
<text x="0" y="470.21">QKI</text>
<text x="0" y="476.80">TLL2</text>
<text x="0" y="483.39">OAF</text>
<text x="0" y="489.98">SEPT6</text>
<text x="0" y="496.57">NTRK2</text>
<text x="0" y="503.16">NTRK2</text>
<text x="0" y="509.75">PMAIP1</text>
<text x="0" y="516.34">ARHGAP19</text>
<text x="0" y="522.93">DIRAS2</text>
<text x="0" y="529.52">RIPPLY1</text>
<text x="0" y="536.11">QKI</text>
<text x="0" y="542.70">DZIP1</text>
<text x="0" y="549.29">JAZF1</text>
<text x="0" y="555.88">WDR91</text>
<text x="0" y="562.47">MARCKS</text>
<text x="0" y="569.06">N/A</text>
<text x="0" y="575.65">PPP1R1A</text>
<text x="0" y="582.24">RECK</text>
<text x="0" y="588.83">RAP2C</text>
<text x="0" y="595.42">HS3ST3B1</text>
<text x="0" y="602.01">SH3BP1</text>
<text x="0" y="608.60">HS3ST3B1</text>
<text x="0" y="615.19">N/A</text>
<text x="0" y="621.78">LRRC4B</text></g>
<line x1="275.8" y1="31.5" x2="295.4" y2="31.5" stroke="#222" stroke-width="1.1"/>
<line x1="300" y1="31.5" x2="320.3" y2="31.5" stroke="#222" stroke-width="1.1"/>
<line x1="325.4" y1="31.5" x2="345.4" y2="31.5" stroke="#222" stroke-width="1.1"/>
<text transform="translate(284.7,30.8) rotate(-55)" font-size="9" fill="#000" stroke="#000" stroke-width="0.2">mock</text>
<text transform="translate(308.8,30.8) rotate(-55)" font-size="9" fill="#000" stroke="#000" stroke-width="0.2">negative</text>
<text transform="translate(336,30.8) rotate(-55)" font-size="9" fill="#000" stroke="#000" stroke-width="0.2">pre-200c</text>
<text x="203.6" y="9.2" font-size="12.0" font-weight="bold" fill="#000">B</text>
<g><line x1="250.50" y1="39.40" x2="251.80" y2="39.40" stroke="#4a4a4a" stroke-width="0.95"/>
<line x1="250.50" y1="45.98" x2="251.80" y2="45.98" stroke="#4a4a4a" stroke-width="0.95"/>
<line x1="250.50" y1="52.58" x2="251.80" y2="52.58" stroke="#4a4a4a" stroke-width="0.95"/>
<line x1="250.50" y1="59.16" x2="251.80" y2="59.16" stroke="#4a4a4a" stroke-width="0.95"/>
<line x1="250.50" y1="65.75" x2="251.80" y2="65.75" stroke="#4a4a4a" stroke-width="0.95"/>
<line x1="250.50" y1="72.34" x2="251.80" y2="72.34" stroke="#4a4a4a" stroke-width="0.95"/>
<line x1="250.50" y1="78.94" x2="251.80" y2="78.94" stroke="#4a4a4a" stroke-width="0.95"/>
<line x1="250.50" y1="85.53" x2="251.80" y2="85.53" stroke="#4a4a4a" stroke-width="0.95"/>
<line x1="250.50" y1="92.12" x2="251.80" y2="92.12" stroke="#4a4a4a" stroke-width="0.95"/>
<line x1="250.50" y1="98.70" x2="251.80" y2="98.70" stroke="#4a4a4a" stroke-width="0.95"/>
<line x1="250.50" y1="105.29" x2="251.80" y2="105.29" stroke="#4a4a4a" stroke-width="0.95"/>
<line x1="250.50" y1="111.88" x2="251.80" y2="111.88" stroke="#4a4a4a" stroke-width="0.95"/>
<line x1="250.50" y1="118.47" x2="251.80" y2="118.47" stroke="#4a4a4a" stroke-width="0.95"/>
<line x1="250.50" y1="125.06" x2="251.80" y2="125.06" stroke="#4a4a4a" stroke-width="0.95"/>
<line x1="250.50" y1="131.66" x2="251.80" y2="131.66" stroke="#4a4a4a" stroke-width="0.95"/>
<line x1="250.50" y1="138.25" x2="251.80" y2="138.25" stroke="#4a4a4a" stroke-width="0.95"/>
<line x1="250.50" y1="144.84" x2="251.80" y2="144.84" stroke="#4a4a4a" stroke-width="0.95"/>
<line x1="250.50" y1="151.43" x2="251.80" y2="151.43" stroke="#4a4a4a" stroke-width="0.95"/>
<line x1="250.50" y1="158.01" x2="251.80" y2="158.01" stroke="#4a4a4a" stroke-width="0.95"/>
<line x1="250.50" y1="164.60" x2="251.80" y2="164.60" stroke="#4a4a4a" stroke-width="0.95"/>
<line x1="250.50" y1="171.19" x2="251.80" y2="171.19" stroke="#4a4a4a" stroke-width="0.95"/>
<line x1="250.50" y1="177.78" x2="251.80" y2="177.78" stroke="#4a4a4a" stroke-width="0.95"/>
<line x1="250.50" y1="184.38" x2="251.80" y2="184.38" stroke="#4a4a4a" stroke-width="0.95"/>
<line x1="250.50" y1="190.97" x2="251.80" y2="190.97" stroke="#4a4a4a" stroke-width="0.95"/>
<line x1="250.50" y1="197.55" x2="251.80" y2="197.55" stroke="#4a4a4a" stroke-width="0.95"/>
<line x1="250.50" y1="204.14" x2="251.80" y2="204.14" stroke="#4a4a4a" stroke-width="0.95"/>
<line x1="250.50" y1="210.73" x2="251.80" y2="210.73" stroke="#4a4a4a" stroke-width="0.95"/>
<line x1="250.50" y1="217.32" x2="251.80" y2="217.32" stroke="#4a4a4a" stroke-width="0.95"/>
<line x1="250.50" y1="223.91" x2="251.80" y2="223.91" stroke="#4a4a4a" stroke-width="0.95"/>
<line x1="250.50" y1="230.50" x2="251.80" y2="230.50" stroke="#4a4a4a" stroke-width="0.95"/>
<line x1="250.50" y1="39.40" x2="250.50" y2="230.50" stroke="#4a4a4a" stroke-width="0.95"/>
<line x1="249.50" y1="237.09" x2="251.80" y2="237.09" stroke="#4a4a4a" stroke-width="0.95"/>
<line x1="249.50" y1="243.69" x2="251.80" y2="243.69" stroke="#4a4a4a" stroke-width="0.95"/>
<line x1="249.50" y1="250.27" x2="251.80" y2="250.27" stroke="#4a4a4a" stroke-width="0.95"/>
<line x1="249.50" y1="256.87" x2="251.80" y2="256.87" stroke="#4a4a4a" stroke-width="0.95"/>
<line x1="249.50" y1="263.45" x2="251.80" y2="263.45" stroke="#4a4a4a" stroke-width="0.95"/>
<line x1="249.50" y1="270.05" x2="251.80" y2="270.05" stroke="#4a4a4a" stroke-width="0.95"/>
<line x1="249.50" y1="276.63" x2="251.80" y2="276.63" stroke="#4a4a4a" stroke-width="0.95"/>
<line x1="249.50" y1="237.09" x2="249.50" y2="276.63" stroke="#4a4a4a" stroke-width="0.95"/>
<line x1="248.50" y1="134.95" x2="250.50" y2="134.95" stroke="#4a4a4a" stroke-width="0.95"/>
<line x1="248.50" y1="256.87" x2="249.50" y2="256.87" stroke="#4a4a4a" stroke-width="0.95"/>
<line x1="248.50" y1="134.95" x2="248.50" y2="256.87" stroke="#4a4a4a" stroke-width="0.95"/>
<line x1="245.70" y1="195.91" x2="248.50" y2="195.91" stroke="#4a4a4a" stroke-width="0.95"/>
<line x1="245.70" y1="283.23" x2="251.80" y2="283.23" stroke="#4a4a4a" stroke-width="0.95"/>
<line x1="245.70" y1="195.91" x2="245.70" y2="283.23" stroke="#4a4a4a" stroke-width="0.95"/>
<line x1="249.80" y1="289.81" x2="251.80" y2="289.81" stroke="#4a4a4a" stroke-width="0.95"/>
<line x1="249.80" y1="296.41" x2="251.80" y2="296.41" stroke="#4a4a4a" stroke-width="0.95"/>
<line x1="249.80" y1="303.00" x2="251.80" y2="303.00" stroke="#4a4a4a" stroke-width="0.95"/>
<line x1="249.80" y1="309.59" x2="251.80" y2="309.59" stroke="#4a4a4a" stroke-width="0.95"/>
<line x1="249.80" y1="316.18" x2="251.80" y2="316.18" stroke="#4a4a4a" stroke-width="0.95"/>
<line x1="249.80" y1="322.77" x2="251.80" y2="322.77" stroke="#4a4a4a" stroke-width="0.95"/>
<line x1="249.80" y1="289.81" x2="249.80" y2="322.77" stroke="#4a4a4a" stroke-width="0.95"/>
<line x1="249.50" y1="329.36" x2="251.80" y2="329.36" stroke="#4a4a4a" stroke-width="0.95"/>
<line x1="249.50" y1="335.94" x2="251.80" y2="335.94" stroke="#4a4a4a" stroke-width="0.95"/>
<line x1="249.50" y1="342.54" x2="251.80" y2="342.54" stroke="#4a4a4a" stroke-width="0.95"/>
<line x1="249.50" y1="349.12" x2="251.80" y2="349.12" stroke="#4a4a4a" stroke-width="0.95"/>
<line x1="249.50" y1="355.72" x2="251.80" y2="355.72" stroke="#4a4a4a" stroke-width="0.95"/>
<line x1="249.50" y1="362.31" x2="251.80" y2="362.31" stroke="#4a4a4a" stroke-width="0.95"/>
<line x1="249.50" y1="368.90" x2="251.80" y2="368.90" stroke="#4a4a4a" stroke-width="0.95"/>
<line x1="249.50" y1="375.49" x2="251.80" y2="375.49" stroke="#4a4a4a" stroke-width="0.95"/>
<line x1="249.50" y1="382.07" x2="251.80" y2="382.07" stroke="#4a4a4a" stroke-width="0.95"/>
<line x1="249.50" y1="388.67" x2="251.80" y2="388.67" stroke="#4a4a4a" stroke-width="0.95"/>
<line x1="249.50" y1="329.36" x2="249.50" y2="388.67" stroke="#4a4a4a" stroke-width="0.95"/>
<line x1="248.30" y1="306.29" x2="249.80" y2="306.29" stroke="#4a4a4a" stroke-width="0.95"/>
<line x1="248.30" y1="359.01" x2="249.50" y2="359.01" stroke="#4a4a4a" stroke-width="0.95"/>
<line x1="248.30" y1="395.25" x2="251.80" y2="395.25" stroke="#4a4a4a" stroke-width="0.95"/>
<line x1="248.30" y1="306.29" x2="248.30" y2="395.25" stroke="#4a4a4a" stroke-width="0.95"/>
<line x1="246.30" y1="258.40" x2="245.70" y2="258.40" stroke="#4a4a4a" stroke-width="0.95"/>
<line x1="246.30" y1="383.00" x2="248.30" y2="383.00" stroke="#4a4a4a" stroke-width="0.95"/>
<line x1="246.30" y1="258.40" x2="246.30" y2="383.00" stroke="#4a4a4a" stroke-width="0.95"/>
<line x1="249.30" y1="401.85" x2="251.80" y2="401.85" stroke="#4a4a4a" stroke-width="0.95"/>
<line x1="249.30" y1="408.44" x2="251.80" y2="408.44" stroke="#4a4a4a" stroke-width="0.95"/>
<line x1="249.30" y1="415.03" x2="251.80" y2="415.03" stroke="#4a4a4a" stroke-width="0.95"/>
<line x1="249.30" y1="421.62" x2="251.80" y2="421.62" stroke="#4a4a4a" stroke-width="0.95"/>
<line x1="249.30" y1="428.21" x2="251.80" y2="428.21" stroke="#4a4a4a" stroke-width="0.95"/>
<line x1="249.30" y1="434.80" x2="251.80" y2="434.80" stroke="#4a4a4a" stroke-width="0.95"/>
<line x1="249.30" y1="401.85" x2="249.30" y2="434.80" stroke="#4a4a4a" stroke-width="0.95"/>
<line x1="248.70" y1="441.38" x2="251.80" y2="441.38" stroke="#4a4a4a" stroke-width="0.95"/>
<line x1="248.70" y1="447.98" x2="251.80" y2="447.98" stroke="#4a4a4a" stroke-width="0.95"/>
<line x1="248.70" y1="454.56" x2="251.80" y2="454.56" stroke="#4a4a4a" stroke-width="0.95"/>
<line x1="248.70" y1="461.16" x2="251.80" y2="461.16" stroke="#4a4a4a" stroke-width="0.95"/>
<line x1="248.70" y1="467.75" x2="251.80" y2="467.75" stroke="#4a4a4a" stroke-width="0.95"/>
<line x1="248.70" y1="474.34" x2="251.80" y2="474.34" stroke="#4a4a4a" stroke-width="0.95"/>
<line x1="248.70" y1="441.38" x2="248.70" y2="474.34" stroke="#4a4a4a" stroke-width="0.95"/>
<line x1="249.50" y1="480.93" x2="251.80" y2="480.93" stroke="#4a4a4a" stroke-width="0.95"/>
<line x1="249.50" y1="487.51" x2="251.80" y2="487.51" stroke="#4a4a4a" stroke-width="0.95"/>
<line x1="249.50" y1="494.11" x2="251.80" y2="494.11" stroke="#4a4a4a" stroke-width="0.95"/>
<line x1="249.50" y1="500.69" x2="251.80" y2="500.69" stroke="#4a4a4a" stroke-width="0.95"/>
<line x1="249.50" y1="480.93" x2="249.50" y2="500.69" stroke="#4a4a4a" stroke-width="0.95"/>
<line x1="249.60" y1="507.29" x2="251.80" y2="507.29" stroke="#4a4a4a" stroke-width="0.95"/>
<line x1="249.60" y1="513.88" x2="251.80" y2="513.88" stroke="#4a4a4a" stroke-width="0.95"/>
<line x1="249.60" y1="520.47" x2="251.80" y2="520.47" stroke="#4a4a4a" stroke-width="0.95"/>
<line x1="249.60" y1="527.05" x2="251.80" y2="527.05" stroke="#4a4a4a" stroke-width="0.95"/>
<line x1="249.60" y1="507.29" x2="249.60" y2="527.05" stroke="#4a4a4a" stroke-width="0.95"/>
<line x1="247.60" y1="418.32" x2="249.30" y2="418.32" stroke="#4a4a4a" stroke-width="0.95"/>
<line x1="247.60" y1="457.86" x2="248.70" y2="457.86" stroke="#4a4a4a" stroke-width="0.95"/>
<line x1="247.60" y1="490.81" x2="249.50" y2="490.81" stroke="#4a4a4a" stroke-width="0.95"/>
<line x1="247.60" y1="517.17" x2="249.60" y2="517.17" stroke="#4a4a4a" stroke-width="0.95"/>
<line x1="247.60" y1="418.32" x2="247.60" y2="517.17" stroke="#4a4a4a" stroke-width="0.95"/>
<line x1="245.70" y1="467.75" x2="247.60" y2="467.75" stroke="#4a4a4a" stroke-width="0.95"/>
<line x1="245.70" y1="533.64" x2="251.80" y2="533.64" stroke="#4a4a4a" stroke-width="0.95"/>
<line x1="245.70" y1="467.75" x2="245.70" y2="533.64" stroke="#4a4a4a" stroke-width="0.95"/>
<line x1="249.60" y1="540.24" x2="251.80" y2="540.24" stroke="#4a4a4a" stroke-width="0.95"/>
<line x1="249.60" y1="546.82" x2="251.80" y2="546.82" stroke="#4a4a4a" stroke-width="0.95"/>
<line x1="249.60" y1="553.41" x2="251.80" y2="553.41" stroke="#4a4a4a" stroke-width="0.95"/>
<line x1="249.60" y1="560.00" x2="251.80" y2="560.00" stroke="#4a4a4a" stroke-width="0.95"/>
<line x1="249.60" y1="566.60" x2="251.80" y2="566.60" stroke="#4a4a4a" stroke-width="0.95"/>
<line x1="249.60" y1="573.19" x2="251.80" y2="573.19" stroke="#4a4a4a" stroke-width="0.95"/>
<line x1="249.60" y1="579.77" x2="251.80" y2="579.77" stroke="#4a4a4a" stroke-width="0.95"/>
<line x1="249.60" y1="586.37" x2="251.80" y2="586.37" stroke="#4a4a4a" stroke-width="0.95"/>
<line x1="249.60" y1="592.96" x2="251.80" y2="592.96" stroke="#4a4a4a" stroke-width="0.95"/>
<line x1="249.60" y1="599.54" x2="251.80" y2="599.54" stroke="#4a4a4a" stroke-width="0.95"/>
<line x1="249.60" y1="606.13" x2="251.80" y2="606.13" stroke="#4a4a4a" stroke-width="0.95"/>
<line x1="249.60" y1="612.73" x2="251.80" y2="612.73" stroke="#4a4a4a" stroke-width="0.95"/>
<line x1="249.60" y1="540.24" x2="249.60" y2="612.73" stroke="#4a4a4a" stroke-width="0.95"/>
<line x1="242.60" y1="494.00" x2="245.70" y2="494.00" stroke="#4a4a4a" stroke-width="0.95"/>
<line x1="242.60" y1="580.40" x2="249.60" y2="580.40" stroke="#4a4a4a" stroke-width="0.95"/>
<line x1="242.60" y1="494.00" x2="242.60" y2="580.40" stroke="#4a4a4a" stroke-width="0.95"/>
<line x1="236.40" y1="537.20" x2="242.60" y2="537.20" stroke="#4a4a4a" stroke-width="0.95"/>
<line x1="236.40" y1="619.32" x2="251.80" y2="619.32" stroke="#4a4a4a" stroke-width="0.95"/>
<line x1="236.40" y1="537.20" x2="236.40" y2="619.32" stroke="#4a4a4a" stroke-width="0.95"/>
<line x1="205.40" y1="320.70" x2="246.30" y2="320.70" stroke="#4a4a4a" stroke-width="0.95"/>
<line x1="205.40" y1="578.26" x2="236.40" y2="578.26" stroke="#4a4a4a" stroke-width="0.95"/>
<line x1="205.40" y1="320.70" x2="205.40" y2="578.26" stroke="#4a4a4a" stroke-width="0.95"/></g>
<rect x="440.60" y="71.30" width="8.28" height="8.35" fill="#eefb00"/>
<rect x="447.68" y="71.30" width="8.28" height="8.35" fill="#ffff00"/>
<rect x="454.76" y="71.30" width="8.28" height="8.35" fill="#ffff00"/>
<rect x="461.84" y="71.30" width="8.28" height="8.35" fill="#eefb00"/>
<rect x="468.92" y="71.30" width="8.28" height="8.35" fill="#eefb00"/>
<rect x="476.00" y="71.30" width="8.28" height="8.35" fill="#eefb00"/>
<rect x="483.08" y="71.30" width="8.28" height="8.35" fill="#ff3200"/>
<rect x="490.16" y="71.30" width="8.28" height="8.35" fill="#ff5800"/>
<rect x="497.24" y="71.30" width="7.08" height="8.35" fill="#ff8c00"/>
<rect x="440.60" y="78.45" width="8.28" height="8.35" fill="#cdf500"/>
<rect x="447.68" y="78.45" width="8.28" height="8.35" fill="#eefb00"/>
<rect x="454.76" y="78.45" width="8.28" height="8.35" fill="#ffff00"/>
<rect x="461.84" y="78.45" width="8.28" height="8.35" fill="#eefb00"/>
<rect x="468.92" y="78.45" width="8.28" height="8.35" fill="#cdf500"/>
<rect x="476.00" y="78.45" width="8.28" height="8.35" fill="#eefb00"/>
<rect x="483.08" y="78.45" width="8.28" height="8.35" fill="#ff5800"/>
<rect x="490.16" y="78.45" width="8.28" height="8.35" fill="#ff8c00"/>
<rect x="497.24" y="78.45" width="7.08" height="8.35" fill="#ff8c00"/>
<rect x="440.60" y="85.60" width="8.28" height="8.35" fill="#eefb00"/>
<rect x="447.68" y="85.60" width="8.28" height="8.35" fill="#eefb00"/>
<rect x="454.76" y="85.60" width="8.28" height="8.35" fill="#ffff00"/>
<rect x="461.84" y="85.60" width="8.28" height="8.35" fill="#eefb00"/>
<rect x="468.92" y="85.60" width="8.28" height="8.35" fill="#eefb00"/>
<rect x="476.00" y="85.60" width="8.28" height="8.35" fill="#eefb00"/>
<rect x="483.08" y="85.60" width="8.28" height="8.35" fill="#ff3200"/>
<rect x="490.16" y="85.60" width="8.28" height="8.35" fill="#ff3200"/>
<rect x="497.24" y="85.60" width="7.08" height="8.35" fill="#ff3200"/>
<rect x="440.60" y="92.75" width="8.28" height="8.35" fill="#eefb00"/>
<rect x="447.68" y="92.75" width="8.28" height="8.35" fill="#ffff00"/>
<rect x="454.76" y="92.75" width="8.28" height="8.35" fill="#ffff00"/>
<rect x="461.84" y="92.75" width="8.28" height="8.35" fill="#91ec00"/>
<rect x="468.92" y="92.75" width="8.28" height="8.35" fill="#91ec00"/>
<rect x="476.00" y="92.75" width="8.28" height="8.35" fill="#91ec00"/>
<rect x="483.08" y="92.75" width="8.28" height="8.35" fill="#ff8c00"/>
<rect x="490.16" y="92.75" width="8.28" height="8.35" fill="#ffc300"/>
<rect x="497.24" y="92.75" width="7.08" height="8.35" fill="#ff8c00"/>
<rect x="440.60" y="99.90" width="8.28" height="8.35" fill="#eefb00"/>
<rect x="447.68" y="99.90" width="8.28" height="8.35" fill="#ffff00"/>
<rect x="454.76" y="99.90" width="8.28" height="8.35" fill="#ffff00"/>
<rect x="461.84" y="99.90" width="8.28" height="8.35" fill="#91ec00"/>
<rect x="468.92" y="99.90" width="8.28" height="8.35" fill="#91ec00"/>
<rect x="476.00" y="99.90" width="8.28" height="8.35" fill="#91ec00"/>
<rect x="483.08" y="99.90" width="8.28" height="8.35" fill="#ffc300"/>
<rect x="490.16" y="99.90" width="8.28" height="8.35" fill="#ffff00"/>
<rect x="497.24" y="99.90" width="7.08" height="8.35" fill="#ffc300"/>
<rect x="440.60" y="107.05" width="8.28" height="8.35" fill="#eefb00"/>
<rect x="447.68" y="107.05" width="8.28" height="8.35" fill="#ffff00"/>
<rect x="454.76" y="107.05" width="8.28" height="8.35" fill="#ffff00"/>
<rect x="461.84" y="107.05" width="8.28" height="8.35" fill="#eefb00"/>
<rect x="468.92" y="107.05" width="8.28" height="8.35" fill="#ffff00"/>
<rect x="476.00" y="107.05" width="8.28" height="8.35" fill="#ffff00"/>
<rect x="483.08" y="107.05" width="8.28" height="8.35" fill="#64e200"/>
<rect x="490.16" y="107.05" width="8.28" height="8.35" fill="#64e200"/>
<rect x="497.24" y="107.05" width="7.08" height="8.35" fill="#64e200"/>
<rect x="440.60" y="114.20" width="8.28" height="8.35" fill="#eefb00"/>
<rect x="447.68" y="114.20" width="8.28" height="8.35" fill="#ffff00"/>
<rect x="454.76" y="114.20" width="8.28" height="8.35" fill="#ffff00"/>
<rect x="461.84" y="114.20" width="8.28" height="8.35" fill="#eefb00"/>
<rect x="468.92" y="114.20" width="8.28" height="8.35" fill="#cdf500"/>
<rect x="476.00" y="114.20" width="8.28" height="8.35" fill="#ffff00"/>
<rect x="483.08" y="114.20" width="8.28" height="8.35" fill="#64e200"/>
<rect x="490.16" y="114.20" width="8.28" height="8.35" fill="#64e200"/>
<rect x="497.24" y="114.20" width="7.08" height="8.35" fill="#64e200"/>
<rect x="440.60" y="121.35" width="8.28" height="8.35" fill="#ffc300"/>
<rect x="447.68" y="121.35" width="8.28" height="8.35" fill="#ffc300"/>
<rect x="454.76" y="121.35" width="8.28" height="8.35" fill="#ffc300"/>
<rect x="461.84" y="121.35" width="8.28" height="8.35" fill="#ffff00"/>
<rect x="468.92" y="121.35" width="8.28" height="8.35" fill="#ffff00"/>
<rect x="476.00" y="121.35" width="8.28" height="8.35" fill="#ffff00"/>
<rect x="483.08" y="121.35" width="8.28" height="8.35" fill="#64e200"/>
<rect x="490.16" y="121.35" width="8.28" height="8.35" fill="#64e200"/>
<rect x="497.24" y="121.35" width="7.08" height="8.35" fill="#64e200"/>
<rect x="440.60" y="128.50" width="8.28" height="8.35" fill="#ffc300"/>
<rect x="447.68" y="128.50" width="8.28" height="8.35" fill="#ffc300"/>
<rect x="454.76" y="128.50" width="8.28" height="8.35" fill="#ffc300"/>
<rect x="461.84" y="128.50" width="8.28" height="8.35" fill="#ffff00"/>
<rect x="468.92" y="128.50" width="8.28" height="8.35" fill="#ffff00"/>
<rect x="476.00" y="128.50" width="8.28" height="8.35" fill="#ffff00"/>
<rect x="483.08" y="128.50" width="8.28" height="8.35" fill="#64e200"/>
<rect x="490.16" y="128.50" width="8.28" height="8.35" fill="#64e200"/>
<rect x="497.24" y="128.50" width="7.08" height="8.35" fill="#64e200"/>
<rect x="440.60" y="135.65" width="8.28" height="8.35" fill="#ffc300"/>
<rect x="447.68" y="135.65" width="8.28" height="8.35" fill="#ffc300"/>
<rect x="454.76" y="135.65" width="8.28" height="8.35" fill="#ffc300"/>
<rect x="461.84" y="135.65" width="8.28" height="8.35" fill="#ffff00"/>
<rect x="468.92" y="135.65" width="8.28" height="8.35" fill="#ffff00"/>
<rect x="476.00" y="135.65" width="8.28" height="8.35" fill="#ffff00"/>
<rect x="483.08" y="135.65" width="8.28" height="8.35" fill="#64e200"/>
<rect x="490.16" y="135.65" width="8.28" height="8.35" fill="#64e200"/>
<rect x="497.24" y="135.65" width="7.08" height="8.35" fill="#64e200"/>
<rect x="440.60" y="142.80" width="8.28" height="8.35" fill="#ffc300"/>
<rect x="447.68" y="142.80" width="8.28" height="8.35" fill="#ffc300"/>
<rect x="454.76" y="142.80" width="8.28" height="8.35" fill="#ff8c00"/>
<rect x="461.84" y="142.80" width="8.28" height="8.35" fill="#ffff00"/>
<rect x="468.92" y="142.80" width="8.28" height="8.35" fill="#ffff00"/>
<rect x="476.00" y="142.80" width="8.28" height="8.35" fill="#ffff00"/>
<rect x="483.08" y="142.80" width="8.28" height="8.35" fill="#64e200"/>
<rect x="490.16" y="142.80" width="8.28" height="8.35" fill="#64e200"/>
<rect x="497.24" y="142.80" width="7.08" height="8.35" fill="#64e200"/>
<rect x="440.60" y="149.95" width="8.28" height="8.35" fill="#ffc300"/>
<rect x="447.68" y="149.95" width="8.28" height="8.35" fill="#ff8c00"/>
<rect x="454.76" y="149.95" width="8.28" height="8.35" fill="#ff8c00"/>
<rect x="461.84" y="149.95" width="8.28" height="8.35" fill="#ffff00"/>
<rect x="468.92" y="149.95" width="8.28" height="8.35" fill="#ffff00"/>
<rect x="476.00" y="149.95" width="8.28" height="8.35" fill="#ffff00"/>
<rect x="483.08" y="149.95" width="8.28" height="8.35" fill="#41e000"/>
<rect x="490.16" y="149.95" width="8.28" height="8.35" fill="#41e000"/>
<rect x="497.24" y="149.95" width="7.08" height="8.35" fill="#41e000"/>
<rect x="440.60" y="157.10" width="8.28" height="8.35" fill="#ff8c00"/>
<rect x="447.68" y="157.10" width="8.28" height="8.35" fill="#ffc300"/>
<rect x="454.76" y="157.10" width="8.28" height="8.35" fill="#ff8c00"/>
<rect x="461.84" y="157.10" width="8.28" height="8.35" fill="#ffff00"/>
<rect x="468.92" y="157.10" width="8.28" height="8.35" fill="#ffff00"/>
<rect x="476.00" y="157.10" width="8.28" height="8.35" fill="#ffff00"/>
<rect x="483.08" y="157.10" width="8.28" height="8.35" fill="#41e000"/>
<rect x="490.16" y="157.10" width="8.28" height="8.35" fill="#41e000"/>
<rect x="497.24" y="157.10" width="7.08" height="8.35" fill="#41e000"/>
<rect x="440.60" y="164.25" width="8.28" height="8.35" fill="#ffc300"/>
<rect x="447.68" y="164.25" width="8.28" height="8.35" fill="#ffc300"/>
<rect x="454.76" y="164.25" width="8.28" height="8.35" fill="#ffc300"/>
<rect x="461.84" y="164.25" width="8.28" height="8.35" fill="#ffff00"/>
<rect x="468.92" y="164.25" width="8.28" height="8.35" fill="#ffff00"/>
<rect x="476.00" y="164.25" width="8.28" height="8.35" fill="#ffff00"/>
<rect x="483.08" y="164.25" width="8.28" height="8.35" fill="#91ec00"/>
<rect x="490.16" y="164.25" width="8.28" height="8.35" fill="#91ec00"/>
<rect x="497.24" y="164.25" width="7.08" height="8.35" fill="#91ec00"/>
<rect x="440.60" y="171.40" width="8.28" height="8.35" fill="#ffff00"/>
<rect x="447.68" y="171.40" width="8.28" height="8.35" fill="#ffff00"/>
<rect x="454.76" y="171.40" width="8.28" height="8.35" fill="#ffff00"/>
<rect x="461.84" y="171.40" width="8.28" height="8.35" fill="#ffff00"/>
<rect x="468.92" y="171.40" width="8.28" height="8.35" fill="#ffff00"/>
<rect x="476.00" y="171.40" width="8.28" height="8.35" fill="#ffff00"/>
<rect x="483.08" y="171.40" width="8.28" height="8.35" fill="#41e000"/>
<rect x="490.16" y="171.40" width="8.28" height="8.35" fill="#41e000"/>
<rect x="497.24" y="171.40" width="7.08" height="8.35" fill="#41e000"/>
<rect x="440.60" y="178.55" width="8.28" height="8.35" fill="#ffff00"/>
<rect x="447.68" y="178.55" width="8.28" height="8.35" fill="#ffff00"/>
<rect x="454.76" y="178.55" width="8.28" height="8.35" fill="#ffff00"/>
<rect x="461.84" y="178.55" width="8.28" height="8.35" fill="#ffff00"/>
<rect x="468.92" y="178.55" width="8.28" height="8.35" fill="#ffff00"/>
<rect x="476.00" y="178.55" width="8.28" height="8.35" fill="#ffc300"/>
<rect x="483.08" y="178.55" width="8.28" height="8.35" fill="#41e000"/>
<rect x="490.16" y="178.55" width="8.28" height="8.35" fill="#41e000"/>
<rect x="497.24" y="178.55" width="7.08" height="8.35" fill="#41e000"/>
<rect x="440.60" y="185.70" width="8.28" height="8.35" fill="#ffff00"/>
<rect x="447.68" y="185.70" width="8.28" height="8.35" fill="#ffff00"/>
<rect x="454.76" y="185.70" width="8.28" height="8.35" fill="#ffff00"/>
<rect x="461.84" y="185.70" width="8.28" height="8.35" fill="#ffff00"/>
<rect x="468.92" y="185.70" width="8.28" height="8.35" fill="#ffff00"/>
<rect x="476.00" y="185.70" width="8.28" height="8.35" fill="#ffff00"/>
<rect x="483.08" y="185.70" width="8.28" height="8.35" fill="#41e000"/>
<rect x="490.16" y="185.70" width="8.28" height="8.35" fill="#41e000"/>
<rect x="497.24" y="185.70" width="7.08" height="8.35" fill="#41e000"/>
<rect x="440.60" y="192.85" width="8.28" height="8.35" fill="#ffff00"/>
<rect x="447.68" y="192.85" width="8.28" height="8.35" fill="#ffff00"/>
<rect x="454.76" y="192.85" width="8.28" height="8.35" fill="#ffff00"/>
<rect x="461.84" y="192.85" width="8.28" height="8.35" fill="#ffc300"/>
<rect x="468.92" y="192.85" width="8.28" height="8.35" fill="#ffc300"/>
<rect x="476.00" y="192.85" width="8.28" height="8.35" fill="#ffff00"/>
<rect x="483.08" y="192.85" width="8.28" height="8.35" fill="#64e200"/>
<rect x="490.16" y="192.85" width="8.28" height="8.35" fill="#64e200"/>
<rect x="497.24" y="192.85" width="7.08" height="8.35" fill="#64e200"/>
<rect x="440.60" y="200.00" width="8.28" height="8.35" fill="#ffff00"/>
<rect x="447.68" y="200.00" width="8.28" height="8.35" fill="#ffff00"/>
<rect x="454.76" y="200.00" width="8.28" height="8.35" fill="#ffff00"/>
<rect x="461.84" y="200.00" width="8.28" height="8.35" fill="#ffff00"/>
<rect x="468.92" y="200.00" width="8.28" height="8.35" fill="#ffff00"/>
<rect x="476.00" y="200.00" width="8.28" height="8.35" fill="#ffff00"/>
<rect x="483.08" y="200.00" width="8.28" height="8.35" fill="#64e200"/>
<rect x="490.16" y="200.00" width="8.28" height="8.35" fill="#64e200"/>
<rect x="497.24" y="200.00" width="7.08" height="8.35" fill="#64e200"/>
<rect x="440.60" y="207.15" width="8.28" height="8.35" fill="#ffff00"/>
<rect x="447.68" y="207.15" width="8.28" height="8.35" fill="#ffff00"/>
<rect x="454.76" y="207.15" width="8.28" height="8.35" fill="#ffff00"/>
<rect x="461.84" y="207.15" width="8.28" height="8.35" fill="#ffff00"/>
<rect x="468.92" y="207.15" width="8.28" height="8.35" fill="#ffff00"/>
<rect x="476.00" y="207.15" width="8.28" height="8.35" fill="#ffff00"/>
<rect x="483.08" y="207.15" width="8.28" height="8.35" fill="#64e200"/>
<rect x="490.16" y="207.15" width="8.28" height="8.35" fill="#64e200"/>
<rect x="497.24" y="207.15" width="7.08" height="8.35" fill="#64e200"/>
<rect x="440.60" y="214.30" width="8.28" height="8.35" fill="#ffff00"/>
<rect x="447.68" y="214.30" width="8.28" height="8.35" fill="#ffff00"/>
<rect x="454.76" y="214.30" width="8.28" height="8.35" fill="#ffff00"/>
<rect x="461.84" y="214.30" width="8.28" height="8.35" fill="#eefb00"/>
<rect x="468.92" y="214.30" width="8.28" height="8.35" fill="#ffff00"/>
<rect x="476.00" y="214.30" width="8.28" height="8.35" fill="#ffff00"/>
<rect x="483.08" y="214.30" width="8.28" height="8.35" fill="#64e200"/>
<rect x="490.16" y="214.30" width="8.28" height="8.35" fill="#64e200"/>
<rect x="497.24" y="214.30" width="7.08" height="8.35" fill="#91ec00"/>
<rect x="440.60" y="221.45" width="8.28" height="8.35" fill="#ff8c00"/>
<rect x="447.68" y="221.45" width="8.28" height="8.35" fill="#ff8c00"/>
<rect x="454.76" y="221.45" width="8.28" height="8.35" fill="#ff8c00"/>
<rect x="461.84" y="221.45" width="8.28" height="8.35" fill="#ffc300"/>
<rect x="468.92" y="221.45" width="8.28" height="8.35" fill="#ff8c00"/>
<rect x="476.00" y="221.45" width="8.28" height="8.35" fill="#ffff00"/>
<rect x="483.08" y="221.45" width="8.28" height="8.35" fill="#91ec00"/>
<rect x="490.16" y="221.45" width="8.28" height="8.35" fill="#91ec00"/>
<rect x="497.24" y="221.45" width="7.08" height="8.35" fill="#91ec00"/>
<rect x="440.60" y="228.60" width="8.28" height="8.35" fill="#ff8c00"/>
<rect x="447.68" y="228.60" width="8.28" height="8.35" fill="#ff8c00"/>
<rect x="454.76" y="228.60" width="8.28" height="8.35" fill="#ff8c00"/>
<rect x="461.84" y="228.60" width="8.28" height="8.35" fill="#ffff00"/>
<rect x="468.92" y="228.60" width="8.28" height="8.35" fill="#ffc300"/>
<rect x="476.00" y="228.60" width="8.28" height="8.35" fill="#eefb00"/>
<rect x="483.08" y="228.60" width="8.28" height="8.35" fill="#cdf500"/>
<rect x="490.16" y="228.60" width="8.28" height="8.35" fill="#91ec00"/>
<rect x="497.24" y="228.60" width="7.08" height="8.35" fill="#91ec00"/>
<rect x="440.60" y="235.75" width="8.28" height="8.35" fill="#eefb00"/>
<rect x="447.68" y="235.75" width="8.28" height="8.35" fill="#ffff00"/>
<rect x="454.76" y="235.75" width="8.28" height="8.35" fill="#ffff00"/>
<rect x="461.84" y="235.75" width="8.28" height="8.35" fill="#ffc300"/>
<rect x="468.92" y="235.75" width="8.28" height="8.35" fill="#ffc300"/>
<rect x="476.00" y="235.75" width="8.28" height="8.35" fill="#ff8c00"/>
<rect x="483.08" y="235.75" width="8.28" height="8.35" fill="#91ec00"/>
<rect x="490.16" y="235.75" width="8.28" height="8.35" fill="#64e200"/>
<rect x="497.24" y="235.75" width="7.08" height="8.35" fill="#64e200"/>
<rect x="440.60" y="242.90" width="8.28" height="8.35" fill="#eefb00"/>
<rect x="447.68" y="242.90" width="8.28" height="8.35" fill="#ffff00"/>
<rect x="454.76" y="242.90" width="8.28" height="8.35" fill="#ffff00"/>
<rect x="461.84" y="242.90" width="8.28" height="8.35" fill="#ffc300"/>
<rect x="468.92" y="242.90" width="8.28" height="8.35" fill="#ffc300"/>
<rect x="476.00" y="242.90" width="8.28" height="8.35" fill="#ffc300"/>
<rect x="483.08" y="242.90" width="8.28" height="8.35" fill="#91ec00"/>
<rect x="490.16" y="242.90" width="8.28" height="8.35" fill="#64e200"/>
<rect x="497.24" y="242.90" width="7.08" height="8.35" fill="#64e200"/>
<rect x="440.60" y="250.05" width="8.28" height="8.35" fill="#ffc300"/>
<rect x="447.68" y="250.05" width="8.28" height="8.35" fill="#ff5800"/>
<rect x="454.76" y="250.05" width="8.28" height="8.35" fill="#ff5800"/>
<rect x="461.84" y="250.05" width="8.28" height="8.35" fill="#ffff00"/>
<rect x="468.92" y="250.05" width="8.28" height="8.35" fill="#eefb00"/>
<rect x="476.00" y="250.05" width="8.28" height="8.35" fill="#ffc300"/>
<rect x="483.08" y="250.05" width="8.28" height="8.35" fill="#cdf500"/>
<rect x="490.16" y="250.05" width="8.28" height="8.35" fill="#cdf500"/>
<rect x="497.24" y="250.05" width="7.08" height="8.35" fill="#cdf500"/>
<rect x="440.60" y="257.20" width="8.28" height="8.35" fill="#ffc300"/>
<rect x="447.68" y="257.20" width="8.28" height="8.35" fill="#ffc300"/>
<rect x="454.76" y="257.20" width="8.28" height="8.35" fill="#ffc300"/>
<rect x="461.84" y="257.20" width="8.28" height="8.35" fill="#ffff00"/>
<rect x="468.92" y="257.20" width="8.28" height="8.35" fill="#eefb00"/>
<rect x="476.00" y="257.20" width="8.28" height="8.35" fill="#ff8c00"/>
<rect x="483.08" y="257.20" width="8.28" height="8.35" fill="#91ec00"/>
<rect x="490.16" y="257.20" width="8.28" height="8.35" fill="#cdf500"/>
<rect x="497.24" y="257.20" width="7.08" height="8.35" fill="#cdf500"/>
<rect x="440.60" y="264.35" width="8.28" height="8.35" fill="#ff8c00"/>
<rect x="447.68" y="264.35" width="8.28" height="8.35" fill="#ff8c00"/>
<rect x="454.76" y="264.35" width="8.28" height="8.35" fill="#ffc300"/>
<rect x="461.84" y="264.35" width="8.28" height="8.35" fill="#ffff00"/>
<rect x="468.92" y="264.35" width="8.28" height="8.35" fill="#ffff00"/>
<rect x="476.00" y="264.35" width="8.28" height="8.35" fill="#ffff00"/>
<rect x="483.08" y="264.35" width="8.28" height="8.35" fill="#eefb00"/>
<rect x="490.16" y="264.35" width="8.28" height="8.35" fill="#cdf500"/>
<rect x="497.24" y="264.35" width="7.08" height="8.35" fill="#cdf500"/>
<rect x="440.60" y="271.50" width="8.28" height="8.35" fill="#ff8c00"/>
<rect x="447.68" y="271.50" width="8.28" height="8.35" fill="#ff5800"/>
<rect x="454.76" y="271.50" width="8.28" height="8.35" fill="#ffc300"/>
<rect x="461.84" y="271.50" width="8.28" height="8.35" fill="#ffff00"/>
<rect x="468.92" y="271.50" width="8.28" height="8.35" fill="#ffff00"/>
<rect x="476.00" y="271.50" width="8.28" height="8.35" fill="#ffff00"/>
<rect x="483.08" y="271.50" width="8.28" height="8.35" fill="#cdf500"/>
<rect x="490.16" y="271.50" width="8.28" height="8.35" fill="#cdf500"/>
<rect x="497.24" y="271.50" width="7.08" height="8.35" fill="#cdf500"/>
<rect x="440.60" y="278.65" width="8.28" height="8.35" fill="#ffc300"/>
<rect x="447.68" y="278.65" width="8.28" height="8.35" fill="#ff8c00"/>
<rect x="454.76" y="278.65" width="8.28" height="8.35" fill="#ffc300"/>
<rect x="461.84" y="278.65" width="8.28" height="8.35" fill="#ffff00"/>
<rect x="468.92" y="278.65" width="8.28" height="8.35" fill="#ffff00"/>
<rect x="476.00" y="278.65" width="8.28" height="8.35" fill="#ffff00"/>
<rect x="483.08" y="278.65" width="8.28" height="8.35" fill="#91ec00"/>
<rect x="490.16" y="278.65" width="8.28" height="8.35" fill="#91ec00"/>
<rect x="497.24" y="278.65" width="7.08" height="8.35" fill="#cdf500"/>
<rect x="440.60" y="285.80" width="8.28" height="7.15" fill="#ff5800"/>
<rect x="447.68" y="285.80" width="8.28" height="7.15" fill="#ffc300"/>
<rect x="454.76" y="285.80" width="8.28" height="7.15" fill="#ff5800"/>
<rect x="461.84" y="285.80" width="8.28" height="7.15" fill="#ffff00"/>
<rect x="468.92" y="285.80" width="8.28" height="7.15" fill="#ffff00"/>
<rect x="476.00" y="285.80" width="8.28" height="7.15" fill="#ffff00"/>
<rect x="483.08" y="285.80" width="8.28" height="7.15" fill="#91ec00"/>
<rect x="490.16" y="285.80" width="8.28" height="7.15" fill="#cdf500"/>
<rect x="497.24" y="285.80" width="7.08" height="7.15" fill="#eefb00"/>
<g transform="translate(400.8 0) scale(0.92 1)" font-size="5.4" font-weight="bold" fill="#000" stroke="#000" stroke-width="0.35"><text x="0" y="76.91">ANKRD2</text>
<text x="0" y="84.06">ANKRD43</text>
<text x="0" y="91.21">ST6GALNAC5</text>
<text x="0" y="98.36">RAB11FIP1</text>
<text x="0" y="105.51">RAB11FIP1</text>
<text x="0" y="112.66">AP1S2</text>
<text x="0" y="119.81">ARHGAP19</text>
<text x="0" y="126.96">FN1</text>
<text x="0" y="134.11">FN1</text>
<text x="0" y="141.26">FN1</text>
<text x="0" y="148.41">FN1</text>
<text x="0" y="155.56">QKI</text>
<text x="0" y="162.71">QKI</text>
<text x="0" y="169.86">QKI</text>
<text x="0" y="177.01">AP1S2</text>
<text x="0" y="184.16">ZEB1</text>
<text x="0" y="191.31">ZEB1</text>
<text x="0" y="198.46">B3GNT1</text>
<text x="0" y="205.61">MARCKS</text>
<text x="0" y="212.76">SEC23A</text>
<text x="0" y="219.91">LEPR</text>
<text x="0" y="227.06">NTRK2</text>
<text x="0" y="234.21">NTRK2</text>
<text x="0" y="241.36">RECK</text>
<text x="0" y="248.51">SEC23A</text>
<text x="0" y="255.66">FN1</text>
<text x="0" y="262.81">ZEB2</text>
<text x="0" y="269.96">QKI</text>
<text x="0" y="277.11">QKI</text>
<text x="0" y="284.26">TUBB4</text>
<text x="0" y="291.41">QKI</text></g>
<line x1="439" y1="66.4" x2="459" y2="66.4" stroke="#222" stroke-width="1.1"/>
<line x1="463.8" y1="66.4" x2="484" y2="66.4" stroke="#222" stroke-width="1.1"/>
<line x1="488.8" y1="66.4" x2="508.4" y2="66.4" stroke="#222" stroke-width="1.1"/>
<text transform="translate(448.1,65.7) rotate(-55)" font-size="9" fill="#000" stroke="#000" stroke-width="0.2">mock</text>
<text transform="translate(472.1,65.7) rotate(-55)" font-size="9" fill="#000" stroke="#000" stroke-width="0.2">negative</text>
<text transform="translate(499.9,65.9) rotate(-55)" font-size="9" fill="#000" stroke="#000" stroke-width="0.2">pre-200c</text>
<text x="380.6" y="42.5" font-size="12.0" font-weight="bold" fill="#000">C</text>
<g><line x1="397.50" y1="74.88" x2="399.60" y2="74.88" stroke="#4a4a4a" stroke-width="0.95"/>
<line x1="397.50" y1="82.03" x2="399.60" y2="82.03" stroke="#4a4a4a" stroke-width="0.95"/>
<line x1="397.50" y1="74.88" x2="397.50" y2="82.03" stroke="#4a4a4a" stroke-width="0.95"/>
<line x1="396.80" y1="78.45" x2="397.50" y2="78.45" stroke="#4a4a4a" stroke-width="0.95"/>
<line x1="396.80" y1="89.17" x2="399.60" y2="89.17" stroke="#4a4a4a" stroke-width="0.95"/>
<line x1="396.80" y1="78.45" x2="396.80" y2="89.17" stroke="#4a4a4a" stroke-width="0.95"/>
<line x1="396.80" y1="96.33" x2="399.60" y2="96.33" stroke="#4a4a4a" stroke-width="0.95"/>
<line x1="396.80" y1="103.47" x2="399.60" y2="103.47" stroke="#4a4a4a" stroke-width="0.95"/>
<line x1="396.80" y1="96.33" x2="396.80" y2="103.47" stroke="#4a4a4a" stroke-width="0.95"/>
<line x1="392.30" y1="83.81" x2="396.80" y2="83.81" stroke="#4a4a4a" stroke-width="0.95"/>
<line x1="392.30" y1="99.90" x2="396.80" y2="99.90" stroke="#4a4a4a" stroke-width="0.95"/>
<line x1="392.30" y1="83.81" x2="392.30" y2="99.90" stroke="#4a4a4a" stroke-width="0.95"/>
<line x1="382.50" y1="91.86" x2="392.30" y2="91.86" stroke="#4a4a4a" stroke-width="0.95"/>
<line x1="397.70" y1="110.62" x2="399.60" y2="110.62" stroke="#4a4a4a" stroke-width="0.95"/>
<line x1="397.70" y1="117.78" x2="399.60" y2="117.78" stroke="#4a4a4a" stroke-width="0.95"/>
<line x1="397.70" y1="124.92" x2="399.60" y2="124.92" stroke="#4a4a4a" stroke-width="0.95"/>
<line x1="397.70" y1="132.07" x2="399.60" y2="132.07" stroke="#4a4a4a" stroke-width="0.95"/>
<line x1="397.70" y1="139.22" x2="399.60" y2="139.22" stroke="#4a4a4a" stroke-width="0.95"/>
<line x1="397.70" y1="146.38" x2="399.60" y2="146.38" stroke="#4a4a4a" stroke-width="0.95"/>
<line x1="397.70" y1="153.53" x2="399.60" y2="153.53" stroke="#4a4a4a" stroke-width="0.95"/>
<line x1="397.70" y1="160.68" x2="399.60" y2="160.68" stroke="#4a4a4a" stroke-width="0.95"/>
<line x1="397.70" y1="167.82" x2="399.60" y2="167.82" stroke="#4a4a4a" stroke-width="0.95"/>
<line x1="397.70" y1="174.98" x2="399.60" y2="174.98" stroke="#4a4a4a" stroke-width="0.95"/>
<line x1="397.70" y1="182.12" x2="399.60" y2="182.12" stroke="#4a4a4a" stroke-width="0.95"/>
<line x1="397.70" y1="189.28" x2="399.60" y2="189.28" stroke="#4a4a4a" stroke-width="0.95"/>
<line x1="397.70" y1="196.43" x2="399.60" y2="196.43" stroke="#4a4a4a" stroke-width="0.95"/>
<line x1="397.70" y1="203.57" x2="399.60" y2="203.57" stroke="#4a4a4a" stroke-width="0.95"/>
<line x1="397.70" y1="210.73" x2="399.60" y2="210.73" stroke="#4a4a4a" stroke-width="0.95"/>
<line x1="397.70" y1="217.88" x2="399.60" y2="217.88" stroke="#4a4a4a" stroke-width="0.95"/>
<line x1="397.70" y1="110.62" x2="397.70" y2="217.88" stroke="#4a4a4a" stroke-width="0.95"/>
<line x1="397.00" y1="225.02" x2="399.60" y2="225.02" stroke="#4a4a4a" stroke-width="0.95"/>
<line x1="397.00" y1="232.18" x2="399.60" y2="232.18" stroke="#4a4a4a" stroke-width="0.95"/>
<line x1="397.00" y1="225.02" x2="397.00" y2="232.18" stroke="#4a4a4a" stroke-width="0.95"/>
<line x1="397.90" y1="239.32" x2="399.60" y2="239.32" stroke="#4a4a4a" stroke-width="0.95"/>
<line x1="397.90" y1="246.48" x2="399.60" y2="246.48" stroke="#4a4a4a" stroke-width="0.95"/>
<line x1="397.90" y1="239.32" x2="397.90" y2="246.48" stroke="#4a4a4a" stroke-width="0.95"/>
<line x1="396.00" y1="228.60" x2="397.00" y2="228.60" stroke="#4a4a4a" stroke-width="0.95"/>
<line x1="396.00" y1="242.90" x2="397.90" y2="242.90" stroke="#4a4a4a" stroke-width="0.95"/>
<line x1="396.00" y1="228.60" x2="396.00" y2="242.90" stroke="#4a4a4a" stroke-width="0.95"/>
<line x1="394.50" y1="164.25" x2="397.70" y2="164.25" stroke="#4a4a4a" stroke-width="0.95"/>
<line x1="394.50" y1="235.75" x2="396.00" y2="235.75" stroke="#4a4a4a" stroke-width="0.95"/>
<line x1="394.50" y1="164.25" x2="394.50" y2="235.75" stroke="#4a4a4a" stroke-width="0.95"/>
<line x1="396.50" y1="253.62" x2="399.60" y2="253.62" stroke="#4a4a4a" stroke-width="0.95"/>
<line x1="396.50" y1="260.78" x2="399.60" y2="260.78" stroke="#4a4a4a" stroke-width="0.95"/>
<line x1="396.50" y1="253.62" x2="396.50" y2="260.78" stroke="#4a4a4a" stroke-width="0.95"/>
<line x1="397.00" y1="267.93" x2="399.60" y2="267.93" stroke="#4a4a4a" stroke-width="0.95"/>
<line x1="397.00" y1="275.07" x2="399.60" y2="275.07" stroke="#4a4a4a" stroke-width="0.95"/>
<line x1="397.00" y1="267.93" x2="397.00" y2="275.07" stroke="#4a4a4a" stroke-width="0.95"/>
<line x1="396.00" y1="271.50" x2="397.00" y2="271.50" stroke="#4a4a4a" stroke-width="0.95"/>
<line x1="396.00" y1="282.23" x2="399.60" y2="282.23" stroke="#4a4a4a" stroke-width="0.95"/>
<line x1="396.00" y1="271.50" x2="396.00" y2="282.23" stroke="#4a4a4a" stroke-width="0.95"/>
<line x1="394.00" y1="257.20" x2="396.50" y2="257.20" stroke="#4a4a4a" stroke-width="0.95"/>
<line x1="394.00" y1="276.86" x2="396.00" y2="276.86" stroke="#4a4a4a" stroke-width="0.95"/>
<line x1="394.00" y1="257.20" x2="394.00" y2="276.86" stroke="#4a4a4a" stroke-width="0.95"/>
<line x1="392.30" y1="200.00" x2="394.50" y2="200.00" stroke="#4a4a4a" stroke-width="0.95"/>
<line x1="392.30" y1="267.03" x2="394.00" y2="267.03" stroke="#4a4a4a" stroke-width="0.95"/>
<line x1="392.30" y1="200.00" x2="392.30" y2="267.03" stroke="#4a4a4a" stroke-width="0.95"/>
<line x1="388.90" y1="243.40" x2="392.30" y2="243.40" stroke="#4a4a4a" stroke-width="0.95"/>
<line x1="388.90" y1="289.38" x2="399.60" y2="289.38" stroke="#4a4a4a" stroke-width="0.95"/>
<line x1="388.90" y1="243.40" x2="388.90" y2="289.38" stroke="#4a4a4a" stroke-width="0.95"/>
<line x1="382.60" y1="266.39" x2="388.90" y2="266.39" stroke="#4a4a4a" stroke-width="0.95"/></g>
<rect x="441.80" y="367.60" width="8.39" height="8.31" fill="#ffff00"/>
<rect x="448.99" y="367.60" width="8.39" height="8.31" fill="#ffff00"/>
<rect x="456.18" y="367.60" width="8.39" height="8.31" fill="#ffff00"/>
<rect x="463.37" y="367.60" width="8.39" height="8.31" fill="#ffff00"/>
<rect x="470.56" y="367.60" width="8.39" height="8.31" fill="#eefb00"/>
<rect x="477.75" y="367.60" width="8.39" height="8.31" fill="#ffff00"/>
<rect x="484.94" y="367.60" width="8.39" height="8.31" fill="#91ec00"/>
<rect x="492.13" y="367.60" width="8.39" height="8.31" fill="#91ec00"/>
<rect x="499.32" y="367.60" width="7.19" height="8.31" fill="#91ec00"/>
<rect x="441.80" y="374.71" width="8.39" height="8.31" fill="#ffc300"/>
<rect x="448.99" y="374.71" width="8.39" height="8.31" fill="#ffc300"/>
<rect x="456.18" y="374.71" width="8.39" height="8.31" fill="#ffc300"/>
<rect x="463.37" y="374.71" width="8.39" height="8.31" fill="#ffff00"/>
<rect x="470.56" y="374.71" width="8.39" height="8.31" fill="#ffff00"/>
<rect x="477.75" y="374.71" width="8.39" height="8.31" fill="#ffff00"/>
<rect x="484.94" y="374.71" width="8.39" height="8.31" fill="#64e200"/>
<rect x="492.13" y="374.71" width="8.39" height="8.31" fill="#64e200"/>
<rect x="499.32" y="374.71" width="7.19" height="8.31" fill="#64e200"/>
<rect x="441.80" y="381.82" width="8.39" height="8.31" fill="#ffc300"/>
<rect x="448.99" y="381.82" width="8.39" height="8.31" fill="#ffc300"/>
<rect x="456.18" y="381.82" width="8.39" height="8.31" fill="#ffc300"/>
<rect x="463.37" y="381.82" width="8.39" height="8.31" fill="#ffff00"/>
<rect x="470.56" y="381.82" width="8.39" height="8.31" fill="#ffff00"/>
<rect x="477.75" y="381.82" width="8.39" height="8.31" fill="#ffff00"/>
<rect x="484.94" y="381.82" width="8.39" height="8.31" fill="#64e200"/>
<rect x="492.13" y="381.82" width="8.39" height="8.31" fill="#64e200"/>
<rect x="499.32" y="381.82" width="7.19" height="8.31" fill="#64e200"/>
<rect x="441.80" y="388.93" width="8.39" height="8.31" fill="#ffc300"/>
<rect x="448.99" y="388.93" width="8.39" height="8.31" fill="#ffc300"/>
<rect x="456.18" y="388.93" width="8.39" height="8.31" fill="#ffc300"/>
<rect x="463.37" y="388.93" width="8.39" height="8.31" fill="#ffff00"/>
<rect x="470.56" y="388.93" width="8.39" height="8.31" fill="#ffff00"/>
<rect x="477.75" y="388.93" width="8.39" height="8.31" fill="#ffff00"/>
<rect x="484.94" y="388.93" width="8.39" height="8.31" fill="#64e200"/>
<rect x="492.13" y="388.93" width="8.39" height="8.31" fill="#64e200"/>
<rect x="499.32" y="388.93" width="7.19" height="8.31" fill="#64e200"/>
<rect x="441.80" y="396.04" width="8.39" height="8.31" fill="#ffc300"/>
<rect x="448.99" y="396.04" width="8.39" height="8.31" fill="#ffc300"/>
<rect x="456.18" y="396.04" width="8.39" height="8.31" fill="#ffc300"/>
<rect x="463.37" y="396.04" width="8.39" height="8.31" fill="#ffff00"/>
<rect x="470.56" y="396.04" width="8.39" height="8.31" fill="#ffff00"/>
<rect x="477.75" y="396.04" width="8.39" height="8.31" fill="#ffff00"/>
<rect x="484.94" y="396.04" width="8.39" height="8.31" fill="#64e200"/>
<rect x="492.13" y="396.04" width="8.39" height="8.31" fill="#64e200"/>
<rect x="499.32" y="396.04" width="7.19" height="8.31" fill="#64e200"/>
<rect x="441.80" y="403.15" width="8.39" height="8.31" fill="#ffff00"/>
<rect x="448.99" y="403.15" width="8.39" height="8.31" fill="#ffff00"/>
<rect x="456.18" y="403.15" width="8.39" height="8.31" fill="#ffc300"/>
<rect x="463.37" y="403.15" width="8.39" height="8.31" fill="#ffff00"/>
<rect x="470.56" y="403.15" width="8.39" height="8.31" fill="#ffff00"/>
<rect x="477.75" y="403.15" width="8.39" height="8.31" fill="#ffff00"/>
<rect x="484.94" y="403.15" width="8.39" height="8.31" fill="#91ec00"/>
<rect x="492.13" y="403.15" width="8.39" height="8.31" fill="#91ec00"/>
<rect x="499.32" y="403.15" width="7.19" height="8.31" fill="#91ec00"/>
<rect x="441.80" y="410.26" width="8.39" height="8.31" fill="#ffff00"/>
<rect x="448.99" y="410.26" width="8.39" height="8.31" fill="#ffff00"/>
<rect x="456.18" y="410.26" width="8.39" height="8.31" fill="#ffff00"/>
<rect x="463.37" y="410.26" width="8.39" height="8.31" fill="#ffff00"/>
<rect x="470.56" y="410.26" width="8.39" height="8.31" fill="#ffff00"/>
<rect x="477.75" y="410.26" width="8.39" height="8.31" fill="#ffc300"/>
<rect x="484.94" y="410.26" width="8.39" height="8.31" fill="#41e000"/>
<rect x="492.13" y="410.26" width="8.39" height="8.31" fill="#41e000"/>
<rect x="499.32" y="410.26" width="7.19" height="8.31" fill="#41e000"/>
<rect x="441.80" y="417.37" width="8.39" height="8.31" fill="#ffff00"/>
<rect x="448.99" y="417.37" width="8.39" height="8.31" fill="#ffff00"/>
<rect x="456.18" y="417.37" width="8.39" height="8.31" fill="#ffff00"/>
<rect x="463.37" y="417.37" width="8.39" height="8.31" fill="#ffff00"/>
<rect x="470.56" y="417.37" width="8.39" height="8.31" fill="#ffff00"/>
<rect x="477.75" y="417.37" width="8.39" height="8.31" fill="#ffc300"/>
<rect x="484.94" y="417.37" width="8.39" height="8.31" fill="#41e000"/>
<rect x="492.13" y="417.37" width="8.39" height="8.31" fill="#41e000"/>
<rect x="499.32" y="417.37" width="7.19" height="8.31" fill="#41e000"/>
<rect x="441.80" y="424.48" width="8.39" height="8.31" fill="#ffff00"/>
<rect x="448.99" y="424.48" width="8.39" height="8.31" fill="#ffff00"/>
<rect x="456.18" y="424.48" width="8.39" height="8.31" fill="#ffff00"/>
<rect x="463.37" y="424.48" width="8.39" height="8.31" fill="#ffff00"/>
<rect x="470.56" y="424.48" width="8.39" height="8.31" fill="#ffff00"/>
<rect x="477.75" y="424.48" width="8.39" height="8.31" fill="#ffff00"/>
<rect x="484.94" y="424.48" width="8.39" height="8.31" fill="#41e000"/>
<rect x="492.13" y="424.48" width="8.39" height="8.31" fill="#41e000"/>
<rect x="499.32" y="424.48" width="7.19" height="8.31" fill="#41e000"/>
<rect x="441.80" y="431.59" width="8.39" height="8.31" fill="#ff8c00"/>
<rect x="448.99" y="431.59" width="8.39" height="8.31" fill="#ff8c00"/>
<rect x="456.18" y="431.59" width="8.39" height="8.31" fill="#ff8c00"/>
<rect x="463.37" y="431.59" width="8.39" height="8.31" fill="#ffff00"/>
<rect x="470.56" y="431.59" width="8.39" height="8.31" fill="#ffc300"/>
<rect x="477.75" y="431.59" width="8.39" height="8.31" fill="#ffff00"/>
<rect x="484.94" y="431.59" width="8.39" height="8.31" fill="#91ec00"/>
<rect x="492.13" y="431.59" width="8.39" height="8.31" fill="#91ec00"/>
<rect x="499.32" y="431.59" width="7.19" height="8.31" fill="#91ec00"/>
<rect x="441.80" y="438.70" width="8.39" height="8.31" fill="#ff8c00"/>
<rect x="448.99" y="438.70" width="8.39" height="8.31" fill="#ff5800"/>
<rect x="456.18" y="438.70" width="8.39" height="8.31" fill="#ff8c00"/>
<rect x="463.37" y="438.70" width="8.39" height="8.31" fill="#ffff00"/>
<rect x="470.56" y="438.70" width="8.39" height="8.31" fill="#ffc300"/>
<rect x="477.75" y="438.70" width="8.39" height="8.31" fill="#ffff00"/>
<rect x="484.94" y="438.70" width="8.39" height="8.31" fill="#91ec00"/>
<rect x="492.13" y="438.70" width="8.39" height="8.31" fill="#64e200"/>
<rect x="499.32" y="438.70" width="7.19" height="8.31" fill="#64e200"/>
<rect x="441.80" y="445.81" width="8.39" height="8.31" fill="#ffc300"/>
<rect x="448.99" y="445.81" width="8.39" height="8.31" fill="#ffc300"/>
<rect x="456.18" y="445.81" width="8.39" height="8.31" fill="#ffc300"/>
<rect x="463.37" y="445.81" width="8.39" height="8.31" fill="#ffff00"/>
<rect x="470.56" y="445.81" width="8.39" height="8.31" fill="#ffff00"/>
<rect x="477.75" y="445.81" width="8.39" height="8.31" fill="#ffff00"/>
<rect x="484.94" y="445.81" width="8.39" height="8.31" fill="#91ec00"/>
<rect x="492.13" y="445.81" width="8.39" height="8.31" fill="#91ec00"/>
<rect x="499.32" y="445.81" width="7.19" height="8.31" fill="#91ec00"/>
<rect x="441.80" y="452.92" width="8.39" height="8.31" fill="#ff5800"/>
<rect x="448.99" y="452.92" width="8.39" height="8.31" fill="#ffc300"/>
<rect x="456.18" y="452.92" width="8.39" height="8.31" fill="#ff5800"/>
<rect x="463.37" y="452.92" width="8.39" height="8.31" fill="#ffff00"/>
<rect x="470.56" y="452.92" width="8.39" height="8.31" fill="#ffff00"/>
<rect x="477.75" y="452.92" width="8.39" height="8.31" fill="#ffff00"/>
<rect x="484.94" y="452.92" width="8.39" height="8.31" fill="#91ec00"/>
<rect x="492.13" y="452.92" width="8.39" height="8.31" fill="#cdf500"/>
<rect x="499.32" y="452.92" width="7.19" height="8.31" fill="#91ec00"/>
<rect x="441.80" y="460.03" width="8.39" height="8.31" fill="#ffc300"/>
<rect x="448.99" y="460.03" width="8.39" height="8.31" fill="#ff5800"/>
<rect x="456.18" y="460.03" width="8.39" height="8.31" fill="#ff5800"/>
<rect x="463.37" y="460.03" width="8.39" height="8.31" fill="#ffff00"/>
<rect x="470.56" y="460.03" width="8.39" height="8.31" fill="#ffff00"/>
<rect x="477.75" y="460.03" width="8.39" height="8.31" fill="#ffc300"/>
<rect x="484.94" y="460.03" width="8.39" height="8.31" fill="#91ec00"/>
<rect x="492.13" y="460.03" width="8.39" height="8.31" fill="#cdf500"/>
<rect x="499.32" y="460.03" width="7.19" height="8.31" fill="#91ec00"/>
<rect x="441.80" y="467.14" width="8.39" height="8.31" fill="#ffc300"/>
<rect x="448.99" y="467.14" width="8.39" height="8.31" fill="#ffc300"/>
<rect x="456.18" y="467.14" width="8.39" height="8.31" fill="#ffc300"/>
<rect x="463.37" y="467.14" width="8.39" height="8.31" fill="#ffff00"/>
<rect x="470.56" y="467.14" width="8.39" height="8.31" fill="#ffff00"/>
<rect x="477.75" y="467.14" width="8.39" height="8.31" fill="#ffc300"/>
<rect x="484.94" y="467.14" width="8.39" height="8.31" fill="#91ec00"/>
<rect x="492.13" y="467.14" width="8.39" height="8.31" fill="#91ec00"/>
<rect x="499.32" y="467.14" width="7.19" height="8.31" fill="#91ec00"/>
<rect x="441.80" y="474.25" width="8.39" height="8.31" fill="#ffff00"/>
<rect x="448.99" y="474.25" width="8.39" height="8.31" fill="#ffff00"/>
<rect x="456.18" y="474.25" width="8.39" height="8.31" fill="#ffff00"/>
<rect x="463.37" y="474.25" width="8.39" height="8.31" fill="#ffc300"/>
<rect x="470.56" y="474.25" width="8.39" height="8.31" fill="#ffc300"/>
<rect x="477.75" y="474.25" width="8.39" height="8.31" fill="#ffc300"/>
<rect x="484.94" y="474.25" width="8.39" height="8.31" fill="#91ec00"/>
<rect x="492.13" y="474.25" width="8.39" height="8.31" fill="#91ec00"/>
<rect x="499.32" y="474.25" width="7.19" height="8.31" fill="#91ec00"/>
<rect x="441.80" y="481.36" width="8.39" height="8.31" fill="#cdf500"/>
<rect x="448.99" y="481.36" width="8.39" height="8.31" fill="#cdf500"/>
<rect x="456.18" y="481.36" width="8.39" height="8.31" fill="#eefb00"/>
<rect x="463.37" y="481.36" width="8.39" height="8.31" fill="#eefb00"/>
<rect x="470.56" y="481.36" width="8.39" height="8.31" fill="#ffff00"/>
<rect x="477.75" y="481.36" width="8.39" height="8.31" fill="#ffff00"/>
<rect x="484.94" y="481.36" width="8.39" height="8.31" fill="#fc1600"/>
<rect x="492.13" y="481.36" width="8.39" height="8.31" fill="#fc1600"/>
<rect x="499.32" y="481.36" width="7.19" height="8.31" fill="#fc1600"/>
<rect x="441.80" y="488.47" width="8.39" height="8.31" fill="#eefb00"/>
<rect x="448.99" y="488.47" width="8.39" height="8.31" fill="#cdf500"/>
<rect x="456.18" y="488.47" width="8.39" height="8.31" fill="#eefb00"/>
<rect x="463.37" y="488.47" width="8.39" height="8.31" fill="#ffff00"/>
<rect x="470.56" y="488.47" width="8.39" height="8.31" fill="#ffff00"/>
<rect x="477.75" y="488.47" width="8.39" height="8.31" fill="#ffff00"/>
<rect x="484.94" y="488.47" width="8.39" height="8.31" fill="#ff3200"/>
<rect x="492.13" y="488.47" width="8.39" height="8.31" fill="#ff5800"/>
<rect x="499.32" y="488.47" width="7.19" height="8.31" fill="#ff3200"/>
<rect x="441.80" y="495.58" width="8.39" height="8.31" fill="#eefb00"/>
<rect x="448.99" y="495.58" width="8.39" height="8.31" fill="#eefb00"/>
<rect x="456.18" y="495.58" width="8.39" height="8.31" fill="#eefb00"/>
<rect x="463.37" y="495.58" width="8.39" height="8.31" fill="#eefb00"/>
<rect x="470.56" y="495.58" width="8.39" height="8.31" fill="#ffff00"/>
<rect x="477.75" y="495.58" width="8.39" height="8.31" fill="#ffff00"/>
<rect x="484.94" y="495.58" width="8.39" height="8.31" fill="#ff3200"/>
<rect x="492.13" y="495.58" width="8.39" height="8.31" fill="#ff3200"/>
<rect x="499.32" y="495.58" width="7.19" height="8.31" fill="#ff3200"/>
<rect x="441.80" y="502.69" width="8.39" height="8.31" fill="#eefb00"/>
<rect x="448.99" y="502.69" width="8.39" height="8.31" fill="#eefb00"/>
<rect x="456.18" y="502.69" width="8.39" height="8.31" fill="#eefb00"/>
<rect x="463.37" y="502.69" width="8.39" height="8.31" fill="#cdf500"/>
<rect x="470.56" y="502.69" width="8.39" height="8.31" fill="#ffff00"/>
<rect x="477.75" y="502.69" width="8.39" height="8.31" fill="#ffff00"/>
<rect x="484.94" y="502.69" width="8.39" height="8.31" fill="#fc1600"/>
<rect x="492.13" y="502.69" width="8.39" height="8.31" fill="#ff3200"/>
<rect x="499.32" y="502.69" width="7.19" height="8.31" fill="#fc1600"/>
<rect x="441.80" y="509.80" width="8.39" height="8.31" fill="#cdf500"/>
<rect x="448.99" y="509.80" width="8.39" height="8.31" fill="#eefb00"/>
<rect x="456.18" y="509.80" width="8.39" height="8.31" fill="#cdf500"/>
<rect x="463.37" y="509.80" width="8.39" height="8.31" fill="#ffff00"/>
<rect x="470.56" y="509.80" width="8.39" height="8.31" fill="#ffff00"/>
<rect x="477.75" y="509.80" width="8.39" height="8.31" fill="#ffff00"/>
<rect x="484.94" y="509.80" width="8.39" height="8.31" fill="#fc1600"/>
<rect x="492.13" y="509.80" width="8.39" height="8.31" fill="#fc1600"/>
<rect x="499.32" y="509.80" width="7.19" height="8.31" fill="#fc1600"/>
<rect x="441.80" y="516.91" width="8.39" height="8.31" fill="#eefb00"/>
<rect x="448.99" y="516.91" width="8.39" height="8.31" fill="#eefb00"/>
<rect x="456.18" y="516.91" width="8.39" height="8.31" fill="#eefb00"/>
<rect x="463.37" y="516.91" width="8.39" height="8.31" fill="#ffff00"/>
<rect x="470.56" y="516.91" width="8.39" height="8.31" fill="#ffff00"/>
<rect x="477.75" y="516.91" width="8.39" height="8.31" fill="#ffff00"/>
<rect x="484.94" y="516.91" width="8.39" height="8.31" fill="#ff3200"/>
<rect x="492.13" y="516.91" width="8.39" height="8.31" fill="#ff3200"/>
<rect x="499.32" y="516.91" width="7.19" height="8.31" fill="#ff3200"/>
<rect x="441.80" y="524.02" width="8.39" height="8.31" fill="#eefb00"/>
<rect x="448.99" y="524.02" width="8.39" height="8.31" fill="#eefb00"/>
<rect x="456.18" y="524.02" width="8.39" height="8.31" fill="#eefb00"/>
<rect x="463.37" y="524.02" width="8.39" height="8.31" fill="#eefb00"/>
<rect x="470.56" y="524.02" width="8.39" height="8.31" fill="#cdf500"/>
<rect x="477.75" y="524.02" width="8.39" height="8.31" fill="#ffff00"/>
<rect x="484.94" y="524.02" width="8.39" height="8.31" fill="#ff3200"/>
<rect x="492.13" y="524.02" width="8.39" height="8.31" fill="#ff3200"/>
<rect x="499.32" y="524.02" width="7.19" height="8.31" fill="#ff5800"/>
<rect x="441.80" y="531.13" width="8.39" height="8.31" fill="#eefb00"/>
<rect x="448.99" y="531.13" width="8.39" height="8.31" fill="#eefb00"/>
<rect x="456.18" y="531.13" width="8.39" height="8.31" fill="#eefb00"/>
<rect x="463.37" y="531.13" width="8.39" height="8.31" fill="#cdf500"/>
<rect x="470.56" y="531.13" width="8.39" height="8.31" fill="#cdf500"/>
<rect x="477.75" y="531.13" width="8.39" height="8.31" fill="#ffff00"/>
<rect x="484.94" y="531.13" width="8.39" height="8.31" fill="#ff3200"/>
<rect x="492.13" y="531.13" width="8.39" height="8.31" fill="#ff5800"/>
<rect x="499.32" y="531.13" width="7.19" height="8.31" fill="#ff3200"/>
<rect x="441.80" y="538.24" width="8.39" height="7.11" fill="#eefb00"/>
<rect x="448.99" y="538.24" width="8.39" height="7.11" fill="#eefb00"/>
<rect x="456.18" y="538.24" width="8.39" height="7.11" fill="#eefb00"/>
<rect x="463.37" y="538.24" width="8.39" height="7.11" fill="#91ec00"/>
<rect x="470.56" y="538.24" width="8.39" height="7.11" fill="#cdf500"/>
<rect x="477.75" y="538.24" width="8.39" height="7.11" fill="#ffff00"/>
<rect x="484.94" y="538.24" width="8.39" height="7.11" fill="#ff3200"/>
<rect x="492.13" y="538.24" width="8.39" height="7.11" fill="#ff5800"/>
<rect x="499.32" y="538.24" width="7.19" height="7.11" fill="#ff3200"/>
<g transform="translate(410.7 0) scale(0.95 1)" font-size="5.4" font-weight="bold" fill="#000" stroke="#000" stroke-width="0.35"><text x="0" y="373.19">ARHGAP19</text>
<text x="0" y="380.30">FN1</text>
<text x="0" y="387.41">FN1</text>
<text x="0" y="394.52">FN1</text>
<text x="0" y="401.63">FN1</text>
<text x="0" y="408.74">DIRAS2</text>
<text x="0" y="415.85">EPHB1</text>
<text x="0" y="422.96">ZEB1</text>
<text x="0" y="430.07">ZEB1</text>
<text x="0" y="437.18">NTRK2</text>
<text x="0" y="444.29">NTRK2</text>
<text x="0" y="451.40">TUBB4</text>
<text x="0" y="458.51">LOX</text>
<text x="0" y="465.62">FN1</text>
<text x="0" y="472.73">ZEB2</text>
<text x="0" y="479.84">RECK</text>
<text x="0" y="486.95">ARHGDIB</text>
<text x="0" y="494.06">NTN4</text>
<text x="0" y="501.17">ARHGDIB</text>
<text x="0" y="508.28">UCA1</text>
<text x="0" y="515.39">CDH1</text>
<text x="0" y="522.50">EPS8L1</text>
<text x="0" y="529.61">EPS8L1</text>
<text x="0" y="536.72">LAMB3</text>
<text x="0" y="543.83">PTHLH</text></g>
<line x1="441.1" y1="361" x2="461.5" y2="361" stroke="#222" stroke-width="1.1"/>
<line x1="465.6" y1="361" x2="486" y2="361" stroke="#222" stroke-width="1.1"/>
<line x1="490.8" y1="361" x2="510.9" y2="361" stroke="#222" stroke-width="1.1"/>
<text transform="translate(449.7,360.7) rotate(-55)" font-size="9" fill="#000" stroke="#000" stroke-width="0.2">mock</text>
<text transform="translate(474.2,360.7) rotate(-55)" font-size="9" fill="#000" stroke="#000" stroke-width="0.2">negative</text>
<text transform="translate(501.8,360.9) rotate(-55)" font-size="9" fill="#000" stroke="#000" stroke-width="0.2">pre-200c</text>
<text x="380.6" y="338.8" font-size="12.0" font-weight="bold" fill="#000">D</text>
<g><line x1="406.50" y1="371.16" x2="409.50" y2="371.16" stroke="#4a4a4a" stroke-width="0.95"/>
<line x1="406.50" y1="378.27" x2="409.50" y2="378.27" stroke="#4a4a4a" stroke-width="0.95"/>
<line x1="406.50" y1="385.38" x2="409.50" y2="385.38" stroke="#4a4a4a" stroke-width="0.95"/>
<line x1="406.50" y1="392.49" x2="409.50" y2="392.49" stroke="#4a4a4a" stroke-width="0.95"/>
<line x1="406.50" y1="399.60" x2="409.50" y2="399.60" stroke="#4a4a4a" stroke-width="0.95"/>
<line x1="406.50" y1="371.16" x2="406.50" y2="399.60" stroke="#4a4a4a" stroke-width="0.95"/>
<line x1="406.20" y1="406.71" x2="409.50" y2="406.71" stroke="#4a4a4a" stroke-width="0.95"/>
<line x1="406.20" y1="413.82" x2="409.50" y2="413.82" stroke="#4a4a4a" stroke-width="0.95"/>
<line x1="406.20" y1="406.71" x2="406.20" y2="413.82" stroke="#4a4a4a" stroke-width="0.95"/>
<line x1="406.80" y1="420.93" x2="409.50" y2="420.93" stroke="#4a4a4a" stroke-width="0.95"/>
<line x1="406.80" y1="428.04" x2="409.50" y2="428.04" stroke="#4a4a4a" stroke-width="0.95"/>
<line x1="406.80" y1="420.93" x2="406.80" y2="428.04" stroke="#4a4a4a" stroke-width="0.95"/>
<line x1="405.60" y1="385.38" x2="406.50" y2="385.38" stroke="#4a4a4a" stroke-width="0.95"/>
<line x1="405.60" y1="410.26" x2="406.20" y2="410.26" stroke="#4a4a4a" stroke-width="0.95"/>
<line x1="405.60" y1="424.48" x2="406.80" y2="424.48" stroke="#4a4a4a" stroke-width="0.95"/>
<line x1="405.60" y1="385.38" x2="405.60" y2="424.48" stroke="#4a4a4a" stroke-width="0.95"/>
<line x1="406.30" y1="435.15" x2="409.50" y2="435.15" stroke="#4a4a4a" stroke-width="0.95"/>
<line x1="406.30" y1="442.25" x2="409.50" y2="442.25" stroke="#4a4a4a" stroke-width="0.95"/>
<line x1="406.30" y1="435.15" x2="406.30" y2="442.25" stroke="#4a4a4a" stroke-width="0.95"/>
<line x1="406.80" y1="463.59" x2="409.50" y2="463.59" stroke="#4a4a4a" stroke-width="0.95"/>
<line x1="406.80" y1="470.70" x2="409.50" y2="470.70" stroke="#4a4a4a" stroke-width="0.95"/>
<line x1="406.80" y1="463.59" x2="406.80" y2="470.70" stroke="#4a4a4a" stroke-width="0.95"/>
<line x1="404.40" y1="404.93" x2="405.60" y2="404.93" stroke="#4a4a4a" stroke-width="0.95"/>
<line x1="404.40" y1="438.70" x2="406.30" y2="438.70" stroke="#4a4a4a" stroke-width="0.95"/>
<line x1="404.40" y1="449.37" x2="409.50" y2="449.37" stroke="#4a4a4a" stroke-width="0.95"/>
<line x1="404.40" y1="456.48" x2="409.50" y2="456.48" stroke="#4a4a4a" stroke-width="0.95"/>
<line x1="404.40" y1="467.14" x2="406.80" y2="467.14" stroke="#4a4a4a" stroke-width="0.95"/>
<line x1="404.40" y1="404.93" x2="404.40" y2="467.14" stroke="#4a4a4a" stroke-width="0.95"/>
<line x1="400.40" y1="446.40" x2="404.40" y2="446.40" stroke="#4a4a4a" stroke-width="0.95"/>
<line x1="400.40" y1="477.81" x2="409.50" y2="477.81" stroke="#4a4a4a" stroke-width="0.95"/>
<line x1="400.40" y1="446.40" x2="400.40" y2="477.81" stroke="#4a4a4a" stroke-width="0.95"/>
<line x1="392.10" y1="462.10" x2="400.40" y2="462.10" stroke="#4a4a4a" stroke-width="0.95"/>
<line x1="407.30" y1="484.92" x2="409.50" y2="484.92" stroke="#4a4a4a" stroke-width="0.95"/>
<line x1="407.30" y1="492.03" x2="409.50" y2="492.03" stroke="#4a4a4a" stroke-width="0.95"/>
<line x1="407.30" y1="484.92" x2="407.30" y2="492.03" stroke="#4a4a4a" stroke-width="0.95"/>
<line x1="407.50" y1="513.36" x2="409.50" y2="513.36" stroke="#4a4a4a" stroke-width="0.95"/>
<line x1="407.50" y1="520.47" x2="409.50" y2="520.47" stroke="#4a4a4a" stroke-width="0.95"/>
<line x1="407.50" y1="513.36" x2="407.50" y2="520.47" stroke="#4a4a4a" stroke-width="0.95"/>
<line x1="407.30" y1="527.58" x2="409.50" y2="527.58" stroke="#4a4a4a" stroke-width="0.95"/>
<line x1="407.30" y1="534.69" x2="409.50" y2="534.69" stroke="#4a4a4a" stroke-width="0.95"/>
<line x1="407.30" y1="527.58" x2="407.30" y2="534.69" stroke="#4a4a4a" stroke-width="0.95"/>
<line x1="406.30" y1="488.47" x2="407.30" y2="488.47" stroke="#4a4a4a" stroke-width="0.95"/>
<line x1="406.30" y1="499.13" x2="409.50" y2="499.13" stroke="#4a4a4a" stroke-width="0.95"/>
<line x1="406.30" y1="506.25" x2="409.50" y2="506.25" stroke="#4a4a4a" stroke-width="0.95"/>
<line x1="406.30" y1="516.91" x2="407.50" y2="516.91" stroke="#4a4a4a" stroke-width="0.95"/>
<line x1="406.30" y1="531.13" x2="407.30" y2="531.13" stroke="#4a4a4a" stroke-width="0.95"/>
<line x1="406.30" y1="541.80" x2="409.50" y2="541.80" stroke="#4a4a4a" stroke-width="0.95"/>
<line x1="406.30" y1="488.47" x2="406.30" y2="541.80" stroke="#4a4a4a" stroke-width="0.95"/>
<line x1="392.40" y1="515.13" x2="406.30" y2="515.13" stroke="#4a4a4a" stroke-width="0.95"/></g>
</svg>
</body></html>
